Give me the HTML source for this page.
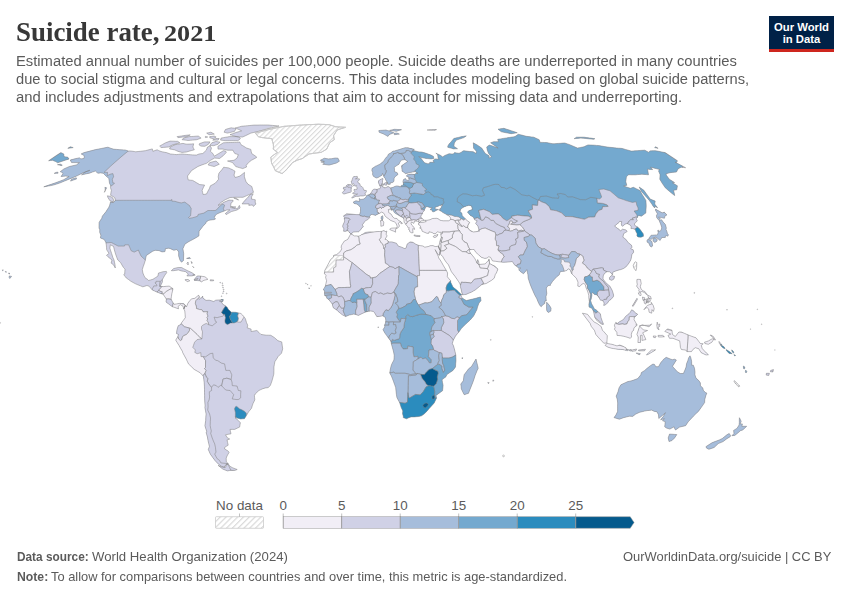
<!DOCTYPE html>
<html><head><meta charset="utf-8">
<style>
html,body{margin:0;padding:0;background:#fff;}
body{width:850px;height:600px;position:relative;overflow:hidden;font-family:"Liberation Sans",sans-serif;}
.t{position:absolute;white-space:nowrap;transform-origin:0 0;filter:grayscale(1);}
#title{left:16px;top:15.5px;font-family:"Liberation Serif",serif;font-weight:bold;font-size:28px;color:#383838;line-height:32px;transform-origin:0 0;transform:scaleX(0.961);}
#title2{left:163.9px;top:20.3px;font-family:"Liberation Serif",serif;font-weight:bold;font-size:22.3px;color:#383838;line-height:28px;transform:scaleX(1.175);}
.sub{left:16px;font-size:14px;color:#5b5b5b;line-height:18px;}
#logo{position:absolute;left:769px;top:16px;width:65px;height:33px;background:#002147;border-bottom:3px solid #ce261e;}
#logo div{position:absolute;width:65px;text-align:center;color:#fff;font-weight:bold;font-size:11.3px;line-height:12px;}
.foot{font-size:13px;color:#5b5b5b;}
.foot b{color:#5b5b5b;}
.leg{font-size:12.5px;color:#5b5b5b;}
</style></head><body>
<div class="t" id="title">Suicide rate,</div><div class="t" id="title2">2021</div>
<div class="t sub" id="s1" style="top:52.3px;transform:scaleX(1.055)">Estimated annual number of suicides per 100,000 people. Suicide deaths are underreported in many countries</div>
<div class="t sub" id="s2" style="top:70.3px;transform:scaleX(1.047)">due to social stigma and cultural or legal concerns. This data includes modeling based on global suicide patterns,</div>
<div class="t sub" id="s3" style="top:88.3px;transform:scaleX(1.062)">and includes adjustments and extrapolations that aim to account for missing data and underreporting.</div>
<div id="logo"><div style="top:4.6px">Our World</div><div style="top:16.8px">in Data</div></div>
<svg width="850" height="600" style="position:absolute;left:0;top:0">
<defs><pattern id="hatch" patternUnits="userSpaceOnUse" width="3.5" height="3.5" patternTransform="rotate(45)"><rect width="3.5" height="3.5" fill="#fff"/><rect width="1.1" height="3.5" fill="#dadada"/></pattern><pattern id="hatchL" patternUnits="userSpaceOnUse" width="4.1" height="4.1" patternTransform="rotate(45)"><rect width="4.1" height="4.1" fill="#fff"/><rect width="1.2" height="4.1" fill="#dadada"/></pattern>
<clipPath id="L"><path clip-rule="evenodd" d="M70.3 160.1L73 159.3L75.8 158.6L77.7 158.2L79.6 157.8L80.7 158.9L83.9 158.5L84.3 156.9L84.1 155.5L83.1 155L82.1 154.4L81.2 153.9L84.1 152.6L88 151.6L91.8 150.6L95.6 149.6L98.7 149L101.8 148.4L104.8 147.8L107.9 147.2L109.3 147.7L110.6 148.2L112 148.7L113.4 149.1L114.9 149.3L116.5 149.4L118.1 149.6L119.8 149.7L121.6 149.8L123.4 149.9L125.2 150L126.8 150.5L128.3 151L129.9 151L131.5 151.1L132.9 151.3L134.3 151.5L135.7 151.8L138.1 151.5L140.4 151.3L142.9 151L145.3 150.7L147.7 150.1L150 149.5L152.3 148.9L152.6 150.1L152.9 151.3L157.1 149.8L158.4 150.4L159.7 151L161 151.5L162.8 151.9L164.7 152.3L166.5 152.6L167.8 153.1L169 153.5L170.3 154L172.3 154.2L174.4 154.4L176.4 154.6L178.3 154.4L180.2 154.2L182.1 154L184.2 154.2L186.2 154.4L188.3 154.6L190.3 154.7L192.3 154.9L194.4 155L196.4 155.1L199 154L200.9 153.7L202.8 153.5L206.3 150.2L207.5 147L210.1 145.9L210.8 147L211.5 148.1L210.4 151.3L211.6 152.4L212.9 153.5L213.6 154.9L214.3 156.2L218.8 153.5L223.4 150.7L225.6 151.1L226.3 152.4L223.1 155.8L219.5 158.5L217.9 158.3L216.3 158.2L214.7 158L210.5 160.3L206.6 163.3L204.3 164.1L201.9 164.9L199.9 165.7L197.9 166.5L194.8 168.5L191.6 170.5L189.6 173.3L187.5 176L187.8 178L188.2 179.9L190.4 180.2L192.6 180.4L194.7 181.6L196.3 182.6L198 183.6L199.7 184.6L202.1 184.8L204.6 185.1L203.3 187.7L202.1 190.3L202.6 192.4L203.1 194.5L204.8 194.3L206.5 194L208 191.1L209.5 188.3L210.4 185.8L212.7 184.6L215.1 183.3L216.9 181.3L218.6 179.2L218.2 176.8L218.9 173.2L221.8 169.8L223.7 167.2L225.3 167.5L227 167.7L228.6 167.9L230.4 168.8L232.3 169.6L233.6 170.4L235 171.2L234.5 173.2L234 175.1L235.2 177.5L237.6 176.8L240 176L244.5 172.4L244.4 174.6L244.4 176.8L245.2 179.2L246 181.6L247.9 184.1L249.8 185.3L251.8 186.5L252.6 189.4L253.5 192.3L249.8 194.3L246.4 195.8L243 197.3L240.4 197.3L237.7 197.3L235 197.3L232.5 197.4L230 197.5L227.5 198.7L225.1 199.8L221.1 202.4L218 205.4L220.4 204.4L224.3 202.1L226.7 201.1L229 200.1L231 200.2L233 200.3L233.2 201.3L231 203.1L230.7 205.4L230.6 207.5L233 208L235.4 208.5L237.4 208.7L239.4 205.4L240.1 208L237 210L234.2 210.8L231.4 211.6L228.8 213.1L226.1 214.6L225.5 213.4L227.7 211.6L229.9 209.8L226.7 210L224.3 211L220.8 212.3L218.7 213.2L216.7 214.1L215 215.9L215 216.6L213.9 217.5L215.6 218.8L214.3 219.6L212.1 219.8L208.8 220.3L206.2 221.9L205.7 223.4L202.9 226.3L202.2 227.3L199.1 231.2L199 233.5L199 235.8L196.4 237.5L192.8 239.5L190.3 240.8L187.8 242.2L184.8 244.3L183.9 246.5L182.9 248.7L183.3 251.1L183.7 253.4L183.6 257L183.5 260.5L181.5 262.2L180 260.2L179.3 258L178.6 255.8L178.7 251.9L176.8 249.5L173.9 250.3L172 249.4L170.1 248.5L168.4 248.2L165.4 248.7L165 251.6L162 251.9L159 250.6L157 250.4L155.1 250.3L152.6 251.3L149.4 253.4L146.3 255.5L145.8 257.8L145.4 260.1L144.2 263.9L143.2 266.7L142.3 269.6L142.9 273L143.9 275.4L145 277.7L147.7 279.5L148.5 280.5L150.7 279.9L152.9 279.3L155.4 277.7L157.9 276.1L158.5 273L160.8 272.4L163 271.7L166.4 271.4L166.7 272.7L164.9 275.1L163.7 277.3L162.4 279.5L162.3 282.1L161.3 284.2L160.2 286.3L163.4 286.6L166.3 286.3L169.2 286.1L171.1 287.4L173 288.7L172.4 291.3L171.8 293.9L171.4 296.5L171 299.1L172.4 301.7L174.1 304.3L176.8 303.9L179.4 303.4L181.6 303.5L183.8 303.6L185.3 305.4L183.8 309L183 306.2L180.3 304.6L178.1 306.4L178.5 308.8L176.2 308L174.3 307.3L172.4 306.7L170.8 305.6L168.4 303.8L166 302L166.4 299.1L164.7 296.6L163.1 294.2L160.4 293.4L158.7 292.7L156.9 292.1L154.6 291L152.3 290L150.6 288L148.9 286.1L146.9 285.5L144.9 286.2L142.8 286.8L140.4 285.8L137.9 284.8L135.5 283.8L133.1 282.5L130.6 281.1L128.5 279.5L126.3 278L123.7 274.6L124.7 274.1L124.8 271.6L125 269.1L123.3 267.3L121.9 264.9L120.6 262.6L117.8 260L116.8 257.5L115.9 255L115.1 252.5L114.4 250L113.5 246.4L111.9 245.6L110.3 244.8L109.9 248.2L110.7 250.8L111.6 253.4L112.8 257.3L114 260L114.5 262.3L115 264.7L115.3 268L113.4 264.7L111.1 263.1L112 260L110 258.4L108 256.8L106.5 255.3L109 253.4L106.7 249.8L106.5 247.3L106.3 244.8L105.9 242.9L105.9 242.5L104.3 239.6L102.3 238.7L100.4 237.9L100.9 235.2L99.7 232.3L99.8 229.2L99 228.6L99 225.5L99.1 222.4L100.4 220.3L101.8 218.3L102.3 216.2L104.1 214L105.9 211.8L107.3 209.6L108.7 207.5L109.6 205.4L110.6 201.8L113.3 202.4L115.3 200.6L115 200.3L115.2 199.6L114.8 197.8L113 196.5L111.8 195.9L110.6 195.3L110.9 192.8L111.4 190.3L110.5 187.8L110.8 186L110.2 184.7L109.5 183.3L109.2 180.9L108.8 178.5L107.6 177.2L105.9 176L105.2 175.2L104.4 174.4L103.3 173.2L100.7 172.9L97.7 173.2L96.6 172.1L95.4 171L92.4 172.1L89.4 173.2L86.8 173.7L84.2 174.3L81.5 174.8L85.2 172L89.8 170.3L86 171.7L82.1 173.2L77.6 175.6L73.3 177.4L69 179.2L64.6 181L60.3 182.8L56.7 184L53.2 185.1L50.7 185.6L48.3 186L46 186.4L43.8 186.8L48.1 185.3L51.8 184.1L55.5 182.8L59.6 181.3L63.7 179.7L69.1 176.5L67.5 176.3L65.9 176L63.5 176.3L61 176.5L63.1 173.6L62.2 172.8L61.4 172L60.2 171.7L63.9 168.9L69.4 166.5L72.9 165.7L76.4 164.9L79.4 162.6L77.2 162.6L75 162.6L73.3 162.6L71.6 162.6L70.9 161.3ZM113.1 202.1L111.5 201.3L109.8 200.6L108.9 199.1L107.9 197.5L107.4 195.8L109.8 196.3L111.3 197L112.7 197.8L113.6 200.1ZM105.2 190.3L105.1 188.5L104.9 187.3L106.6 187.8L105.5 190L104.4 192.3ZM76.6 178.9L73.5 180L70.5 181.1L71.6 179.2L73.9 178.5L76.2 177.7ZM57.5 164.7L59.4 165.1L61.3 165.6L62.3 165.2L61.4 164.7L60.5 164.2ZM58 172.2L58.1 173.2L56.1 173.3L54.2 173.4L55.9 172.4ZM242.1 203.9L244.9 200.3L247.1 198.3L250.3 194.5L253.2 193.8L251.6 196.8L251.5 199.1L253.4 199.4L255.3 199.8L255.2 202.1L255.9 204.1L253.3 206.4L252.4 204.9L250.6 205.2L248.8 205.4L249.1 203.9L246.5 203.9L244 203.9ZM233.8 198L236.2 199.1L238.7 200.1L237.9 199.3L235.5 198.2ZM231.1 206.4L233.5 206.7L235.9 206.9L234.6 208L231.7 207.2ZM171.3 270.7L173.6 268.6L175.9 268L178.2 267.5L181.6 267.5L183.7 268.7L185.8 269.8L188 270.9L190 271.8L192 272.7L195.2 275.1L191.9 275.9L189.4 275.9L186.9 275.9L188.3 274.1L185.6 271.7L183.4 271.3L181.2 270.9L178.4 269.9L175.6 270.4L173.3 270.7ZM194 279.8L197.1 276.1L198 275.9L200.5 276.1L202.5 276.4L204.5 276.7L205.8 277.4L207.9 279.3L206.2 279.8L203.9 280.3L201.3 281.9L200 280.8L197.5 280.6L194.1 280.3L197.7 279.3L198 278.2L196 279ZM184.9 279.8L188.1 279.5L189.8 280.8L187.4 281.6ZM210.3 279.8L212.1 279.9L213.9 280.1L213.4 280.8L210.2 280.8ZM221 299.6L223.3 299.6L222.9 301.5L220.9 301.5ZM188 262L188.3 264.7L188 264.9L186.9 263.6ZM190.6 258.4L189.8 257.6L187.5 258.1L186.6 258.4L189.4 258.6ZM192.2 262.6L191.2 261.5L191.8 263.6ZM192.6 266.5L193.4 267.3L194 267.8L193.2 266.7ZM282.1 173.6L279.9 172.7L277.6 171.7L275.4 170.8L274.4 168.6L273.4 166.5L272.5 164.9L271.6 163.3L271.3 161.2L271.1 159.1L270.8 157.1L274.1 154.7L277.5 152.4L276 151.3L274.6 150.2L273.2 149.1L273.5 147L273.3 144.2L272.8 142.5L272.3 140.7L272 138.7L270 138.5L268 138.3L266 138.1L264 137.8L262 137.6L260.8 137.3L259.5 137L258.3 136.6L257.2 135.5L256.3 134.3L255.4 133.1L257.7 132.5L260.1 131.9L262.4 131.3L264.7 130.6L267 130L269.4 129.4L271.8 128.9L274.2 128.3L276.2 127.9L278.3 127.5L280.3 127.1L282.3 126.7L284.2 126.3L286.2 126.2L288.2 126L290.1 125.9L292.1 125.7L294 125.6L296 125.4L297.9 125.3L299.8 125.1L301.7 125L303.6 124.9L305.5 124.8L307.3 124.7L309.2 124.6L311 124.5L312.9 124.5L314.7 124.4L316.6 124.3L318.4 124.2L320.2 124.3L322 124.4L323.7 124.4L325.5 124.5L327.3 124.6L329.1 124.7L330.6 125.1L332.1 125.6L333.7 126.1L335.3 126.7L337 126.8L338.7 126.9L340.4 127L342.1 127.1L343.8 127.2L345.5 127.3L343.5 128L341.4 128.6L339.3 129.3L337.2 130L336 131.8L334.8 133.7L333.6 135.7L333.9 137.6L334.3 139.7L332 141.2L329.7 142.8L328.7 144.9L327.7 147L326.7 149.1L324.9 150.2L323 151.3L321.1 152.4L318.6 152.7L316.2 153L313.8 153.3L311.3 153.7L308.9 154L306.8 155.5L304.6 156.9L302.5 158.5L300 159.3L297.5 160.1L295 161.3L292.5 162.6L289.6 166.1L287.6 168.4L285.4 170.8ZM246.6 167L244.7 167.8L242.7 168.6L241 168.1L239.2 167.6L237.5 167.1L235.7 166.5L234.7 165.2L233.6 163.9L232.6 162.6L230.9 162L229.2 161.5L227.5 161L229.6 160.7L231.8 160.5L234 160.3L237.1 158L238.3 154.6L236.6 154.1L234.8 153.5L233.8 151.9L232.9 150.2L231.2 150.2L229.6 150.2L227.9 150.2L226.2 149.9L224.6 149.5L222.9 149.1L221.3 149.1L219.6 149.1L218 149.1L217.9 146.3L220.6 144.5L223.4 142.8L225.1 142.7L226.7 142.6L228.4 142.6L230.4 142.5L232.4 142.5L234.4 142.4L236.5 142.4L238.1 142.2L239.8 142.1L240.4 143.4L241 144.7L242.4 145.5L243.8 146.3L245.2 147.2L246.7 148.1L248.1 148.5L249.4 148.9L250.8 149.4L251.2 151.4L251.7 153.5L253.3 154.6L255 155.8L256.6 156.9L256.5 157.6L254 158.9L251.4 160.3L248.5 162.6L246.2 165.4ZM209.7 162.6L211.9 162L214 161.5L216.1 161L217.1 162L218.2 163.1L219.3 164.2L216.7 165.4L214.2 166.5L212.3 166.1L210.4 165.6L208.1 164.9ZM170.1 147L175.2 144.7L177.8 144.2L180.4 143.8L183 143.4L184.3 143.7L185.6 144L186.9 144.2L189.2 144.1L191.5 144L193.7 143.8L192.9 147L193.6 148.4L194.3 149.8L191.7 150.5L189.1 151.2L186.5 152L184.2 152.2L181.9 152.4L180.5 152L179.2 151.7L177.9 151.3L176.8 150.8L175.6 150.3L174.5 149.8L172.8 149.5L171.2 149.2L169.6 148.9ZM159.7 146.1L162.6 144.4L165.5 142.8L170.1 141.1L172 141.2L173.8 141.2L175.7 141.3L177.6 141.3L178.7 142L179.8 142.8L177.4 143.5L175 144.2L172.5 144.9L168.5 147L166.1 147.2L163.6 147.4L161.2 147.6L160.5 146.9ZM183.5 138.1L186.3 137.3L189.2 136.6L191.5 136.5L193.8 136.4L196.1 136.2L198.3 136.1L199.2 136.7L200.2 137.4L201.1 138.1L196.8 139.7L194.6 139.9L192.5 140.1L190.3 140.3L188.1 140.5L186.6 140.3L185.1 140.1L183.6 139.9L182.1 139.7ZM199.1 144.9L200 145.5L201 146.1L203 146.2L204.9 146.3L208.5 144.2L210 141.9L208.1 141.9L206.3 141.9L204.5 141.9L202 142.8L199.5 143.6ZM209.7 145.5L211.6 145.6L213.6 145.7L215.8 145L218.1 144.2L220 142.1L218.7 141.9L217.3 141.7L215.9 141.5L213.9 142.1L211.8 142.8ZM237.9 140.7L235.8 140.7L233.7 140.7L231.6 140.7L229.5 140.7L227.4 140.7L225.3 140.7L223.7 140.5L222.1 140.3L220.5 140.1L221.1 138.1L223.2 137.7L225.3 137.3L227.3 137L229.4 136.6L231.2 136.6L233.1 136.6L234.9 136.6L236.7 136.6L238.5 136.6L239.5 137.6L240.4 138.7ZM213.5 138.7L212.2 138.4L211 138.1L209.8 137.8L209.7 136.6L211.9 136.4L214.2 136.1L215.1 136.5L216.1 137ZM218.2 140.1L216.3 140.1L214.5 140.1L212.7 140.1L216 138.5L217.5 138.5L219.1 138.5ZM186.9 136.6L184.7 136.9L182.4 137.1L180.2 137.4L177.9 137.6L177.1 136.6L179.3 136.3L181.5 136L183.7 135.6L185.9 135.3L188 135.1L190.2 134.9ZM242.7 137L245.5 135.7L248.2 134.4L250.9 133.1L253.5 132.5L256.1 131.9L258.6 131.3L261.2 130.6L263.8 129.9L266.3 129.2L268.8 128.5L271.3 127.9L273.7 127.3L275.5 126.9L277.2 126.4L279 126L277.4 125.9L275.7 125.7L274.1 125.6L272.5 125.4L270.9 125.3L269.3 125.1L267.7 125L265.7 125L263.8 125L261.8 125L259.8 125L257.9 125.1L255.9 125.1L253.9 125.1L251.9 125.3L249.8 125.5L247.7 125.7L245.6 125.9L243.5 126.1L241.4 126.3L239.3 126.9L237.1 127.5L235 128.1L236.3 128.6L237.6 129L238.9 129.5L239.8 130L240.7 130.4L241.6 130.9L239.5 131.5L237.3 132.1L235.1 132.8L232.6 133.7L230 134.7L231.5 135.1L233.1 135.6L234.6 136.1L235.8 136.4L236.9 136.7L238.1 137L239.7 137L241.2 137ZM234.7 128.3L233.5 128.1L232.4 128L231.2 127.8L228.3 128.6L225.4 129.5L224.1 132.2L225.2 132.5L226.3 132.8L227.3 133.1L229.7 132.6L232.1 132L234.4 131.5L235.8 129.2ZM214.3 134.1L213.2 133.5L212 132.8L210.9 132.2L208.8 132.7L206.7 133.1L207.5 133.7L208.3 134.2L209.1 134.7L210.9 134.5L212.6 134.3ZM207.7 137L206.5 136.7L205.4 136.4L205.4 137.6ZM185.3 305.4L186.4 307L187.9 303.3L189.7 300.7L191.4 299.1L192.8 298.6L194.9 298.3L197.6 296L198.7 295.3L199.5 297.3L198.3 298.6L199 299.4L200.2 298.3L202 297.6L202.6 296L202.9 298.1L206 300.4L209.2 300.2L211.5 300.8L213.8 301.5L215.7 300.2L218.2 300L220.7 299.9L219.3 301.2L221.5 302L222.8 304.3L225.1 305.6L227.3 307.5L228.4 309.6L229.1 310.1L231.3 312.2L233.6 312.2L235.9 312.3L238.6 313L240.9 313.5L242.5 315L244.1 316.9L245.4 318.7L246.5 322.6L247.7 325.2L247.2 327.8L249.2 328.5L251.1 329.1L251.1 331.5L254 331L256.9 330.5L258.9 332.4L260.9 334.4L263.5 334.8L266.2 335.2L268.5 335.2L270.8 335.3L274.3 337.5L277.8 340.6L279.7 341.3L281.7 341.9L281.9 343L282.3 345.9L282.7 348.9L282.1 351L281.5 353.2L278.1 356.6L276.5 359.2L274.8 361.8L274.4 364.4L273.9 367L273.9 370.5L273.8 374.1L272.9 377.5L272 380.8L271.2 383.1L270.4 385.3L268.3 387.6L265.6 387.9L262.8 388.7L260.8 389.6L258.9 390.5L257.1 392.2L255.3 393.9L254.4 395.5L254.6 397.7L254.8 399.9L253 403.6L252.2 405.9L251.5 408.3L250 410.1L248.5 411.9L246.3 415.8L244.4 418.7L242.6 418.8L240.7 419L238.9 418.5L237 417.9L235.4 416.4L235.8 418.2L239 421.3L240.4 422.6L240 424.8L239.6 427.1L237.1 428.2L234.7 429.4L232.4 429.4L230 429.4L230.5 431.6L231 433.8L228.2 434.3L225.5 434.8L227.5 437.9L229.7 439L227.8 439.8L227 439.8L227.6 442.5L228.2 445.2L226.4 446.3L224.6 447.5L224.7 449L227.8 450.8L229.1 452.3L228.1 454.1L227.1 455.9L226.2 458.1L226.3 461.9L228.5 463.8L226.4 464.2L224.6 466.4L224.4 467.7L221.4 466.2L218.5 464.2L214.9 460.4L212.6 457.3L210.3 454.1L209.3 451.8L208.3 449.5L209.4 446.4L208.7 443.5L208 440.5L207.4 436.9L206.7 434.6L206.1 432.2L206.8 431.7L205.8 428.7L204.9 425.7L205.2 423.9L205.7 420.5L205.8 417.3L206.1 414L205.5 410.7L204.9 407.5L205.1 405.9L204.8 402.1L204.6 398.3L204.6 395.4L204.5 392.4L204.5 389.5L204.4 386.1L204.2 382.7L203.8 379.4L203.3 376.1L200.2 372.8L197.2 371.1L194.2 369.4L191.3 366.6L188.5 363.9L187.4 361.5L186.3 359.2L184.5 355.9L182.7 352.6L182.4 351.3L180.7 348.5L179.1 345.6L177.4 342.9L175.7 340.1L177.7 337L178.5 334.4L176.5 333.6L176.9 330.2L177.5 328L178.2 325.8L180.8 324.4L181.3 323.1L183.3 320.4L185.3 317.7L185.1 314.3L184.8 310.9L183.8 309ZM228.7 464.4L229.8 466.2L232.9 467.9L235.1 468.7L237.2 469.5L234.9 470.4L233 470.4L231.1 470.4L229.2 470.6L227.4 470.9L225.1 470L222.8 469.1L218.1 465.4L221.7 466.9L223.7 467L225.7 467.2L226.2 464.7ZM438.4 246.1L439 245.3L439.4 244L439.7 242.2L439.9 241.4L440.5 239.3L441.3 237.4L440.9 235.2L440.8 234.1L441.2 232.3L439.2 232.3L437.6 231.8L435.5 233.5L434 233.8L432.1 232.5L429 231.8L428.8 233.3L427 233.3L423.9 232L422.1 231.2L421.6 228.9L419.6 227.9L421 227.6L419.9 225.3L418.6 224.7L418.7 223.4L419 222.9L419.6 222.4L422.8 222.4L424.6 222L426.3 221.5L424.5 220.3L427 220.3L430.1 219.7L432.4 218.5L434.6 218.4L436.8 218.3L438.8 219L439.6 220.1L441.4 220.5L443.1 220.8L445 220.8L446.9 220.8L448.6 220.8L450.6 219.6L450.7 219.3L450.6 217.9L448.7 215.7L446.4 214.6L445.7 214.1L442.5 212.3L441.3 211.3L440.1 210.8L438.7 209.8L441.1 208L441.7 206.2L442.9 204.9L440.9 205.2L439.6 205.4L438.3 206.2L436.7 206.7L435.2 207.2L435.1 209L438.3 209.5L436.2 210.5L433.9 211.8L432.4 211.6L431.9 210L430 209.6L431.9 208.2L432.1 207.5L430.5 207.7L427.5 206.7L426 206.7L424.3 210L424.2 211L422.5 212.6L422.5 213.7L421.3 215.2L420.7 217L421.9 218.3L424.2 220.3L422.2 220.8L421.1 220.9L420 221.9L418.7 223.3L419.4 221.9L418.1 221.5L417.8 221.2L414.6 221.1L413.8 223.4L411.7 222.1L411.5 221.9L411 223.4L411.8 225.1L412.8 226L414.4 228.1L414.6 229.4L412.8 228.6L412.7 229.9L413.1 232.7L411.6 232.8L409.8 231.8L409.4 229.7L408.3 229.2L409.5 228L408.2 227.9L407.4 226.3L406 224.7L405.6 224.2L405.5 223.7L404.1 222.4L404 220.1L403.8 218.5L403.1 218L402.2 217.2L401.8 217.1L400.9 216.6L399 215.5L397.2 214.4L394.6 212.8L392.7 209.8L391.1 210.3L391.3 208.9L388.3 209.5L388.8 210.8L388.5 212.1L389.2 213L391.1 214.1L392.8 217L394.5 218.3L396.9 218.5L398.7 220.6L401 221.8L402.3 223.2L402 224L399.5 222.3L398.3 223.2L399.5 226L398.3 227.6L396.6 228.6L396.6 228.1L397.2 226.3L396.1 223.4L394.3 221.8L393.1 221.4L390.4 220.3L388.7 218.9L386.3 217.2L384.9 215.7L384.5 214.4L383.3 212.8L381.4 212.1L379.6 213.4L378.6 213.7L378.1 213.9L375.3 215.4L374.2 214.9L372.6 214.6L371.1 214.4L369.4 216.8L369.6 217.2L369.9 217.5L367.6 219.8L365.6 220.6L364.8 221.6L362.3 224.9L363.4 226.7L361.9 227.7L360.8 229.7L358.2 232L357.6 231.8L355.5 231.9L353.5 232L351.4 233.6L350.9 233.8L349.4 232.5L349.2 231.8L348 230.7L347 230.7L345.9 231.2L343.6 231.2L343.9 228.8L342.7 226.8L342.7 226.6L342.9 225.1L344.4 221.9L344.6 220.5L344.3 218.6L344.5 217.7L343.5 215.9L345.5 214.6L346.6 213.7L348.9 213.9L351.1 214.1L353.1 214.3L355.1 214.5L356.7 214.6L359.3 214.7L359.7 214.4L360.5 211.6L360.5 208.7L360.5 207.6L358.5 205.2L356.9 204.1L354 203.4L353.3 202L355.9 200.8L358.9 201.3L359.8 201.1L359.1 198.6L359.8 198.7L360.6 199.4L363.2 199.2L365.2 198L366.2 196.8L366.7 195.4L368 195L368.7 194.8L369.7 194.3L370.1 194.1L370.9 193L371.8 191.8L372.3 190.4L373.7 189.3L374.7 189.1L377 189.5L378.6 188.8L379.6 188.9L379.9 188.2L380.5 187.8L380.2 186.5L379.7 185.5L379.1 184.1L378.5 182.8L378.5 180.9L379.2 180.2L381.6 178.9L382.9 178.6L382.9 179.3L382.5 180.6L382.5 182.5L382.1 183.8L381.2 184.1L381.7 185.3L382.1 185.8L382.6 186.9L384.3 187.3L384.2 187.9L385.2 187.8L386.4 187.3L388.1 186.5L389.8 187.5L390.6 188L393.1 187.3L394.9 186.4L396.8 185.9L399.3 186.3L399.1 186.8L400.9 186.7L401.4 186.2L401.3 185.4L402.5 185.4L403.2 184.6L403.4 183.6L403.2 182.7L402.9 181.6L403.6 179.4L405.5 178.6L406.5 180.2L408.6 180.4L409 179.2L408.7 178.3L408.8 177L406.8 176.5L406.5 175.6L407.5 174.8L408.8 174.5L411.1 174.1L413.9 174.5L414.8 174.4L415.6 173.6L417.9 173.3L416.3 172.7L415.5 171.5L413.9 171.8L412.3 172.1L410.6 172.4L409 172.8L407.2 173.2L405.4 173.6L403.7 172.2L402.1 171.2L402 169.6L401.8 167.7L401.6 165.8L403.9 164.1L405.8 162.8L407.7 161.4L404.9 159.6L403.2 159.8L401.5 160.1L399.9 162.1L399 164.2L396.7 165.6L395.4 166.5L394.1 167.5L394.5 169.1L394.4 171.5L397.2 172.7L398 174.4L395.6 176.3L394.1 178L394 181.3L392.7 182.5L390.3 182.8L390.2 184.3L387.9 184.3L387.7 183.8L387.2 182.7L386.7 181.4L385.6 179.7L385.4 178.7L383.9 177L383.6 175.6L383.3 175.1L382.5 173.4L381.9 175.6L381.6 175.4L379.8 176.5L378 177.6L376.2 178L373.4 176.3L372.6 174.6L372.7 172.2L371.9 170.8L372 168.6L374 167.3L375.5 166.2L376.7 165.8L378.3 164.9L380.4 164L381.5 162.8L383.2 161.7L384.7 159.4L386.2 157.3L387.6 156.2L388.4 154.2L390.7 152.9L393 151.1L394.5 151L395.7 150.6L397 150.2L399.3 149.6L400.6 149.1L401.9 148.7L403.5 148.2L405.1 147.7L406.7 147.8L408.3 147.8L409.7 148.3L412 148.8L414.3 149.4L412.5 150.7L414.2 150.7L416.2 151.2L418.1 151.8L419.8 151.9L421.5 152L423.8 152.6L426.2 153.3L428.6 154.2L431 155.1L433.5 156.4L433.8 158.5L431.4 158.9L429.6 158.8L427.8 158.6L426.1 158.5L424.2 158.1L422.4 157.8L420.5 157.2L418.7 156.6L420.8 158L422.5 160.3L424.3 162.6L425.9 163.2L427.6 163.7L429.4 163.7L429.8 162.3L432 162.3L434.2 162.3L432.9 160.7L434.9 158.9L437.1 159L439.3 159.1L438.1 158.2L437.9 156.4L437.6 154.6L435.9 153.2L438.1 154.2L440.4 155.3L442.7 156.9L444.8 155.5L446.2 154.9L447.7 154.3L449.1 153.7L451.3 153.9L453.4 154L454.5 152.6L456.7 153L459 153.3L461.1 152.4L462.9 151.1L463.8 150.7L465.9 151L468 151.3L469.8 151.5L471.5 151.6L473.3 151.8L476 153.5L476.4 151.3L473.5 148.1L473.5 146.1L473.4 144.2L473.2 142.8L477.1 144.9L481.7 148.1L483.5 150.8L485.3 153.5L489.2 155.8L488.9 158L490.2 157.4L491.6 156.9L488.6 153.5L487.3 150.2L486.7 147L488 146L489.3 145.1L492.4 145.9L495.2 147L498.1 148.1L494.4 145.4L490.6 142.8L492.2 142.2L493.7 141.7L495.3 141.7L496.9 141.7L498.4 141.7L497.7 139.3L499 139.1L500.4 138.9L501.7 138.7L503.4 138.4L505 138.2L506.7 137.9L508.3 137.6L509.9 137.4L511.5 137.1L513.2 136.9L514.8 136.6L516 135.9L517.1 135.1L518.3 134.3L520 134.7L521.8 135.1L524.1 135.7L526.4 136.3L528.8 136.6L531.3 136.9L533.8 137.2L539.2 139.7L540.1 142.4L542.3 142.4L544.5 142.5L546.7 142.6L548.8 143L550.9 143.4L553 143.8L554.9 143.7L556.9 143.5L558.8 143.4L560.8 143.3L562.7 143.1L564.7 143L567.5 143.9L570.3 144.9L573.9 146.5L577.5 148.1L579.2 147.7L580.8 147.4L582.4 147.1L584.1 146.8L585.4 146.1L586.7 145.5L588 144.9L590.1 145L592.2 145.1L594.3 145.2L596.4 145.4L598.5 145.5L601.4 146L604.2 146.5L607.1 147L609.5 147.3L612 147.5L614.4 147.8L616.8 148.1L618.7 148.2L620.5 148.3L622.4 148.5L625.3 149.4L628.2 150.2L631.1 151.1L633.1 151L635.1 150.8L637.1 150.7L639 150.6L640.9 150.4L642.8 150.3L644.8 150.2L648.9 152.4L649.4 151.6L649.9 150.9L651.7 150.8L653.6 150.7L655.4 150.7L658.6 151.3L661.9 152L665.2 152.6L669.3 155.3L673.4 158L677.4 160.7L677 161.7L676.5 162.6L675 162.1L681.6 165.6L685.6 167.7L683.4 167.5L681.2 167.2L680.1 167.8L679.1 168.3L678 168.9L677.5 169.9L677 170.9L676.5 172L674.3 172.2L672.2 172.4L670 172.7L668.7 173.1L667.3 173.5L665.9 173.9L666.6 175.6L669.3 179.2L674.6 182.6L672.4 182.8L677.4 185.8L677.1 187.8L676.7 189.8L675.1 190L673.5 190.3L674.2 192.9L674.7 195.6L672.1 193.6L669.6 191.5L665.3 187.8L663.6 185.3L661.9 182.8L659.8 179.2L659.9 177.6L660 176L660 174.4L658.5 170.8L659.8 169.6L656.8 168.8L653.7 168L650.6 167.2L652.6 169.6L650 169.4L647.5 169.1L647.9 171L648.2 172.9L648.5 174.8L646.3 174.6L644.1 174.4L641.9 174.2L639.8 174.4L637.7 174.6L635.5 174.8L633.2 174.8L630.9 174.8L628.6 174.7L627.5 175.7L626.4 176.8L626.1 179.2L625.8 181.7L626.8 185.3L625.2 185.7L623.6 186L627 187.2L630.4 188.3L631.9 187.8L633.4 187.3L636.7 188.9L640 190.5L641.8 194L643.9 197.2L645.9 200.5L646.1 203.2L646.2 205.9L646 209.5L645.8 213.1L644.3 214.1L642.8 215.2L641.3 216.2L638.7 215.4L637.6 216.7L637.4 217.5L636.3 218.8L637.3 220.8L635.8 222.4L634.3 224L634.9 225.5L637.7 227.1L640 229.3L641.6 231.6L643.2 233.8L643.5 236.2L641 237.2L638 237L636.9 235.9L637.1 233.8L636 231.8L635.4 230.1L635 229.3L632.8 228.6L630.9 228.6L631.2 227.1L631.3 226.8L629.8 224.7L627.5 223.8L627.4 223.4L624.8 224.2L622.9 226.3L621.6 225.5L621.3 223.4L621.8 221.6L619.6 221.4L618.1 223.4L617.3 223.7L616 224.9L614.6 226L617.1 228.1L619.1 229.3L620.5 231L622.4 229.2L625.9 229.9L627.2 231.5L625.4 232.6L623.6 233.7L622.9 237.2L625.6 239.1L628.3 242.7L631.4 245.1L632.1 247.2L630.7 248.7L633.2 249.8L633.7 252.1L631.8 254.7L631.5 256.8L630.8 260L629.6 262L628.3 264L625.8 267L623.4 268.6L620.7 269.6L619.1 269.9L615.9 270.9L612.8 272.2L612.5 275L611.1 273L609.5 271.8L607 271.6L605.2 273L604.4 273.5L603.2 275.9L603 279L605.3 282.1L608.2 284.8L609.7 285.9L610.9 288L612 290L612.7 291.8L613.6 295.2L613.3 296.8L611 299.4L608.8 300.8L607.8 302.8L605 305.1L603.7 305.4L604.2 303L602.7 300.6L602.1 300.2L600.5 300.2L598.9 297.4L597.8 296L596.8 294.9L594 294.2L592.9 292.6L591.7 293.4L591.9 295.1L591.6 297.1L591.2 299.1L590.6 300.4L591.6 303.8L592.9 305.9L594.4 309L596.1 309.8L598 311.7L598.5 311.9L600.4 314L601.1 317.9L602.3 321.3L603.5 324.2L602.4 324.4L601.4 323.9L598.7 322.1L597.7 321.3L596.5 320L594.8 317.4L594 313.7L593.5 311L593.1 310.6L591.9 308.3L589 307L588.9 304.3L589.4 301.7L588.8 297.8L588.8 295.3L588.2 293.2L587.5 291L585.9 287.4L585.4 284.8L583.8 283.5L582.1 284L579.7 286.6L577.8 286.1L578 282.1L576.3 278.2L573.4 275.4L571.8 273.8L570.8 271.8L570.1 269.6L568.2 268.8L567.4 269.9L566.2 270.7L565.1 270.9L564.2 271.2L562.2 271.4L560.7 271.4L559.7 273L559.3 274.8L556.8 276.7L554.6 279.1L552.4 281.6L550.5 284.5L550.6 285.3L548.1 285.5L547.5 286.6L546.3 287.9L546.5 290.8L546.8 293.6L546 296.6L546.1 298.8L546.3 300.9L545 300.9L544.7 303.6L542.6 304.9L541.3 306.7L539.9 305.6L538.1 301.9L536.7 298.5L535.5 296.4L534.4 294.3L532.9 290.8L531.4 287.4L529.9 283.5L529 280.8L528.2 278.2L527.9 274.6L527.4 272.6L526.8 269.6L525.9 270.9L523.5 273.8L520.2 271.4L518.7 269.7L520.8 268L518.5 268.3L517.2 266.5L516.5 266.2L514.8 265.2L513.3 263L512.3 261.5L510.1 261.8L507.9 262L505.3 262.2L502.8 262.3L501.2 262L498.9 261.8L495.7 261.3L492.5 260.9L490.5 257.3L488.7 256.8L487 258.1L484.8 258.4L481.4 257.3L478.6 254.8L475.8 252.3L474.1 249.5L472.6 249.5L470.6 249.6L469.3 249.6L469.4 251.1L470.6 253.3L472.3 255.3L473.9 257.3L475 258.8L476.1 261L477.1 263.2L477 262.6L477.7 259.6L478.7 261.8L478.9 263.6L479 264.5L482.1 264.2L485.2 263.9L487 261.9L488.4 260.5L489 258.9L489.4 261L489.4 262.3L490.1 263.9L492.5 265L494.9 266.2L497.9 269.1L496.4 273L495.4 274.3L494.2 278.2L491.6 280.3L488.9 281.9L486.2 283.5L484 284L481.9 284.5L479.7 286.3L477.4 288.2L475.2 290L473.4 291L471.6 292.1L468.8 293.2L466 294.4L464.3 294.6L462.5 294.8L462 293.1L461.1 289.2L460.4 286.8L460.4 285L459.9 283.7L458.6 281.6L457.2 279.5L454.8 276.1L453.1 273.9L451.4 271.7L449.7 267.8L448.5 264.9L446.5 262.6L444.7 260L442.6 256.4L440.9 254.7L440.4 253.4L440.5 251.2L440.6 250.8L440.5 250.7L440.4 250.8L439.3 248.5L438.5 246.4ZM460.8 209L462.3 208L463.8 206.9L466.4 206.1L468.9 205.2L471.5 205.9L472.5 209.5L470.7 210.1L468.9 210.8L467.5 212.1L470.2 215.2L473.4 217.2L474.6 219.8L477.2 220.8L475.6 223.4L477.9 226L478.5 228.1L479 230.2L477.3 231.5L475.2 231.8L473.1 232L469.5 229.9L467.7 227.6L468.1 225L469.7 222.4L467.7 221.1L465.3 218.8L462.3 215.7L461.8 213.1L460 211.6ZM60.8 152.6L61.8 153.1L62.8 153.5L63.8 154L63.9 155.3L64 156.6L65.8 156.9L67.7 157.1L68.3 158L69 159L64.9 160.3L61.3 161.5L57.6 162.8L56.5 162.1L55.5 161.4L54.1 160.9L52.7 160.3L50.6 160.5L48.6 160.7L52.6 158L56.6 155.3ZM351.6 197.7L352.6 197.9L354.7 196.9L356 196.3L358.1 196.4L360.4 195.9L363.4 195.9L365.8 194.9L364.8 194L365.5 193L366.4 191.5L366.3 190.5L364 190.4L363.6 189L363.3 188.8L362.8 187.5L361.8 186.5L360.7 186.2L360.2 185.3L359.9 183.8L359.2 183.3L358 182.7L358 182.1L357.7 181.7L359.1 180L359.6 178.9L357.3 178.7L355.4 178.9L357.4 178L357.3 176.4L355.5 176.5L353.7 176.5L352.7 178L352.2 179.7L352 180.9L351.2 181.1L352 184.6L353.6 183.6L354.2 184.2L353.1 185.7L355.3 185.7L356.6 185.6L356 186.5L357.2 187.8L357 189.3L355.5 189.4L354 189.5L354.2 190.8L354.9 191.5L353.7 192.5L352.5 193.1L353.1 193.8L354.7 193.9L356.6 194.1L357.6 194L356 194.8L354 195.3L353.4 196.3ZM348.9 184.4L351.1 184.8L352.3 186.3L351.5 187.5L351.1 189.4L351.2 191.5L350.5 192.3L349.2 192.5L346.6 193.3L343.6 194.1L342.6 193L342.4 192.5L343.5 191.3L344.4 190.3L345.3 189.6L343.3 189L343.6 187.3L346.3 187.2L346 186L347 184.9ZM324.3 163.4L322.7 164.2L324.8 164.5L327 164.8L329.1 165.1L331.6 164.4L334.1 163.7L336.5 163L339.4 161.2L338 158.2L335.4 158L333.6 158.3L331.8 158.7L330.1 158.8L328.3 158.9L326.3 158.6L324.3 158.2L322.3 159.3L320.3 160.3L322.3 160.9L324.4 161.4L322.6 161.7L320.8 161.9L322.5 162.3L324.2 162.8ZM382.6 215.7L383.1 218L382.4 219.9L381.1 219L381.2 216.7ZM382.4 220.2L383.8 222.1L383.5 225.6L380.9 226.3L380.9 224.1L380.8 221.9L380.3 220.8ZM389.6 229.2L391.7 228.1L394.1 228L396.4 227.9L395.5 229.9L395.6 232.2L393.8 231.2L391.9 230.5L390.1 229.7ZM414 234.9L416.2 235.4L418.1 235.5L420.1 235.7L420 236.5L416.7 236.5L414 235.7ZM433.2 236.5L434.6 235.5L436.3 235.1L438 234.6L436.9 236.5L434.9 237.5L433.5 237.1ZM383.9 183.6L385.9 182.6L387 182.8L387 184.6L386.1 185.3L384.5 184.8ZM381.8 184.1L383.1 183.8L383.8 185.1L382.6 185.3ZM379.1 132.2L381 133L383 133.7L384.6 134.6L386.3 135.5L388 136.4L389.1 134.7L390.7 134L392.3 133.4L393.8 132.8L392.2 132.1L390.6 131.5L389 130.9L387.4 130.5L385.9 130L384.1 130.2L382.4 130.3L380.6 130.4L378.8 130.6ZM389.6 130.4L391.2 130L392.7 129.7L394.3 129.3L396.1 129.4L397.9 129.5L399.7 129.6L401.5 129.7L399.8 130.2L398.1 130.7L396.3 131.3L394.6 131.1L392.9 130.8L391.3 130.6ZM394.4 134.7L396 134.5L397.7 134.3L399.4 134.1L396.8 133L395.4 133.1L394 133.3ZM427.2 130L428.6 129.9L430.1 129.7L431.7 129.7L433.3 129.6L434.9 129.6L436.5 129.6L434.8 130.2L433.3 130.2L431.9 130.2L430.4 130.2L428.8 130.1ZM447.7 147.2L449.6 147.8L451.6 148.3L453.5 148.9L455.5 148.8L457.5 148.7L453.8 146.3L454.1 144.7L454.3 143L455.4 141.5L456.4 140.1L458 139.6L459.5 139.1L461 138.6L462.5 138.1L463.9 137.6L465.1 136.7L466.3 135.9L464.7 136.1L463.2 136.4L461.6 136.6L460.1 137L458.5 137.4L457 137.7L455.4 138.1L453.8 138.5L453 139.5L452.1 140.6L451.2 141.7L450.2 142.8L449.2 143.8L447.9 145.9ZM501.4 131.8L503.8 132.3L506.3 132.8L508.7 133.2L511.1 133.7L512.7 133.5L514.2 133.2L515.7 133L517.3 132.8L514.5 131.8L511.8 130.9L509.2 130L506.5 129.2L503.9 128.3L502.4 128.5L501 128.7L499.5 128.9L498 129.2ZM574.1 138.7L575.8 138.5L577.5 138.4L579.2 138.2L580.9 138.1L583.4 138.3L586 138.5L588.5 138.8L591.1 139L593.7 139.3L594.9 138.7L592.2 138.3L589.5 137.9L586.8 137.6L584.1 137.2L582.2 137.2L580.3 137.2L578.4 137.2L576.5 137.2L575.7 137.7L574.9 138.2ZM654.6 147.6L655.6 146.8L658.1 148.3ZM70.4 146.8L71.8 147.2L73.2 147.6L70.5 148L67.8 148.3ZM654.7 208L654.7 206.2L657.6 207.7L654.7 204.1L655.2 201.1L652.7 200.1L650.2 199.1L648.4 196.5L646.5 194L643.9 190.3L639.2 187L640.2 189L641.5 191.5L644.8 195.3L647 197.8L649.2 200.3L651.8 204.1L653.3 206.4ZM658.4 219.8L660.3 218.8L658.5 217L661.4 217.6L664.4 218.3L665.2 215.7L667 214.9L664.6 212.6L664.5 212.2L662.2 212.8L658.9 211L655.6 209.3L655.3 210L657.5 213.9L656.5 215.2L656.7 217.5ZM659.1 220.2L661.6 219.8L663.2 222.1L665.4 224.5L666.3 227.9L666 229.4L667 231.8L667.4 233.8L668.4 234.6L667.9 236.2L666.6 235.7L665.3 236.2L665.3 237.5L664 237.5L661.8 237.5L661.5 238.3L660.5 239.6L660.1 240.5L657.7 238.5L655.4 237.2L652.9 238L651.3 239.3L648.7 239.1L649.4 237.5L651.2 235.2L652.7 235.2L654.7 235L656.7 234.9L657.6 234.6L658.2 232.3L657.7 230.7L658.4 229.9L658.5 231.5L660.7 230.7L661.5 228.9L661.7 227.3L660.5 223.7L659.7 221.9ZM653 240.9L654.8 242.5L656.9 241.2L657.3 239.6L655.1 238L653 238.8ZM646.9 240.4L648 239.3L649.8 240.1L651.9 241.4L652.3 243.6L652.6 245.9L651.4 246.9L650 246.1L648.8 243L647.2 242.2ZM635.5 261.8L636.8 262.6L636.7 265.2L636.6 267.8L635.9 270.7L634 268.3L633.2 265.7L634.5 262.6ZM609.4 277.7L611.3 275.6L614.6 276.4L613.9 279L611.8 280.3L609.6 279.5ZM546.7 310.1L546.5 306.4L546.6 304.3L546.7 302.3L547.4 303L549.6 305.6L551.1 308.3L550.8 311.1L548.5 312.4L547.1 311.4ZM438.4 246.1L435.8 246.6L434.2 246.2L433 245.6L430 245.7L428.9 246.4L426.9 246.8L424.8 247.2L422.9 246L420.7 245.7L418.4 245.3L415.8 244.2L413.5 242.7L412.3 242.2L410.1 241.9L407.2 244L406.1 247.9L405 248.7L401.6 247.2L398.3 246.1L396.4 243.2L394.1 242.6L391.9 241.9L389.3 241.9L388.3 241.3L386.8 239.8L385 239.3L386.4 237.1L387.1 235.9L386.1 234.2L386.8 231.1L385 231.8L384.2 230.5L381.5 231.4L379.8 231.5L377.9 231.5L375.9 231.7L374 231.9L371.8 231.9L369.6 231.9L367.4 232.2L365.1 232.5L363 234.1L361.6 234.6L360.2 235.7L358.2 236.2L356.7 235.9L354.3 235.9L351.5 234.1L350.4 234.4L350 235.2L349.6 235.9L348 239.1L346.4 240.1L344.4 241L342.7 243.5L341.4 245.6L341.1 247.9L341.8 248.5L340.8 250.8L340.4 251.1L338.3 253.4L336.3 254.7L334.2 255L333.6 255.6L333.5 257L330.5 259.7L328.9 262.8L327.2 266L326 268.2L324.8 270.4L324.4 273.5L326.1 275.6L325.6 277.2L326.2 279.5L326.6 280.6L326 283.3L325.4 285.9L324.2 288.4L323 289.5L324.1 290L324.6 291.8L324.5 292.6L324.7 295.5L327.2 296.9L326.3 297.8L328.6 299.4L331.5 303L332.4 304.2L332.5 305.6L333.5 308L336.5 309.8L338.1 311.4L340.2 313.1L342.3 314.8L345.7 316.5L349.2 315L351.5 314.6L353.8 314.1L355.8 314.5L358.4 315.4L360.4 314.4L362.5 313.4L365.7 311.9L366.8 311.7L368.5 311.3L369.2 311.2L370.8 311L373.3 311.4L374.5 312.7L376.8 316.6L379.1 316.4L381.4 316.1L382.8 315.8L385.3 317.4L385.8 320.3L385.6 321.8L385.5 323L384.5 325.2L384.8 326.8L383 329.7L384.9 333.1L386.7 335.6L388.6 338.2L390.3 340.4L391.1 342.3L391.3 343.5L392.3 347.2L393.3 350.8L393.8 353L394.2 355.3L394.1 357.7L393.9 360.1L392.7 362.2L391.6 364.4L390.7 367.5L390.2 370.2L389.7 372.9L391.4 376.1L392.5 378.8L393.5 381.4L394.6 384.5L395.7 387.6L396 391L396.4 394.4L396.9 397.4L398.2 400L399.6 402.5L400.4 405L401.2 407.5L402.8 410.9L402.5 413.5L403.3 416.4L403.2 417.6L405 418.2L406.5 418.8L408.7 417.8L411 416.9L414.3 416.9L416.6 416.7L418.9 416.5L421.6 415.8L424.1 414L426.8 411.4L429.2 408.6L431.7 405.8L434.2 403L435.4 400.5L436.5 398L436 395.5L438.1 393.9L440.5 392.2L442.8 390.5L442.6 390.3L442.9 387.8L443.1 385.3L442.5 382.5L442 379.7L443.9 378.3L445.8 376.9L446.9 374.6L449.9 372.5L453 370.4L455.5 367L455.7 363.7L456 360.5L455.9 357.8L455.8 355.1L455.1 351.9L454.3 348.7L453.4 345.6L452.3 343.5L453 341.2L453.3 340L454.3 338.4L455.4 336.2L457.3 333.8L458.8 332.2L461.1 328.8L464.5 325.2L467.5 322.5L470.2 320L473.6 316.1L474.7 313.9L475.8 311.7L476.9 309.6L477.5 307L479 303L481 300.7L480.5 297L478.2 297.6L475.8 298.3L472.6 299.1L469.4 299.8L466.3 300.6L464.2 299.3L462.2 297.9L461.9 297.6L461 295.7L461.7 294.7L460.7 293.9L458.7 291.9L456.7 290L454.8 288.5L453 287.1L451.8 284.6L450.6 282.1L450.7 280.8L449 278.8L447.3 276.7L447.6 273L446.3 270.4L444.8 267.9L443.3 265.4L441.8 262.7L440.2 260L438.7 258L438.4 256.7L436.8 253.2L435.1 249.6L435.5 250.3L437.8 254.2L439.3 255.4L439.7 253.4L439.9 252.1L440.4 250.8L439.3 248.5L438.5 246.4ZM476 359L476.7 362.1L477.5 365.2L478.2 368.3L476.9 370.9L476.1 373.1L475.2 375.2L474 379L472.7 382.7L471.4 385.9L470.1 389.2L469.3 391.2L468.5 393.3L466.3 394L464.2 394.7L462.7 391.8L461.3 388.8L461.1 386.4L460.8 384L463.3 380.8L463.7 377.8L464.1 374.8L466.4 371.8L468.6 368.8L471.5 366.5L472.7 364.4L474 362.3ZM690 355.8L688.6 357.9L687.8 360.7L686.6 363.6L686.1 367L684.8 370.3L683.4 373.5L680.3 373.5L677.3 371.7L675.4 369.6L673.5 367.5L672.5 366.2L674 363.9L676.4 360L674.6 359.2L672.3 359.7L670.1 358.9L666.8 357.6L666.2 357.3L663.1 359.7L662.7 360.4L661 362.3L659.7 364.5L658.5 366.7L655.8 366.7L654.5 364.4L652.9 364.1L650.4 365.7L647.1 368.3L644.4 370.7L641.4 372.5L640.8 374.8L637.8 378.5L635.8 379.3L633.7 380.1L631.5 380.8L629.7 381.2L627.8 381.6L625.3 382.7L623.1 383.7L620.9 384.8L619 387.9L618 391.8L617.1 394L616.2 396.1L617.3 399.6L617.7 403L617.6 406.2L617.6 408.8L617.6 411.4L615.9 415.1L614 417.6L616.7 418.4L619.3 419.2L621.4 418.5L623.4 417.7L626.3 417L629.3 416.2L631 416.3L632.7 416.4L635.8 414L639.8 412.2L642.2 411.7L644.6 411.1L647 410.6L649.3 410.4L651.6 410.1L654.4 411.4L656.9 411.7L658.5 414.8L658.8 418.5L662.6 415.3L665.5 412.7L663.2 416.6L660.6 419.8L664.4 418.7L662.5 420.8L665.2 421.6L665 424.2L664.7 426.8L666.4 428L668.1 428.5L669.8 429.1L674.1 426.8L674.6 428.4L675.5 430L679.6 427.1L682 426.5L685.6 425.7L688.2 421.8L690.8 419L693.4 416.2L695.8 413.8L698.4 411.4L701.2 407.5L702.9 405.1L704.6 402.6L704.8 399.4L705.8 395.7L706.8 393.1L705.4 392.6L703.3 390.3L702.8 387.9L700.4 385.8L700.4 382.9L698.8 380.6L696 378.1L694.9 374.8L695 372L694.5 368.3L693.3 365.2L691.7 365.2L691.6 361.3L690.9 357.9ZM669.5 434.1L671.9 434.2L674.3 434.4L676.8 434.6L674.6 437.9L672 440.5L669 441.6L668.2 437.9ZM739.4 417.7L740.2 419.2L741.2 421.3L740.2 423.9L742.4 423.9L741.9 426.3L744.3 426.3L746.7 426.3L742.8 429.9L740.4 430.7L739.6 431.5L734.8 435.4L731.9 435.7L734 433.5L733.6 430.4L736.9 428.4L739.1 425L739.3 422.5L739.3 420ZM729.2 433.5L730.5 435.4L730.2 436.7L726.9 438.7L723.1 441.6L718.3 443.6L714.1 447.5L711.5 448.4L708.9 449.3L706.7 448.2L705.9 446.7L709.1 444.6L712.3 442.6L715.7 441.3L719.2 440L722.3 438.5L726.9 434.8ZM664.8 331.5L667.4 328.9L669.7 329.5L672 330.2L672.2 332.3L672.4 334.4L675.3 336.5L677.1 334.2L678.9 332L681.2 332L684.3 333.3L687.3 334.6L689.4 335.4L691.4 336.2L693.9 337.1L696 337.8L698.8 341.4L700.3 343.5L703.2 343.8L701.3 345.3L702.2 348.5L704.3 350.8L706.3 352.9L708.4 354.7L706.1 355L703.6 353.8L701.1 352.6L698.7 348.7L695.3 347.7L692.9 349.5L691.5 351.6L689.2 351.6L686.9 351.6L685.7 350L683.6 349.8L681.4 349.5L680.4 347.4L680.1 344.2L679.7 340.9L676.3 339.6L672.9 338.3L669.5 338.3L668 335.4L670.8 334.1L668.3 332.9L665.8 331.8ZM704.5 342.2L706.5 341.6L708.5 340.9L712.1 338.8L713.9 339.1L711.9 342.2L708.3 344.3L704.9 343.5ZM710.6 334.9L713.3 336.5L715.5 339.9L714.7 340.1L712.8 337.2L710.4 335.4ZM719 341.4L721.8 344.8L721.3 345.9L719.2 343.2ZM615.8 322.4L617.3 323.4L619.4 321.8L621.4 320.7L623.4 319.5L625.6 316.4L627.6 314.8L629 313.7L630.3 312.2L631.7 309.8L633.9 311.1L635.1 312.7L637.7 314.3L635.5 316.4L634.6 316.7L634 319.5L635.6 322.4L637.2 325.2L634 327.8L633.5 330.5L632.3 331.2L631.3 334.4L631.5 337L630.3 338.3L627.1 337.2L625.3 336.7L623.4 336.2L620.5 335.7L617 335.4L616.9 332.5L614.4 329.1L615.1 327.8L614.4 325.2ZM582.4 313.2L585 313.7L587.5 314.3L590.4 317.9L592.3 320L594.2 322.1L597 323.4L599.1 325L601.2 326.5L602.4 330.2L604 331.8L607.3 335.7L607.1 339.3L606.8 343L603.8 343.2L601.4 340.6L598.7 337.8L595.8 334.4L595.1 332.3L594.4 330.3L591.3 326.5L590.1 323.4L588.3 321.1L586.5 318.7L584.5 316ZM605.1 345.6L607 343.2L608.8 343.8L612 344.3L614.5 345.1L617 345.9L619.6 345.1L622.3 345.9L624.2 346.9L626.1 347.9L626.4 350.6L624.6 350L622.8 349.5L620.5 349.4L618.2 349.3L615.9 348.9L613.6 348.6L611.4 348.2L608 347.2L605.3 345.6ZM626.3 349L628.7 349.8L627.7 350.8L626.4 349.8ZM629.6 349.8L631.3 349.5L630.7 351.1L629.6 350.8ZM631.4 350.3L634 349.6L636.6 349L635.8 350.8L633.8 351.1L631.8 351.3ZM638.4 350L640.8 349.8L643.1 349.5L645.5 349.3L644.5 350.8L641.6 350.8L638.8 350.8ZM636.3 352.9L638.3 353.3L640.4 353.7L639.6 354.7L636.5 353.4ZM646.5 354.7L649 352.4L651.5 350L653.5 349.9L655.6 349.8L653.7 351.1L651.3 352.5L648.8 354L646.7 355ZM637.9 342.5L640.5 342.5L640.5 338.9L640.5 335.4L642.1 335.2L642.1 337.8L641.9 340.4L643.9 340L645.9 339.6L644.2 335.7L642.7 332.8L645.1 331.6L647.6 330.5L645.5 330.2L643.4 329.9L640 326.5L642 324.7L644.3 325.4L646.7 326.1L649 326.8L651.7 323.9L649.9 325.2L647.1 325.3L644.3 325.4L641.6 325.5L639.7 325.5L639.1 327.8L638 331.1L636.9 334.4L638.2 337L638.1 339.7ZM657.2 322.1L658.2 325.2L659.8 323.9L659.6 326.5L658 327.1L659.1 329.9L657.3 328.6L656.8 325.2ZM658 335.4L660.3 335.4L662.7 335.4L664.4 336.7L661.4 337L658.4 337ZM653.4 335.9L656.2 336.2L655.2 337.8L653.4 337.2ZM636.9 279.5L638.2 279.3L640.5 279.5L641.2 283.5L640.3 286.6L641.2 289.2L643 290.8L644.9 291.5L647.4 294.9L646.4 294.4L644.4 292.6L642 291.5L639.7 292.1L638.7 290.8L639.2 289.7L636.6 286.1L637.3 284.8L636.9 282.1ZM643.9 309.8L645.8 307L647.5 305.4L649.5 304.6L651.4 304.3L651.2 302.3L653.3 305.6L654.2 308.8L653.5 311.4L652 309.6L651.7 313.2L649.1 312.2L648.7 309L647 307.5L645.4 308.3ZM647.7 295.2L650.6 296.5L651.3 299.1L649.7 298.6L648.4 297.8ZM648.4 297.8L649.7 298.6L650.4 301.2L649.5 301.7L648.1 299.4ZM642.4 297L644.8 297.8L644.3 300.2L643 300.4ZM643.8 299.4L646.3 299.6L646.2 301.9L646 304.1L644.4 303.3ZM647.1 298.3L647.6 300.7L646.4 303L646.7 300.7ZM647.2 301.5L649 301.5L648.7 302.8L647.3 302.8ZM638.2 292.9L640.5 292.6L641.2 294.9L640.4 296L639.2 294.7ZM632.4 305.9L634.7 302.1L637 298.3L637.4 299.4L635.3 302.9L633.1 306.4ZM720.9 344.8L724.2 346.9L725.1 348.7L723.6 348.2L721 345.9ZM726.2 349.5L728.2 350.8L730.1 352.1L732.2 353.7L729.2 353.4L726.5 350.8ZM731.7 349.8L733.8 352.1L733.4 353.2L732 351.3ZM733.9 354.5L735.6 355.5L734.7 356ZM743.4 366L744.8 367L744.6 368.8L743.5 368.6ZM745.7 370.1L746.8 371.4L746 373L745.4 371.7ZM766.4 373.3L769.4 373.3L768.8 375.4L766.2 375.1ZM770.7 370.4L773.4 369.6L772.9 372L770.4 371.7ZM734.4 380.6L736.9 383.2L738.4 384.6L739.8 386.1L738.7 386.9L737.3 385.4L735.8 384L734.1 381.6ZM9.3 275.9L11.6 276.4L9.8 278.5L9.1 277.4ZM8.6 273L10 273.5L9 274.1ZM5.3 271.4L6.6 272L5.6 272.2ZM2.3 269.9L3.4 270.1L2.6 270.7ZM308.7 287.9L309.8 288.2L309.1 288.9ZM305.6 283.2L306.3 283.5L305.8 283.7ZM307.2 284.4L308.1 284.5L307.6 284.8ZM310.7 285.8L311.2 285.5L311 286.2ZM462 357.6L462.7 357.9L462.2 358.9ZM492.8 380.1L493.9 380.3L493.1 381.4ZM487.8 382.4L489.2 382.7L488.4 383.7ZM378 326.8L378.6 327.1L378.1 327.8Z"/></clipPath></defs>
<path fill="#d0d1e6" fill-rule="evenodd" d="M70.3 160.1L73 159.3L75.8 158.6L77.7 158.2L79.6 157.8L80.7 158.9L83.9 158.5L84.3 156.9L84.1 155.5L83.1 155L82.1 154.4L81.2 153.9L84.1 152.6L88 151.6L91.8 150.6L95.6 149.6L98.7 149L101.8 148.4L104.8 147.8L107.9 147.2L109.3 147.7L110.6 148.2L112 148.7L113.4 149.1L114.9 149.3L116.5 149.4L118.1 149.6L119.8 149.7L121.6 149.8L123.4 149.9L125.2 150L126.8 150.5L128.3 151L129.9 151L131.5 151.1L132.9 151.3L134.3 151.5L135.7 151.8L138.1 151.5L140.4 151.3L142.9 151L145.3 150.7L147.7 150.1L150 149.5L152.3 148.9L152.6 150.1L152.9 151.3L157.1 149.8L158.4 150.4L159.7 151L161 151.5L162.8 151.9L164.7 152.3L166.5 152.6L167.8 153.1L169 153.5L170.3 154L172.3 154.2L174.4 154.4L176.4 154.6L178.3 154.4L180.2 154.2L182.1 154L184.2 154.2L186.2 154.4L188.3 154.6L190.3 154.7L192.3 154.9L194.4 155L196.4 155.1L199 154L200.9 153.7L202.8 153.5L206.3 150.2L207.5 147L210.1 145.9L210.8 147L211.5 148.1L210.4 151.3L211.6 152.4L212.9 153.5L213.6 154.9L214.3 156.2L218.8 153.5L223.4 150.7L225.6 151.1L226.3 152.4L223.1 155.8L219.5 158.5L217.9 158.3L216.3 158.2L214.7 158L210.5 160.3L206.6 163.3L204.3 164.1L201.9 164.9L199.9 165.7L197.9 166.5L194.8 168.5L191.6 170.5L189.6 173.3L187.5 176L187.8 178L188.2 179.9L190.4 180.2L192.6 180.4L194.7 181.6L196.3 182.6L198 183.6L199.7 184.6L202.1 184.8L204.6 185.1L203.3 187.7L202.1 190.3L202.6 192.4L203.1 194.5L204.8 194.3L206.5 194L208 191.1L209.5 188.3L210.4 185.8L212.7 184.6L215.1 183.3L216.9 181.3L218.6 179.2L218.2 176.8L218.9 173.2L221.8 169.8L223.7 167.2L225.3 167.5L227 167.7L228.6 167.9L230.4 168.8L232.3 169.6L233.6 170.4L235 171.2L234.5 173.2L234 175.1L235.2 177.5L237.6 176.8L240 176L244.5 172.4L244.4 174.6L244.4 176.8L245.2 179.2L246 181.6L247.9 184.1L249.8 185.3L251.8 186.5L252.6 189.4L253.5 192.3L249.8 194.3L246.4 195.8L243 197.3L240.4 197.3L237.7 197.3L235 197.3L232.5 197.4L230 197.5L227.5 198.7L225.1 199.8L221.1 202.4L218 205.4L220.4 204.4L224.3 202.1L226.7 201.1L229 200.1L231 200.2L233 200.3L233.2 201.3L231 203.1L230.7 205.4L230.6 207.5L233 208L235.4 208.5L237.4 208.7L239.4 205.4L240.1 208L237 210L234.2 210.8L231.4 211.6L228.8 213.1L226.1 214.6L225.5 213.4L227.7 211.6L229.9 209.8L226.7 210L224.3 211L220.8 212.3L218.7 213.2L216.7 214.1L215 215.9L215 216.6L213.9 217.5L215.6 218.8L214.3 219.6L212.1 219.8L208.8 220.3L206.2 221.9L205.7 223.4L202.9 226.3L202.2 227.3L199.1 231.2L199 233.5L199 235.8L196.4 237.5L192.8 239.5L190.3 240.8L187.8 242.2L184.8 244.3L183.9 246.5L182.9 248.7L183.3 251.1L183.7 253.4L183.6 257L183.5 260.5L181.5 262.2L180 260.2L179.3 258L178.6 255.8L178.7 251.9L176.8 249.5L173.9 250.3L172 249.4L170.1 248.5L168.4 248.2L165.4 248.7L165 251.6L162 251.9L159 250.6L157 250.4L155.1 250.3L152.6 251.3L149.4 253.4L146.3 255.5L145.8 257.8L145.4 260.1L144.2 263.9L143.2 266.7L142.3 269.6L142.9 273L143.9 275.4L145 277.7L147.7 279.5L148.5 280.5L150.7 279.9L152.9 279.3L155.4 277.7L157.9 276.1L158.5 273L160.8 272.4L163 271.7L166.4 271.4L166.7 272.7L164.9 275.1L163.7 277.3L162.4 279.5L162.3 282.1L161.3 284.2L160.2 286.3L163.4 286.6L166.3 286.3L169.2 286.1L171.1 287.4L173 288.7L172.4 291.3L171.8 293.9L171.4 296.5L171 299.1L172.4 301.7L174.1 304.3L176.8 303.9L179.4 303.4L181.6 303.5L183.8 303.6L185.3 305.4L183.8 309L183 306.2L180.3 304.6L178.1 306.4L178.5 308.8L176.2 308L174.3 307.3L172.4 306.7L170.8 305.6L168.4 303.8L166 302L166.4 299.1L164.7 296.6L163.1 294.2L160.4 293.4L158.7 292.7L156.9 292.1L154.6 291L152.3 290L150.6 288L148.9 286.1L146.9 285.5L144.9 286.2L142.8 286.8L140.4 285.8L137.9 284.8L135.5 283.8L133.1 282.5L130.6 281.1L128.5 279.5L126.3 278L123.7 274.6L124.7 274.1L124.8 271.6L125 269.1L123.3 267.3L121.9 264.9L120.6 262.6L117.8 260L116.8 257.5L115.9 255L115.1 252.5L114.4 250L113.5 246.4L111.9 245.6L110.3 244.8L109.9 248.2L110.7 250.8L111.6 253.4L112.8 257.3L114 260L114.5 262.3L115 264.7L115.3 268L113.4 264.7L111.1 263.1L112 260L110 258.4L108 256.8L106.5 255.3L109 253.4L106.7 249.8L106.5 247.3L106.3 244.8L105.9 242.9L105.9 242.5L104.3 239.6L102.3 238.7L100.4 237.9L100.9 235.2L99.7 232.3L99.8 229.2L99 228.6L99 225.5L99.1 222.4L100.4 220.3L101.8 218.3L102.3 216.2L104.1 214L105.9 211.8L107.3 209.6L108.7 207.5L109.6 205.4L110.6 201.8L113.3 202.4L115.3 200.6L115 200.3L115.2 199.6L114.8 197.8L113 196.5L111.8 195.9L110.6 195.3L110.9 192.8L111.4 190.3L110.5 187.8L110.8 186L110.2 184.7L109.5 183.3L109.2 180.9L108.8 178.5L107.6 177.2L105.9 176L105.2 175.2L104.4 174.4L103.3 173.2L100.7 172.9L97.7 173.2L96.6 172.1L95.4 171L92.4 172.1L89.4 173.2L86.8 173.7L84.2 174.3L81.5 174.8L85.2 172L89.8 170.3L86 171.7L82.1 173.2L77.6 175.6L73.3 177.4L69 179.2L64.6 181L60.3 182.8L56.7 184L53.2 185.1L50.7 185.6L48.3 186L46 186.4L43.8 186.8L48.1 185.3L51.8 184.1L55.5 182.8L59.6 181.3L63.7 179.7L69.1 176.5L67.5 176.3L65.9 176L63.5 176.3L61 176.5L63.1 173.6L62.2 172.8L61.4 172L60.2 171.7L63.9 168.9L69.4 166.5L72.9 165.7L76.4 164.9L79.4 162.6L77.2 162.6L75 162.6L73.3 162.6L71.6 162.6L70.9 161.3ZM113.1 202.1L111.5 201.3L109.8 200.6L108.9 199.1L107.9 197.5L107.4 195.8L109.8 196.3L111.3 197L112.7 197.8L113.6 200.1ZM105.2 190.3L105.1 188.5L104.9 187.3L106.6 187.8L105.5 190L104.4 192.3ZM76.6 178.9L73.5 180L70.5 181.1L71.6 179.2L73.9 178.5L76.2 177.7ZM57.5 164.7L59.4 165.1L61.3 165.6L62.3 165.2L61.4 164.7L60.5 164.2ZM58 172.2L58.1 173.2L56.1 173.3L54.2 173.4L55.9 172.4ZM242.1 203.9L244.9 200.3L247.1 198.3L250.3 194.5L253.2 193.8L251.6 196.8L251.5 199.1L253.4 199.4L255.3 199.8L255.2 202.1L255.9 204.1L253.3 206.4L252.4 204.9L250.6 205.2L248.8 205.4L249.1 203.9L246.5 203.9L244 203.9ZM233.8 198L236.2 199.1L238.7 200.1L237.9 199.3L235.5 198.2ZM231.1 206.4L233.5 206.7L235.9 206.9L234.6 208L231.7 207.2ZM171.3 270.7L173.6 268.6L175.9 268L178.2 267.5L181.6 267.5L183.7 268.7L185.8 269.8L188 270.9L190 271.8L192 272.7L195.2 275.1L191.9 275.9L189.4 275.9L186.9 275.9L188.3 274.1L185.6 271.7L183.4 271.3L181.2 270.9L178.4 269.9L175.6 270.4L173.3 270.7ZM194 279.8L197.1 276.1L198 275.9L200.5 276.1L202.5 276.4L204.5 276.7L205.8 277.4L207.9 279.3L206.2 279.8L203.9 280.3L201.3 281.9L200 280.8L197.5 280.6L194.1 280.3L197.7 279.3L198 278.2L196 279ZM184.9 279.8L188.1 279.5L189.8 280.8L187.4 281.6ZM210.3 279.8L212.1 279.9L213.9 280.1L213.4 280.8L210.2 280.8ZM221 299.6L223.3 299.6L222.9 301.5L220.9 301.5ZM188 262L188.3 264.7L188 264.9L186.9 263.6ZM190.6 258.4L189.8 257.6L187.5 258.1L186.6 258.4L189.4 258.6ZM192.2 262.6L191.2 261.5L191.8 263.6ZM192.6 266.5L193.4 267.3L194 267.8L193.2 266.7ZM282.1 173.6L279.9 172.7L277.6 171.7L275.4 170.8L274.4 168.6L273.4 166.5L272.5 164.9L271.6 163.3L271.3 161.2L271.1 159.1L270.8 157.1L274.1 154.7L277.5 152.4L276 151.3L274.6 150.2L273.2 149.1L273.5 147L273.3 144.2L272.8 142.5L272.3 140.7L272 138.7L270 138.5L268 138.3L266 138.1L264 137.8L262 137.6L260.8 137.3L259.5 137L258.3 136.6L257.2 135.5L256.3 134.3L255.4 133.1L257.7 132.5L260.1 131.9L262.4 131.3L264.7 130.6L267 130L269.4 129.4L271.8 128.9L274.2 128.3L276.2 127.9L278.3 127.5L280.3 127.1L282.3 126.7L284.2 126.3L286.2 126.2L288.2 126L290.1 125.9L292.1 125.7L294 125.6L296 125.4L297.9 125.3L299.8 125.1L301.7 125L303.6 124.9L305.5 124.8L307.3 124.7L309.2 124.6L311 124.5L312.9 124.5L314.7 124.4L316.6 124.3L318.4 124.2L320.2 124.3L322 124.4L323.7 124.4L325.5 124.5L327.3 124.6L329.1 124.7L330.6 125.1L332.1 125.6L333.7 126.1L335.3 126.7L337 126.8L338.7 126.9L340.4 127L342.1 127.1L343.8 127.2L345.5 127.3L343.5 128L341.4 128.6L339.3 129.3L337.2 130L336 131.8L334.8 133.7L333.6 135.7L333.9 137.6L334.3 139.7L332 141.2L329.7 142.8L328.7 144.9L327.7 147L326.7 149.1L324.9 150.2L323 151.3L321.1 152.4L318.6 152.7L316.2 153L313.8 153.3L311.3 153.7L308.9 154L306.8 155.5L304.6 156.9L302.5 158.5L300 159.3L297.5 160.1L295 161.3L292.5 162.6L289.6 166.1L287.6 168.4L285.4 170.8ZM246.6 167L244.7 167.8L242.7 168.6L241 168.1L239.2 167.6L237.5 167.1L235.7 166.5L234.7 165.2L233.6 163.9L232.6 162.6L230.9 162L229.2 161.5L227.5 161L229.6 160.7L231.8 160.5L234 160.3L237.1 158L238.3 154.6L236.6 154.1L234.8 153.5L233.8 151.9L232.9 150.2L231.2 150.2L229.6 150.2L227.9 150.2L226.2 149.9L224.6 149.5L222.9 149.1L221.3 149.1L219.6 149.1L218 149.1L217.9 146.3L220.6 144.5L223.4 142.8L225.1 142.7L226.7 142.6L228.4 142.6L230.4 142.5L232.4 142.5L234.4 142.4L236.5 142.4L238.1 142.2L239.8 142.1L240.4 143.4L241 144.7L242.4 145.5L243.8 146.3L245.2 147.2L246.7 148.1L248.1 148.5L249.4 148.9L250.8 149.4L251.2 151.4L251.7 153.5L253.3 154.6L255 155.8L256.6 156.9L256.5 157.6L254 158.9L251.4 160.3L248.5 162.6L246.2 165.4ZM209.7 162.6L211.9 162L214 161.5L216.1 161L217.1 162L218.2 163.1L219.3 164.2L216.7 165.4L214.2 166.5L212.3 166.1L210.4 165.6L208.1 164.9ZM170.1 147L175.2 144.7L177.8 144.2L180.4 143.8L183 143.4L184.3 143.7L185.6 144L186.9 144.2L189.2 144.1L191.5 144L193.7 143.8L192.9 147L193.6 148.4L194.3 149.8L191.7 150.5L189.1 151.2L186.5 152L184.2 152.2L181.9 152.4L180.5 152L179.2 151.7L177.9 151.3L176.8 150.8L175.6 150.3L174.5 149.8L172.8 149.5L171.2 149.2L169.6 148.9ZM159.7 146.1L162.6 144.4L165.5 142.8L170.1 141.1L172 141.2L173.8 141.2L175.7 141.3L177.6 141.3L178.7 142L179.8 142.8L177.4 143.5L175 144.2L172.5 144.9L168.5 147L166.1 147.2L163.6 147.4L161.2 147.6L160.5 146.9ZM183.5 138.1L186.3 137.3L189.2 136.6L191.5 136.5L193.8 136.4L196.1 136.2L198.3 136.1L199.2 136.7L200.2 137.4L201.1 138.1L196.8 139.7L194.6 139.9L192.5 140.1L190.3 140.3L188.1 140.5L186.6 140.3L185.1 140.1L183.6 139.9L182.1 139.7ZM199.1 144.9L200 145.5L201 146.1L203 146.2L204.9 146.3L208.5 144.2L210 141.9L208.1 141.9L206.3 141.9L204.5 141.9L202 142.8L199.5 143.6ZM209.7 145.5L211.6 145.6L213.6 145.7L215.8 145L218.1 144.2L220 142.1L218.7 141.9L217.3 141.7L215.9 141.5L213.9 142.1L211.8 142.8ZM237.9 140.7L235.8 140.7L233.7 140.7L231.6 140.7L229.5 140.7L227.4 140.7L225.3 140.7L223.7 140.5L222.1 140.3L220.5 140.1L221.1 138.1L223.2 137.7L225.3 137.3L227.3 137L229.4 136.6L231.2 136.6L233.1 136.6L234.9 136.6L236.7 136.6L238.5 136.6L239.5 137.6L240.4 138.7ZM213.5 138.7L212.2 138.4L211 138.1L209.8 137.8L209.7 136.6L211.9 136.4L214.2 136.1L215.1 136.5L216.1 137ZM218.2 140.1L216.3 140.1L214.5 140.1L212.7 140.1L216 138.5L217.5 138.5L219.1 138.5ZM186.9 136.6L184.7 136.9L182.4 137.1L180.2 137.4L177.9 137.6L177.1 136.6L179.3 136.3L181.5 136L183.7 135.6L185.9 135.3L188 135.1L190.2 134.9ZM242.7 137L245.5 135.7L248.2 134.4L250.9 133.1L253.5 132.5L256.1 131.9L258.6 131.3L261.2 130.6L263.8 129.9L266.3 129.2L268.8 128.5L271.3 127.9L273.7 127.3L275.5 126.9L277.2 126.4L279 126L277.4 125.9L275.7 125.7L274.1 125.6L272.5 125.4L270.9 125.3L269.3 125.1L267.7 125L265.7 125L263.8 125L261.8 125L259.8 125L257.9 125.1L255.9 125.1L253.9 125.1L251.9 125.3L249.8 125.5L247.7 125.7L245.6 125.9L243.5 126.1L241.4 126.3L239.3 126.9L237.1 127.5L235 128.1L236.3 128.6L237.6 129L238.9 129.5L239.8 130L240.7 130.4L241.6 130.9L239.5 131.5L237.3 132.1L235.1 132.8L232.6 133.7L230 134.7L231.5 135.1L233.1 135.6L234.6 136.1L235.8 136.4L236.9 136.7L238.1 137L239.7 137L241.2 137ZM234.7 128.3L233.5 128.1L232.4 128L231.2 127.8L228.3 128.6L225.4 129.5L224.1 132.2L225.2 132.5L226.3 132.8L227.3 133.1L229.7 132.6L232.1 132L234.4 131.5L235.8 129.2ZM214.3 134.1L213.2 133.5L212 132.8L210.9 132.2L208.8 132.7L206.7 133.1L207.5 133.7L208.3 134.2L209.1 134.7L210.9 134.5L212.6 134.3ZM207.7 137L206.5 136.7L205.4 136.4L205.4 137.6ZM185.3 305.4L186.4 307L187.9 303.3L189.7 300.7L191.4 299.1L192.8 298.6L194.9 298.3L197.6 296L198.7 295.3L199.5 297.3L198.3 298.6L199 299.4L200.2 298.3L202 297.6L202.6 296L202.9 298.1L206 300.4L209.2 300.2L211.5 300.8L213.8 301.5L215.7 300.2L218.2 300L220.7 299.9L219.3 301.2L221.5 302L222.8 304.3L225.1 305.6L227.3 307.5L228.4 309.6L229.1 310.1L231.3 312.2L233.6 312.2L235.9 312.3L238.6 313L240.9 313.5L242.5 315L244.1 316.9L245.4 318.7L246.5 322.6L247.7 325.2L247.2 327.8L249.2 328.5L251.1 329.1L251.1 331.5L254 331L256.9 330.5L258.9 332.4L260.9 334.4L263.5 334.8L266.2 335.2L268.5 335.2L270.8 335.3L274.3 337.5L277.8 340.6L279.7 341.3L281.7 341.9L281.9 343L282.3 345.9L282.7 348.9L282.1 351L281.5 353.2L278.1 356.6L276.5 359.2L274.8 361.8L274.4 364.4L273.9 367L273.9 370.5L273.8 374.1L272.9 377.5L272 380.8L271.2 383.1L270.4 385.3L268.3 387.6L265.6 387.9L262.8 388.7L260.8 389.6L258.9 390.5L257.1 392.2L255.3 393.9L254.4 395.5L254.6 397.7L254.8 399.9L253 403.6L252.2 405.9L251.5 408.3L250 410.1L248.5 411.9L246.3 415.8L244.4 418.7L242.6 418.8L240.7 419L238.9 418.5L237 417.9L235.4 416.4L235.8 418.2L239 421.3L240.4 422.6L240 424.8L239.6 427.1L237.1 428.2L234.7 429.4L232.4 429.4L230 429.4L230.5 431.6L231 433.8L228.2 434.3L225.5 434.8L227.5 437.9L229.7 439L227.8 439.8L227 439.8L227.6 442.5L228.2 445.2L226.4 446.3L224.6 447.5L224.7 449L227.8 450.8L229.1 452.3L228.1 454.1L227.1 455.9L226.2 458.1L226.3 461.9L228.5 463.8L226.4 464.2L224.6 466.4L224.4 467.7L221.4 466.2L218.5 464.2L214.9 460.4L212.6 457.3L210.3 454.1L209.3 451.8L208.3 449.5L209.4 446.4L208.7 443.5L208 440.5L207.4 436.9L206.7 434.6L206.1 432.2L206.8 431.7L205.8 428.7L204.9 425.7L205.2 423.9L205.7 420.5L205.8 417.3L206.1 414L205.5 410.7L204.9 407.5L205.1 405.9L204.8 402.1L204.6 398.3L204.6 395.4L204.5 392.4L204.5 389.5L204.4 386.1L204.2 382.7L203.8 379.4L203.3 376.1L200.2 372.8L197.2 371.1L194.2 369.4L191.3 366.6L188.5 363.9L187.4 361.5L186.3 359.2L184.5 355.9L182.7 352.6L182.4 351.3L180.7 348.5L179.1 345.6L177.4 342.9L175.7 340.1L177.7 337L178.5 334.4L176.5 333.6L176.9 330.2L177.5 328L178.2 325.8L180.8 324.4L181.3 323.1L183.3 320.4L185.3 317.7L185.1 314.3L184.8 310.9L183.8 309ZM228.7 464.4L229.8 466.2L232.9 467.9L235.1 468.7L237.2 469.5L234.9 470.4L233 470.4L231.1 470.4L229.2 470.6L227.4 470.9L225.1 470L222.8 469.1L218.1 465.4L221.7 466.9L223.7 467L225.7 467.2L226.2 464.7ZM438.4 246.1L439 245.3L439.4 244L439.7 242.2L439.9 241.4L440.5 239.3L441.3 237.4L440.9 235.2L440.8 234.1L441.2 232.3L439.2 232.3L437.6 231.8L435.5 233.5L434 233.8L432.1 232.5L429 231.8L428.8 233.3L427 233.3L423.9 232L422.1 231.2L421.6 228.9L419.6 227.9L421 227.6L419.9 225.3L418.6 224.7L418.7 223.4L419 222.9L419.6 222.4L422.8 222.4L424.6 222L426.3 221.5L424.5 220.3L427 220.3L430.1 219.7L432.4 218.5L434.6 218.4L436.8 218.3L438.8 219L439.6 220.1L441.4 220.5L443.1 220.8L445 220.8L446.9 220.8L448.6 220.8L450.6 219.6L450.7 219.3L450.6 217.9L448.7 215.7L446.4 214.6L445.7 214.1L442.5 212.3L441.3 211.3L440.1 210.8L438.7 209.8L441.1 208L441.7 206.2L442.9 204.9L440.9 205.2L439.6 205.4L438.3 206.2L436.7 206.7L435.2 207.2L435.1 209L438.3 209.5L436.2 210.5L433.9 211.8L432.4 211.6L431.9 210L430 209.6L431.9 208.2L432.1 207.5L430.5 207.7L427.5 206.7L426 206.7L424.3 210L424.2 211L422.5 212.6L422.5 213.7L421.3 215.2L420.7 217L421.9 218.3L424.2 220.3L422.2 220.8L421.1 220.9L420 221.9L418.7 223.3L419.4 221.9L418.1 221.5L417.8 221.2L414.6 221.1L413.8 223.4L411.7 222.1L411.5 221.9L411 223.4L411.8 225.1L412.8 226L414.4 228.1L414.6 229.4L412.8 228.6L412.7 229.9L413.1 232.7L411.6 232.8L409.8 231.8L409.4 229.7L408.3 229.2L409.5 228L408.2 227.9L407.4 226.3L406 224.7L405.6 224.2L405.5 223.7L404.1 222.4L404 220.1L403.8 218.5L403.1 218L402.2 217.2L401.8 217.1L400.9 216.6L399 215.5L397.2 214.4L394.6 212.8L392.7 209.8L391.1 210.3L391.3 208.9L388.3 209.5L388.8 210.8L388.5 212.1L389.2 213L391.1 214.1L392.8 217L394.5 218.3L396.9 218.5L398.7 220.6L401 221.8L402.3 223.2L402 224L399.5 222.3L398.3 223.2L399.5 226L398.3 227.6L396.6 228.6L396.6 228.1L397.2 226.3L396.1 223.4L394.3 221.8L393.1 221.4L390.4 220.3L388.7 218.9L386.3 217.2L384.9 215.7L384.5 214.4L383.3 212.8L381.4 212.1L379.6 213.4L378.6 213.7L378.1 213.9L375.3 215.4L374.2 214.9L372.6 214.6L371.1 214.4L369.4 216.8L369.6 217.2L369.9 217.5L367.6 219.8L365.6 220.6L364.8 221.6L362.3 224.9L363.4 226.7L361.9 227.7L360.8 229.7L358.2 232L357.6 231.8L355.5 231.9L353.5 232L351.4 233.6L350.9 233.8L349.4 232.5L349.2 231.8L348 230.7L347 230.7L345.9 231.2L343.6 231.2L343.9 228.8L342.7 226.8L342.7 226.6L342.9 225.1L344.4 221.9L344.6 220.5L344.3 218.6L344.5 217.7L343.5 215.9L345.5 214.6L346.6 213.7L348.9 213.9L351.1 214.1L353.1 214.3L355.1 214.5L356.7 214.6L359.3 214.7L359.7 214.4L360.5 211.6L360.5 208.7L360.5 207.6L358.5 205.2L356.9 204.1L354 203.4L353.3 202L355.9 200.8L358.9 201.3L359.8 201.1L359.1 198.6L359.8 198.7L360.6 199.4L363.2 199.2L365.2 198L366.2 196.8L366.7 195.4L368 195L368.7 194.8L369.7 194.3L370.1 194.1L370.9 193L371.8 191.8L372.3 190.4L373.7 189.3L374.7 189.1L377 189.5L378.6 188.8L379.6 188.9L379.9 188.2L380.5 187.8L380.2 186.5L379.7 185.5L379.1 184.1L378.5 182.8L378.5 180.9L379.2 180.2L381.6 178.9L382.9 178.6L382.9 179.3L382.5 180.6L382.5 182.5L382.1 183.8L381.2 184.1L381.7 185.3L382.1 185.8L382.6 186.9L384.3 187.3L384.2 187.9L385.2 187.8L386.4 187.3L388.1 186.5L389.8 187.5L390.6 188L393.1 187.3L394.9 186.4L396.8 185.9L399.3 186.3L399.1 186.8L400.9 186.7L401.4 186.2L401.3 185.4L402.5 185.4L403.2 184.6L403.4 183.6L403.2 182.7L402.9 181.6L403.6 179.4L405.5 178.6L406.5 180.2L408.6 180.4L409 179.2L408.7 178.3L408.8 177L406.8 176.5L406.5 175.6L407.5 174.8L408.8 174.5L411.1 174.1L413.9 174.5L414.8 174.4L415.6 173.6L417.9 173.3L416.3 172.7L415.5 171.5L413.9 171.8L412.3 172.1L410.6 172.4L409 172.8L407.2 173.2L405.4 173.6L403.7 172.2L402.1 171.2L402 169.6L401.8 167.7L401.6 165.8L403.9 164.1L405.8 162.8L407.7 161.4L404.9 159.6L403.2 159.8L401.5 160.1L399.9 162.1L399 164.2L396.7 165.6L395.4 166.5L394.1 167.5L394.5 169.1L394.4 171.5L397.2 172.7L398 174.4L395.6 176.3L394.1 178L394 181.3L392.7 182.5L390.3 182.8L390.2 184.3L387.9 184.3L387.7 183.8L387.2 182.7L386.7 181.4L385.6 179.7L385.4 178.7L383.9 177L383.6 175.6L383.3 175.1L382.5 173.4L381.9 175.6L381.6 175.4L379.8 176.5L378 177.6L376.2 178L373.4 176.3L372.6 174.6L372.7 172.2L371.9 170.8L372 168.6L374 167.3L375.5 166.2L376.7 165.8L378.3 164.9L380.4 164L381.5 162.8L383.2 161.7L384.7 159.4L386.2 157.3L387.6 156.2L388.4 154.2L390.7 152.9L393 151.1L394.5 151L395.7 150.6L397 150.2L399.3 149.6L400.6 149.1L401.9 148.7L403.5 148.2L405.1 147.7L406.7 147.8L408.3 147.8L409.7 148.3L412 148.8L414.3 149.4L412.5 150.7L414.2 150.7L416.2 151.2L418.1 151.8L419.8 151.9L421.5 152L423.8 152.6L426.2 153.3L428.6 154.2L431 155.1L433.5 156.4L433.8 158.5L431.4 158.9L429.6 158.8L427.8 158.6L426.1 158.5L424.2 158.1L422.4 157.8L420.5 157.2L418.7 156.6L420.8 158L422.5 160.3L424.3 162.6L425.9 163.2L427.6 163.7L429.4 163.7L429.8 162.3L432 162.3L434.2 162.3L432.9 160.7L434.9 158.9L437.1 159L439.3 159.1L438.1 158.2L437.9 156.4L437.6 154.6L435.9 153.2L438.1 154.2L440.4 155.3L442.7 156.9L444.8 155.5L446.2 154.9L447.7 154.3L449.1 153.7L451.3 153.9L453.4 154L454.5 152.6L456.7 153L459 153.3L461.1 152.4L462.9 151.1L463.8 150.7L465.9 151L468 151.3L469.8 151.5L471.5 151.6L473.3 151.8L476 153.5L476.4 151.3L473.5 148.1L473.5 146.1L473.4 144.2L473.2 142.8L477.1 144.9L481.7 148.1L483.5 150.8L485.3 153.5L489.2 155.8L488.9 158L490.2 157.4L491.6 156.9L488.6 153.5L487.3 150.2L486.7 147L488 146L489.3 145.1L492.4 145.9L495.2 147L498.1 148.1L494.4 145.4L490.6 142.8L492.2 142.2L493.7 141.7L495.3 141.7L496.9 141.7L498.4 141.7L497.7 139.3L499 139.1L500.4 138.9L501.7 138.7L503.4 138.4L505 138.2L506.7 137.9L508.3 137.6L509.9 137.4L511.5 137.1L513.2 136.9L514.8 136.6L516 135.9L517.1 135.1L518.3 134.3L520 134.7L521.8 135.1L524.1 135.7L526.4 136.3L528.8 136.6L531.3 136.9L533.8 137.2L539.2 139.7L540.1 142.4L542.3 142.4L544.5 142.5L546.7 142.6L548.8 143L550.9 143.4L553 143.8L554.9 143.7L556.9 143.5L558.8 143.4L560.8 143.3L562.7 143.1L564.7 143L567.5 143.9L570.3 144.9L573.9 146.5L577.5 148.1L579.2 147.7L580.8 147.4L582.4 147.1L584.1 146.8L585.4 146.1L586.7 145.5L588 144.9L590.1 145L592.2 145.1L594.3 145.2L596.4 145.4L598.5 145.5L601.4 146L604.2 146.5L607.1 147L609.5 147.3L612 147.5L614.4 147.8L616.8 148.1L618.7 148.2L620.5 148.3L622.4 148.5L625.3 149.4L628.2 150.2L631.1 151.1L633.1 151L635.1 150.8L637.1 150.7L639 150.6L640.9 150.4L642.8 150.3L644.8 150.2L648.9 152.4L649.4 151.6L649.9 150.9L651.7 150.8L653.6 150.7L655.4 150.7L658.6 151.3L661.9 152L665.2 152.6L669.3 155.3L673.4 158L677.4 160.7L677 161.7L676.5 162.6L675 162.1L681.6 165.6L685.6 167.7L683.4 167.5L681.2 167.2L680.1 167.8L679.1 168.3L678 168.9L677.5 169.9L677 170.9L676.5 172L674.3 172.2L672.2 172.4L670 172.7L668.7 173.1L667.3 173.5L665.9 173.9L666.6 175.6L669.3 179.2L674.6 182.6L672.4 182.8L677.4 185.8L677.1 187.8L676.7 189.8L675.1 190L673.5 190.3L674.2 192.9L674.7 195.6L672.1 193.6L669.6 191.5L665.3 187.8L663.6 185.3L661.9 182.8L659.8 179.2L659.9 177.6L660 176L660 174.4L658.5 170.8L659.8 169.6L656.8 168.8L653.7 168L650.6 167.2L652.6 169.6L650 169.4L647.5 169.1L647.9 171L648.2 172.9L648.5 174.8L646.3 174.6L644.1 174.4L641.9 174.2L639.8 174.4L637.7 174.6L635.5 174.8L633.2 174.8L630.9 174.8L628.6 174.7L627.5 175.7L626.4 176.8L626.1 179.2L625.8 181.7L626.8 185.3L625.2 185.7L623.6 186L627 187.2L630.4 188.3L631.9 187.8L633.4 187.3L636.7 188.9L640 190.5L641.8 194L643.9 197.2L645.9 200.5L646.1 203.2L646.2 205.9L646 209.5L645.8 213.1L644.3 214.1L642.8 215.2L641.3 216.2L638.7 215.4L637.6 216.7L637.4 217.5L636.3 218.8L637.3 220.8L635.8 222.4L634.3 224L634.9 225.5L637.7 227.1L640 229.3L641.6 231.6L643.2 233.8L643.5 236.2L641 237.2L638 237L636.9 235.9L637.1 233.8L636 231.8L635.4 230.1L635 229.3L632.8 228.6L630.9 228.6L631.2 227.1L631.3 226.8L629.8 224.7L627.5 223.8L627.4 223.4L624.8 224.2L622.9 226.3L621.6 225.5L621.3 223.4L621.8 221.6L619.6 221.4L618.1 223.4L617.3 223.7L616 224.9L614.6 226L617.1 228.1L619.1 229.3L620.5 231L622.4 229.2L625.9 229.9L627.2 231.5L625.4 232.6L623.6 233.7L622.9 237.2L625.6 239.1L628.3 242.7L631.4 245.1L632.1 247.2L630.7 248.7L633.2 249.8L633.7 252.1L631.8 254.7L631.5 256.8L630.8 260L629.6 262L628.3 264L625.8 267L623.4 268.6L620.7 269.6L619.1 269.9L615.9 270.9L612.8 272.2L612.5 275L611.1 273L609.5 271.8L607 271.6L605.2 273L604.4 273.5L603.2 275.9L603 279L605.3 282.1L608.2 284.8L609.7 285.9L610.9 288L612 290L612.7 291.8L613.6 295.2L613.3 296.8L611 299.4L608.8 300.8L607.8 302.8L605 305.1L603.7 305.4L604.2 303L602.7 300.6L602.1 300.2L600.5 300.2L598.9 297.4L597.8 296L596.8 294.9L594 294.2L592.9 292.6L591.7 293.4L591.9 295.1L591.6 297.1L591.2 299.1L590.6 300.4L591.6 303.8L592.9 305.9L594.4 309L596.1 309.8L598 311.7L598.5 311.9L600.4 314L601.1 317.9L602.3 321.3L603.5 324.2L602.4 324.4L601.4 323.9L598.7 322.1L597.7 321.3L596.5 320L594.8 317.4L594 313.7L593.5 311L593.1 310.6L591.9 308.3L589 307L588.9 304.3L589.4 301.7L588.8 297.8L588.8 295.3L588.2 293.2L587.5 291L585.9 287.4L585.4 284.8L583.8 283.5L582.1 284L579.7 286.6L577.8 286.1L578 282.1L576.3 278.2L573.4 275.4L571.8 273.8L570.8 271.8L570.1 269.6L568.2 268.8L567.4 269.9L566.2 270.7L565.1 270.9L564.2 271.2L562.2 271.4L560.7 271.4L559.7 273L559.3 274.8L556.8 276.7L554.6 279.1L552.4 281.6L550.5 284.5L550.6 285.3L548.1 285.5L547.5 286.6L546.3 287.9L546.5 290.8L546.8 293.6L546 296.6L546.1 298.8L546.3 300.9L545 300.9L544.7 303.6L542.6 304.9L541.3 306.7L539.9 305.6L538.1 301.9L536.7 298.5L535.5 296.4L534.4 294.3L532.9 290.8L531.4 287.4L529.9 283.5L529 280.8L528.2 278.2L527.9 274.6L527.4 272.6L526.8 269.6L525.9 270.9L523.5 273.8L520.2 271.4L518.7 269.7L520.8 268L518.5 268.3L517.2 266.5L516.5 266.2L514.8 265.2L513.3 263L512.3 261.5L510.1 261.8L507.9 262L505.3 262.2L502.8 262.3L501.2 262L498.9 261.8L495.7 261.3L492.5 260.9L490.5 257.3L488.7 256.8L487 258.1L484.8 258.4L481.4 257.3L478.6 254.8L475.8 252.3L474.1 249.5L472.6 249.5L470.6 249.6L469.3 249.6L469.4 251.1L470.6 253.3L472.3 255.3L473.9 257.3L475 258.8L476.1 261L477.1 263.2L477 262.6L477.7 259.6L478.7 261.8L478.9 263.6L479 264.5L482.1 264.2L485.2 263.9L487 261.9L488.4 260.5L489 258.9L489.4 261L489.4 262.3L490.1 263.9L492.5 265L494.9 266.2L497.9 269.1L496.4 273L495.4 274.3L494.2 278.2L491.6 280.3L488.9 281.9L486.2 283.5L484 284L481.9 284.5L479.7 286.3L477.4 288.2L475.2 290L473.4 291L471.6 292.1L468.8 293.2L466 294.4L464.3 294.6L462.5 294.8L462 293.1L461.1 289.2L460.4 286.8L460.4 285L459.9 283.7L458.6 281.6L457.2 279.5L454.8 276.1L453.1 273.9L451.4 271.7L449.7 267.8L448.5 264.9L446.5 262.6L444.7 260L442.6 256.4L440.9 254.7L440.4 253.4L440.5 251.2L440.6 250.8L440.5 250.7L440.4 250.8L439.3 248.5L438.5 246.4ZM460.8 209L462.3 208L463.8 206.9L466.4 206.1L468.9 205.2L471.5 205.9L472.5 209.5L470.7 210.1L468.9 210.8L467.5 212.1L470.2 215.2L473.4 217.2L474.6 219.8L477.2 220.8L475.6 223.4L477.9 226L478.5 228.1L479 230.2L477.3 231.5L475.2 231.8L473.1 232L469.5 229.9L467.7 227.6L468.1 225L469.7 222.4L467.7 221.1L465.3 218.8L462.3 215.7L461.8 213.1L460 211.6ZM60.8 152.6L61.8 153.1L62.8 153.5L63.8 154L63.9 155.3L64 156.6L65.8 156.9L67.7 157.1L68.3 158L69 159L64.9 160.3L61.3 161.5L57.6 162.8L56.5 162.1L55.5 161.4L54.1 160.9L52.7 160.3L50.6 160.5L48.6 160.7L52.6 158L56.6 155.3ZM351.6 197.7L352.6 197.9L354.7 196.9L356 196.3L358.1 196.4L360.4 195.9L363.4 195.9L365.8 194.9L364.8 194L365.5 193L366.4 191.5L366.3 190.5L364 190.4L363.6 189L363.3 188.8L362.8 187.5L361.8 186.5L360.7 186.2L360.2 185.3L359.9 183.8L359.2 183.3L358 182.7L358 182.1L357.7 181.7L359.1 180L359.6 178.9L357.3 178.7L355.4 178.9L357.4 178L357.3 176.4L355.5 176.5L353.7 176.5L352.7 178L352.2 179.7L352 180.9L351.2 181.1L352 184.6L353.6 183.6L354.2 184.2L353.1 185.7L355.3 185.7L356.6 185.6L356 186.5L357.2 187.8L357 189.3L355.5 189.4L354 189.5L354.2 190.8L354.9 191.5L353.7 192.5L352.5 193.1L353.1 193.8L354.7 193.9L356.6 194.1L357.6 194L356 194.8L354 195.3L353.4 196.3ZM348.9 184.4L351.1 184.8L352.3 186.3L351.5 187.5L351.1 189.4L351.2 191.5L350.5 192.3L349.2 192.5L346.6 193.3L343.6 194.1L342.6 193L342.4 192.5L343.5 191.3L344.4 190.3L345.3 189.6L343.3 189L343.6 187.3L346.3 187.2L346 186L347 184.9ZM324.3 163.4L322.7 164.2L324.8 164.5L327 164.8L329.1 165.1L331.6 164.4L334.1 163.7L336.5 163L339.4 161.2L338 158.2L335.4 158L333.6 158.3L331.8 158.7L330.1 158.8L328.3 158.9L326.3 158.6L324.3 158.2L322.3 159.3L320.3 160.3L322.3 160.9L324.4 161.4L322.6 161.7L320.8 161.9L322.5 162.3L324.2 162.8ZM382.6 215.7L383.1 218L382.4 219.9L381.1 219L381.2 216.7ZM382.4 220.2L383.8 222.1L383.5 225.6L380.9 226.3L380.9 224.1L380.8 221.9L380.3 220.8ZM389.6 229.2L391.7 228.1L394.1 228L396.4 227.9L395.5 229.9L395.6 232.2L393.8 231.2L391.9 230.5L390.1 229.7ZM414 234.9L416.2 235.4L418.1 235.5L420.1 235.7L420 236.5L416.7 236.5L414 235.7ZM433.2 236.5L434.6 235.5L436.3 235.1L438 234.6L436.9 236.5L434.9 237.5L433.5 237.1ZM383.9 183.6L385.9 182.6L387 182.8L387 184.6L386.1 185.3L384.5 184.8ZM381.8 184.1L383.1 183.8L383.8 185.1L382.6 185.3ZM379.1 132.2L381 133L383 133.7L384.6 134.6L386.3 135.5L388 136.4L389.1 134.7L390.7 134L392.3 133.4L393.8 132.8L392.2 132.1L390.6 131.5L389 130.9L387.4 130.5L385.9 130L384.1 130.2L382.4 130.3L380.6 130.4L378.8 130.6ZM389.6 130.4L391.2 130L392.7 129.7L394.3 129.3L396.1 129.4L397.9 129.5L399.7 129.6L401.5 129.7L399.8 130.2L398.1 130.7L396.3 131.3L394.6 131.1L392.9 130.8L391.3 130.6ZM394.4 134.7L396 134.5L397.7 134.3L399.4 134.1L396.8 133L395.4 133.1L394 133.3ZM427.2 130L428.6 129.9L430.1 129.7L431.7 129.7L433.3 129.6L434.9 129.6L436.5 129.6L434.8 130.2L433.3 130.2L431.9 130.2L430.4 130.2L428.8 130.1ZM447.7 147.2L449.6 147.8L451.6 148.3L453.5 148.9L455.5 148.8L457.5 148.7L453.8 146.3L454.1 144.7L454.3 143L455.4 141.5L456.4 140.1L458 139.6L459.5 139.1L461 138.6L462.5 138.1L463.9 137.6L465.1 136.7L466.3 135.9L464.7 136.1L463.2 136.4L461.6 136.6L460.1 137L458.5 137.4L457 137.7L455.4 138.1L453.8 138.5L453 139.5L452.1 140.6L451.2 141.7L450.2 142.8L449.2 143.8L447.9 145.9ZM501.4 131.8L503.8 132.3L506.3 132.8L508.7 133.2L511.1 133.7L512.7 133.5L514.2 133.2L515.7 133L517.3 132.8L514.5 131.8L511.8 130.9L509.2 130L506.5 129.2L503.9 128.3L502.4 128.5L501 128.7L499.5 128.9L498 129.2ZM574.1 138.7L575.8 138.5L577.5 138.4L579.2 138.2L580.9 138.1L583.4 138.3L586 138.5L588.5 138.8L591.1 139L593.7 139.3L594.9 138.7L592.2 138.3L589.5 137.9L586.8 137.6L584.1 137.2L582.2 137.2L580.3 137.2L578.4 137.2L576.5 137.2L575.7 137.7L574.9 138.2ZM654.6 147.6L655.6 146.8L658.1 148.3ZM70.4 146.8L71.8 147.2L73.2 147.6L70.5 148L67.8 148.3ZM654.7 208L654.7 206.2L657.6 207.7L654.7 204.1L655.2 201.1L652.7 200.1L650.2 199.1L648.4 196.5L646.5 194L643.9 190.3L639.2 187L640.2 189L641.5 191.5L644.8 195.3L647 197.8L649.2 200.3L651.8 204.1L653.3 206.4ZM658.4 219.8L660.3 218.8L658.5 217L661.4 217.6L664.4 218.3L665.2 215.7L667 214.9L664.6 212.6L664.5 212.2L662.2 212.8L658.9 211L655.6 209.3L655.3 210L657.5 213.9L656.5 215.2L656.7 217.5ZM659.1 220.2L661.6 219.8L663.2 222.1L665.4 224.5L666.3 227.9L666 229.4L667 231.8L667.4 233.8L668.4 234.6L667.9 236.2L666.6 235.7L665.3 236.2L665.3 237.5L664 237.5L661.8 237.5L661.5 238.3L660.5 239.6L660.1 240.5L657.7 238.5L655.4 237.2L652.9 238L651.3 239.3L648.7 239.1L649.4 237.5L651.2 235.2L652.7 235.2L654.7 235L656.7 234.9L657.6 234.6L658.2 232.3L657.7 230.7L658.4 229.9L658.5 231.5L660.7 230.7L661.5 228.9L661.7 227.3L660.5 223.7L659.7 221.9ZM653 240.9L654.8 242.5L656.9 241.2L657.3 239.6L655.1 238L653 238.8ZM646.9 240.4L648 239.3L649.8 240.1L651.9 241.4L652.3 243.6L652.6 245.9L651.4 246.9L650 246.1L648.8 243L647.2 242.2ZM635.5 261.8L636.8 262.6L636.7 265.2L636.6 267.8L635.9 270.7L634 268.3L633.2 265.7L634.5 262.6ZM609.4 277.7L611.3 275.6L614.6 276.4L613.9 279L611.8 280.3L609.6 279.5ZM546.7 310.1L546.5 306.4L546.6 304.3L546.7 302.3L547.4 303L549.6 305.6L551.1 308.3L550.8 311.1L548.5 312.4L547.1 311.4ZM438.4 246.1L435.8 246.6L434.2 246.2L433 245.6L430 245.7L428.9 246.4L426.9 246.8L424.8 247.2L422.9 246L420.7 245.7L418.4 245.3L415.8 244.2L413.5 242.7L412.3 242.2L410.1 241.9L407.2 244L406.1 247.9L405 248.7L401.6 247.2L398.3 246.1L396.4 243.2L394.1 242.6L391.9 241.9L389.3 241.9L388.3 241.3L386.8 239.8L385 239.3L386.4 237.1L387.1 235.9L386.1 234.2L386.8 231.1L385 231.8L384.2 230.5L381.5 231.4L379.8 231.5L377.9 231.5L375.9 231.7L374 231.9L371.8 231.9L369.6 231.9L367.4 232.2L365.1 232.5L363 234.1L361.6 234.6L360.2 235.7L358.2 236.2L356.7 235.9L354.3 235.9L351.5 234.1L350.4 234.4L350 235.2L349.6 235.9L348 239.1L346.4 240.1L344.4 241L342.7 243.5L341.4 245.6L341.1 247.9L341.8 248.5L340.8 250.8L340.4 251.1L338.3 253.4L336.3 254.7L334.2 255L333.6 255.6L333.5 257L330.5 259.7L328.9 262.8L327.2 266L326 268.2L324.8 270.4L324.4 273.5L326.1 275.6L325.6 277.2L326.2 279.5L326.6 280.6L326 283.3L325.4 285.9L324.2 288.4L323 289.5L324.1 290L324.6 291.8L324.5 292.6L324.7 295.5L327.2 296.9L326.3 297.8L328.6 299.4L331.5 303L332.4 304.2L332.5 305.6L333.5 308L336.5 309.8L338.1 311.4L340.2 313.1L342.3 314.8L345.7 316.5L349.2 315L351.5 314.6L353.8 314.1L355.8 314.5L358.4 315.4L360.4 314.4L362.5 313.4L365.7 311.9L366.8 311.7L368.5 311.3L369.2 311.2L370.8 311L373.3 311.4L374.5 312.7L376.8 316.6L379.1 316.4L381.4 316.1L382.8 315.8L385.3 317.4L385.8 320.3L385.6 321.8L385.5 323L384.5 325.2L384.8 326.8L383 329.7L384.9 333.1L386.7 335.6L388.6 338.2L390.3 340.4L391.1 342.3L391.3 343.5L392.3 347.2L393.3 350.8L393.8 353L394.2 355.3L394.1 357.7L393.9 360.1L392.7 362.2L391.6 364.4L390.7 367.5L390.2 370.2L389.7 372.9L391.4 376.1L392.5 378.8L393.5 381.4L394.6 384.5L395.7 387.6L396 391L396.4 394.4L396.9 397.4L398.2 400L399.6 402.5L400.4 405L401.2 407.5L402.8 410.9L402.5 413.5L403.3 416.4L403.2 417.6L405 418.2L406.5 418.8L408.7 417.8L411 416.9L414.3 416.9L416.6 416.7L418.9 416.5L421.6 415.8L424.1 414L426.8 411.4L429.2 408.6L431.7 405.8L434.2 403L435.4 400.5L436.5 398L436 395.5L438.1 393.9L440.5 392.2L442.8 390.5L442.6 390.3L442.9 387.8L443.1 385.3L442.5 382.5L442 379.7L443.9 378.3L445.8 376.9L446.9 374.6L449.9 372.5L453 370.4L455.5 367L455.7 363.7L456 360.5L455.9 357.8L455.8 355.1L455.1 351.9L454.3 348.7L453.4 345.6L452.3 343.5L453 341.2L453.3 340L454.3 338.4L455.4 336.2L457.3 333.8L458.8 332.2L461.1 328.8L464.5 325.2L467.5 322.5L470.2 320L473.6 316.1L474.7 313.9L475.8 311.7L476.9 309.6L477.5 307L479 303L481 300.7L480.5 297L478.2 297.6L475.8 298.3L472.6 299.1L469.4 299.8L466.3 300.6L464.2 299.3L462.2 297.9L461.9 297.6L461 295.7L461.7 294.7L460.7 293.9L458.7 291.9L456.7 290L454.8 288.5L453 287.1L451.8 284.6L450.6 282.1L450.7 280.8L449 278.8L447.3 276.7L447.6 273L446.3 270.4L444.8 267.9L443.3 265.4L441.8 262.7L440.2 260L438.7 258L438.4 256.7L436.8 253.2L435.1 249.6L435.5 250.3L437.8 254.2L439.3 255.4L439.7 253.4L439.9 252.1L440.4 250.8L439.3 248.5L438.5 246.4ZM476 359L476.7 362.1L477.5 365.2L478.2 368.3L476.9 370.9L476.1 373.1L475.2 375.2L474 379L472.7 382.7L471.4 385.9L470.1 389.2L469.3 391.2L468.5 393.3L466.3 394L464.2 394.7L462.7 391.8L461.3 388.8L461.1 386.4L460.8 384L463.3 380.8L463.7 377.8L464.1 374.8L466.4 371.8L468.6 368.8L471.5 366.5L472.7 364.4L474 362.3ZM690 355.8L688.6 357.9L687.8 360.7L686.6 363.6L686.1 367L684.8 370.3L683.4 373.5L680.3 373.5L677.3 371.7L675.4 369.6L673.5 367.5L672.5 366.2L674 363.9L676.4 360L674.6 359.2L672.3 359.7L670.1 358.9L666.8 357.6L666.2 357.3L663.1 359.7L662.7 360.4L661 362.3L659.7 364.5L658.5 366.7L655.8 366.7L654.5 364.4L652.9 364.1L650.4 365.7L647.1 368.3L644.4 370.7L641.4 372.5L640.8 374.8L637.8 378.5L635.8 379.3L633.7 380.1L631.5 380.8L629.7 381.2L627.8 381.6L625.3 382.7L623.1 383.7L620.9 384.8L619 387.9L618 391.8L617.1 394L616.2 396.1L617.3 399.6L617.7 403L617.6 406.2L617.6 408.8L617.6 411.4L615.9 415.1L614 417.6L616.7 418.4L619.3 419.2L621.4 418.5L623.4 417.7L626.3 417L629.3 416.2L631 416.3L632.7 416.4L635.8 414L639.8 412.2L642.2 411.7L644.6 411.1L647 410.6L649.3 410.4L651.6 410.1L654.4 411.4L656.9 411.7L658.5 414.8L658.8 418.5L662.6 415.3L665.5 412.7L663.2 416.6L660.6 419.8L664.4 418.7L662.5 420.8L665.2 421.6L665 424.2L664.7 426.8L666.4 428L668.1 428.5L669.8 429.1L674.1 426.8L674.6 428.4L675.5 430L679.6 427.1L682 426.5L685.6 425.7L688.2 421.8L690.8 419L693.4 416.2L695.8 413.8L698.4 411.4L701.2 407.5L702.9 405.1L704.6 402.6L704.8 399.4L705.8 395.7L706.8 393.1L705.4 392.6L703.3 390.3L702.8 387.9L700.4 385.8L700.4 382.9L698.8 380.6L696 378.1L694.9 374.8L695 372L694.5 368.3L693.3 365.2L691.7 365.2L691.6 361.3L690.9 357.9ZM669.5 434.1L671.9 434.2L674.3 434.4L676.8 434.6L674.6 437.9L672 440.5L669 441.6L668.2 437.9ZM739.4 417.7L740.2 419.2L741.2 421.3L740.2 423.9L742.4 423.9L741.9 426.3L744.3 426.3L746.7 426.3L742.8 429.9L740.4 430.7L739.6 431.5L734.8 435.4L731.9 435.7L734 433.5L733.6 430.4L736.9 428.4L739.1 425L739.3 422.5L739.3 420ZM729.2 433.5L730.5 435.4L730.2 436.7L726.9 438.7L723.1 441.6L718.3 443.6L714.1 447.5L711.5 448.4L708.9 449.3L706.7 448.2L705.9 446.7L709.1 444.6L712.3 442.6L715.7 441.3L719.2 440L722.3 438.5L726.9 434.8ZM664.8 331.5L667.4 328.9L669.7 329.5L672 330.2L672.2 332.3L672.4 334.4L675.3 336.5L677.1 334.2L678.9 332L681.2 332L684.3 333.3L687.3 334.6L689.4 335.4L691.4 336.2L693.9 337.1L696 337.8L698.8 341.4L700.3 343.5L703.2 343.8L701.3 345.3L702.2 348.5L704.3 350.8L706.3 352.9L708.4 354.7L706.1 355L703.6 353.8L701.1 352.6L698.7 348.7L695.3 347.7L692.9 349.5L691.5 351.6L689.2 351.6L686.9 351.6L685.7 350L683.6 349.8L681.4 349.5L680.4 347.4L680.1 344.2L679.7 340.9L676.3 339.6L672.9 338.3L669.5 338.3L668 335.4L670.8 334.1L668.3 332.9L665.8 331.8ZM704.5 342.2L706.5 341.6L708.5 340.9L712.1 338.8L713.9 339.1L711.9 342.2L708.3 344.3L704.9 343.5ZM710.6 334.9L713.3 336.5L715.5 339.9L714.7 340.1L712.8 337.2L710.4 335.4ZM719 341.4L721.8 344.8L721.3 345.9L719.2 343.2ZM615.8 322.4L617.3 323.4L619.4 321.8L621.4 320.7L623.4 319.5L625.6 316.4L627.6 314.8L629 313.7L630.3 312.2L631.7 309.8L633.9 311.1L635.1 312.7L637.7 314.3L635.5 316.4L634.6 316.7L634 319.5L635.6 322.4L637.2 325.2L634 327.8L633.5 330.5L632.3 331.2L631.3 334.4L631.5 337L630.3 338.3L627.1 337.2L625.3 336.7L623.4 336.2L620.5 335.7L617 335.4L616.9 332.5L614.4 329.1L615.1 327.8L614.4 325.2ZM582.4 313.2L585 313.7L587.5 314.3L590.4 317.9L592.3 320L594.2 322.1L597 323.4L599.1 325L601.2 326.5L602.4 330.2L604 331.8L607.3 335.7L607.1 339.3L606.8 343L603.8 343.2L601.4 340.6L598.7 337.8L595.8 334.4L595.1 332.3L594.4 330.3L591.3 326.5L590.1 323.4L588.3 321.1L586.5 318.7L584.5 316ZM605.1 345.6L607 343.2L608.8 343.8L612 344.3L614.5 345.1L617 345.9L619.6 345.1L622.3 345.9L624.2 346.9L626.1 347.9L626.4 350.6L624.6 350L622.8 349.5L620.5 349.4L618.2 349.3L615.9 348.9L613.6 348.6L611.4 348.2L608 347.2L605.3 345.6ZM626.3 349L628.7 349.8L627.7 350.8L626.4 349.8ZM629.6 349.8L631.3 349.5L630.7 351.1L629.6 350.8ZM631.4 350.3L634 349.6L636.6 349L635.8 350.8L633.8 351.1L631.8 351.3ZM638.4 350L640.8 349.8L643.1 349.5L645.5 349.3L644.5 350.8L641.6 350.8L638.8 350.8ZM636.3 352.9L638.3 353.3L640.4 353.7L639.6 354.7L636.5 353.4ZM646.5 354.7L649 352.4L651.5 350L653.5 349.9L655.6 349.8L653.7 351.1L651.3 352.5L648.8 354L646.7 355ZM637.9 342.5L640.5 342.5L640.5 338.9L640.5 335.4L642.1 335.2L642.1 337.8L641.9 340.4L643.9 340L645.9 339.6L644.2 335.7L642.7 332.8L645.1 331.6L647.6 330.5L645.5 330.2L643.4 329.9L640 326.5L642 324.7L644.3 325.4L646.7 326.1L649 326.8L651.7 323.9L649.9 325.2L647.1 325.3L644.3 325.4L641.6 325.5L639.7 325.5L639.1 327.8L638 331.1L636.9 334.4L638.2 337L638.1 339.7ZM657.2 322.1L658.2 325.2L659.8 323.9L659.6 326.5L658 327.1L659.1 329.9L657.3 328.6L656.8 325.2ZM658 335.4L660.3 335.4L662.7 335.4L664.4 336.7L661.4 337L658.4 337ZM653.4 335.9L656.2 336.2L655.2 337.8L653.4 337.2ZM636.9 279.5L638.2 279.3L640.5 279.5L641.2 283.5L640.3 286.6L641.2 289.2L643 290.8L644.9 291.5L647.4 294.9L646.4 294.4L644.4 292.6L642 291.5L639.7 292.1L638.7 290.8L639.2 289.7L636.6 286.1L637.3 284.8L636.9 282.1ZM643.9 309.8L645.8 307L647.5 305.4L649.5 304.6L651.4 304.3L651.2 302.3L653.3 305.6L654.2 308.8L653.5 311.4L652 309.6L651.7 313.2L649.1 312.2L648.7 309L647 307.5L645.4 308.3ZM647.7 295.2L650.6 296.5L651.3 299.1L649.7 298.6L648.4 297.8ZM648.4 297.8L649.7 298.6L650.4 301.2L649.5 301.7L648.1 299.4ZM642.4 297L644.8 297.8L644.3 300.2L643 300.4ZM643.8 299.4L646.3 299.6L646.2 301.9L646 304.1L644.4 303.3ZM647.1 298.3L647.6 300.7L646.4 303L646.7 300.7ZM647.2 301.5L649 301.5L648.7 302.8L647.3 302.8ZM638.2 292.9L640.5 292.6L641.2 294.9L640.4 296L639.2 294.7ZM632.4 305.9L634.7 302.1L637 298.3L637.4 299.4L635.3 302.9L633.1 306.4ZM720.9 344.8L724.2 346.9L725.1 348.7L723.6 348.2L721 345.9ZM726.2 349.5L728.2 350.8L730.1 352.1L732.2 353.7L729.2 353.4L726.5 350.8ZM731.7 349.8L733.8 352.1L733.4 353.2L732 351.3ZM733.9 354.5L735.6 355.5L734.7 356ZM743.4 366L744.8 367L744.6 368.8L743.5 368.6ZM745.7 370.1L746.8 371.4L746 373L745.4 371.7ZM766.4 373.3L769.4 373.3L768.8 375.4L766.2 375.1ZM770.7 370.4L773.4 369.6L772.9 372L770.4 371.7ZM734.4 380.6L736.9 383.2L738.4 384.6L739.8 386.1L738.7 386.9L737.3 385.4L735.8 384L734.1 381.6ZM9.3 275.9L11.6 276.4L9.8 278.5L9.1 277.4ZM8.6 273L10 273.5L9 274.1ZM5.3 271.4L6.6 272L5.6 272.2ZM2.3 269.9L3.4 270.1L2.6 270.7ZM308.7 287.9L309.8 288.2L309.1 288.9ZM305.6 283.2L306.3 283.5L305.8 283.7ZM307.2 284.4L308.1 284.5L307.6 284.8ZM310.7 285.8L311.2 285.5L311 286.2ZM462 357.6L462.7 357.9L462.2 358.9ZM492.8 380.1L493.9 380.3L493.1 381.4ZM487.8 382.4L489.2 382.7L488.4 383.7ZM378 326.8L378.6 327.1L378.1 327.8Z"/>
<g clip-path="url(#L)" stroke="#7f7f7f" stroke-width="0.5" stroke-linejoin="round">
<path fill="#a6bddb" d="M128.3 151L124.7 153.9L121.1 156.9L117.6 160L114.1 163L110.7 166.1L107.3 169.3L104 172.4L105.8 172.4L107.6 172.3L107.4 173.9L107.3 175.6L110.6 174.1L112.9 173.6L113.3 175.2L113.6 176.8L112.3 179.2L112.6 180.9L112.8 182.8L114.5 183.1L113.2 184.6L110.8 186L108.7 188.2L106.5 190.3L105.2 188.8L103.9 187.4L102.6 186L101.4 184.6L100.2 183.2L99.1 181.8L97.9 180.4L94.6 181.1L91.2 181.8L87.8 182.5L84.4 183.2L80.9 183.9L77.5 184.6L74.1 185.3L70.6 186L67.2 186.7L63.7 187.4L60.2 188.1L56.8 188.8L53.3 189.6L49.8 190.3L46.3 191L42.8 191.7L39.2 192.4L35.7 193.1L32.2 193.8L28.6 194.6L25.1 195.3L27.3 191.8L29.8 188.4L32.3 185L35 181.6L37.8 178.3L40.7 175L43.7 171.7L46.8 168.4L52.2 166.1L57.5 163.7L62.9 161.4L68.2 159.1L72.7 156.4L77.3 153.7L81.9 151.1L86.5 148.5L91.3 145.9L93.6 145.9L95.9 145.9L98.2 145.9L100.5 145.9L102.7 145.9L105 145.9L107.3 145.9L109.6 145.9L111.9 145.9L114.2 145.9L116.5 145.9L118.8 145.9L121.1 145.9L123.4 145.9L125.7 145.9L128 145.9L130.3 145.9L132.6 145.9L134.9 145.9L131.6 148.4Z"/>
<path fill="#a6bddb" d="M55 165.6L57.2 165.8L59.4 165.9L61.6 166.1L65 163.7L62.8 163.7L60.6 163.7L58.4 163.7Z"/>
<path fill="#a6bddb" d="M115 200.3L117.9 200.3L120.9 200.3L123.8 200.3L126.8 200.3L129.8 200.3L132.7 200.3L135.7 200.3L138.6 200.3L141.6 200.3L144.6 200.3L147.5 200.3L150.5 200.3L153.4 200.3L156.4 200.3L159.4 200.3L162.3 200.3L165.3 200.3L168.2 200.3L171.2 200.3L171.7 199.4L171.9 201.1L173.5 201.2L175 201.3L177.2 202L179.5 202.6L181.4 202.9L184.8 202.1L186.4 203.3L188 204.5L189.7 205.7L190.1 206.7L191.2 208.5L190.9 212.1L190.6 215.7L188.5 217.5L189.5 218.3L192.8 217.7L195.2 217L197.6 216.2L198.2 214.4L201.1 213.7L203.9 213.1L207.9 210.5L210.4 210.5L212.8 210.5L215.2 210.5L216.5 209.8L219.1 206.9L222.1 204.3L223.8 204.5L224.6 205.2L223.4 208.7L224.3 211L225.1 211.8L226 215.3L226.9 218.8L227.8 222.3L228.9 225.9L230 229.4L231.2 232.9L232.5 236.5L228.9 238.7L225.3 240.9L221.6 243.1L218 245.3L214.3 247.5L210.7 249.7L207 251.9L203.4 254.1L199.8 256.3L196.1 258.5L192.5 260.8L188.9 263L185.3 265.2L183.1 264.8L180.9 264.4L179 262L177.2 259.7L175.4 257.3L173.8 254.1L172.3 250.8L169.1 251.7L165.9 252.6L162.8 253.4L160 253.4L157.2 253.4L154.4 253.4L151.7 253.4L148.6 257L145.7 260.5L145.4 260.1L143.2 258.1L141 256L139.6 253L138.3 250L136.3 251.1L134.2 252.1L131.2 250.8L129.9 247.8L128.6 244.8L126.7 244.8L124.8 244.8L124.4 246.1L121.3 246.1L118.2 246.1L115.9 244.9L113.6 243.7L111.3 242.5L108.6 242.7L105.9 242.9L103.6 243.6L101.3 244.3L99.6 240.8L98.1 237.3L96.6 233.8L95.3 230.4L94.1 226.9L93 223.4L95.4 219.8L97.8 216.1L100.3 212.5L102.9 208.8L105.5 205.2L108.2 201.6L110.7 202L113.3 202.4Z"/>
<path fill="url(#hatch)" stroke="#cfcfcf" d="M251.9 133.7L254.9 132.7L257.8 131.7L260.7 130.7L263.6 129.7L266.5 128.8L269.2 127.8L272 126.9L274.7 126.1L277.3 125.2L280 124.4L282.5 123.7L284.5 123.7L286.5 123.7L288.5 123.7L290.5 123.7L292.4 123.7L294.4 123.7L296.4 123.7L298.4 123.7L300.4 123.7L302.4 123.7L304.4 123.7L306.4 123.7L308.3 123.7L310.3 123.7L312.3 123.7L314.3 123.7L316.3 123.7L318.3 123.7L320.3 123.7L322.3 123.7L324.2 123.7L326.2 123.7L328.2 123.7L330.2 123.7L332.2 123.7L334.2 123.7L336.2 123.7L338 124.1L339.8 124.5L341.6 124.9L343.5 125.3L345.3 125.8L347.2 126.2L349.1 126.7L348 128.9L346.9 131.2L345.7 133.7L344.5 136.3L343.2 139L342 141.7L340.7 144.5L339.4 147.3L338.1 150.2L335.6 151.2L333.1 152.1L330.5 153L328 154L325.4 155L322.7 155.9L320.1 156.9L317.4 157.8L314.8 158.8L312.1 159.8L309.3 160.8L306.6 161.8L303.8 162.7L301 163.7L298.2 165.7L295.3 167.7L292.4 169.8L289.4 171.8L286.5 173.8L283.5 175.9L280.4 178L278.4 176.4L276.5 174.8L274.6 173.2L272.7 171.6L270.8 170L269 168.4L269.1 165.3L269.2 162.2L269.4 159.1L269.6 156.1L269.8 153.2L270.2 150.2L270.6 147.3L271 144.5L271.6 141.7L269.8 141.3L268 140.8L266.2 140.4L264.5 139.9L262.7 139.4L261 139L259.3 138.5L257.6 138.1L255.9 137.6L254.8 136.6L253.8 135.7L252.8 134.7Z"/>
<path fill="#d0d1e6" d="M152.2 289.9L152.4 288.7L153.9 285.9L156.8 285.9L157 285L155 282.8L155.9 282.8L156.1 281.3L158.2 281.3L160.3 281.3L160 283.8L159.7 286.3L160.2 286.3L161.8 286.8L159.2 289.7L158.8 290.2L156.9 292.1L154.8 292.6Z"/>
<path fill="#d0d1e6" d="M160.3 281.3L162.4 279.5L163.5 280.1L163.1 282.4L162.7 284.8L160.2 286.3L159.7 286.3L160 283.8Z"/>
<path fill="#d0d1e6" d="M156.9 292.1L158.8 290.2L160.6 291.3L162.4 291.8L162 293.4L160.4 293.9L157 292.9Z"/>
<path fill="#f1eef6" d="M158.8 290.2L159.2 289.7L161.8 286.8L162.4 285.5L164.7 285.4L167 285.2L169.3 285L171.4 286.5L173.5 287.9L173 288.7L170 289.2L168.8 290L166.3 291.5L164.6 293.1L163.1 294.2L162 293.4L162.4 291.8L160.6 291.3Z"/>
<path fill="#f1eef6" d="M173 288.7L173.2 291.3L173.4 293.9L172.7 296.5L171.9 299.1L171 299.4L168.7 298.9L166.4 299.1L165.3 298.6L163.8 296.5L162.4 294.4L163.1 294.2L164.6 293.1L166.3 291.5L168.8 290L170 289.2Z"/>
<path fill="#d0d1e6" d="M171 299.4L171.9 299.1L173.3 301.7L173.4 302.9L172.9 304.9L172.4 306.9L171.2 307L168.3 305L165.4 303L165.4 300.8L165.3 298.6L166.4 299.1L168.7 298.9Z"/>
<path fill="#f1eef6" d="M173.4 302.9L174 302.8L176.7 302.8L179.5 302.8L182.4 303.7L185.3 304.6L185.3 305.4L183.8 309L182.4 309.6L180.1 309.6L177.8 309.6L175 308.5L172.3 307.5L172.4 306.9L172.9 304.9Z"/>
<path fill="#d0d1e6" d="M192.4 281.4L192.8 277.8L193.2 274.3L195.7 274.6L198.1 274.8L200.6 275.1L200.5 276.1L200.5 278.2L199.9 279.3L200 280.8L199.8 282.7L197.4 282.2L194.9 281.8Z"/>
<path fill="#f1eef6" d="M200.6 275.1L200.5 276.1L200.5 278.2L199.9 279.3L200 280.8L199.8 282.7L202.7 282.2L205.5 281.8L208.4 281.4L208.6 278.8L208.9 276.1L206.1 275.8L203.4 275.4Z"/>
<path fill="#f1eef6" d="M183.3 282.1L183.6 279L186 279L188.3 279L190.7 279L190.3 282.1L188 282.1L185.6 282.1Z"/>
<path fill="#f1eef6" d="M209.3 281.4L209.5 279L212.1 279L214.7 279L214.5 281.4L211.9 281.4Z"/>
<path fill="#f1eef6" d="M184.8 265.7L185.2 262.7L185.7 259.8L186.2 256.8L188.4 259L190.7 261.3L193 263.5L195.4 265.7L194.9 269.1L192.4 268.2L189.9 267.4L187.3 266.5Z"/>
<path fill="#2b8cbe" d="M220.6 301.7L220.8 299.1L223.7 299.1L223.6 301.7Z"/>
<path fill="#d0d1e6" d="M199.6 296.9L198.8 294.9L200.8 294.4L202.7 293.9L205.7 294.7L208.7 295.5L211.7 296.2L214.8 297L217.8 297.8L220.8 298.6L223 300.8L225.2 303L225.5 306.2L223.6 309L221.6 312.4L223.2 314.3L224.8 314.3L223.1 316.1L221.1 316.6L219 317.1L217.1 317.7L214.1 317.1L214.8 319.2L215.4 321.3L216.8 322.1L214.5 323.9L212.2 325.8L208.7 324.7L208 321.8L206.7 320.5L207.9 319L206.7 317.7L207.9 316.1L206.9 313.5L207.6 311.7L205.4 311.8L203.2 311.9L201.7 309.6L199.6 309.6L196.4 308.5L196.5 307L195.3 303.6L195.7 300.7L197.4 298.9Z"/>
<path fill="#f1eef6" d="M183.8 309L185.3 305.4L185.8 302.9L186.3 300.4L188.7 298.5L191.1 296.5L193.5 295.6L195.8 294.8L198.2 293.9L198.8 294.9L199.6 296.9L197.4 298.9L195.7 300.7L195.3 303.6L196.5 307L196.4 308.5L199.6 309.6L201.7 309.6L203.2 311.9L205.4 311.8L207.6 311.7L206.9 313.5L207.9 316.1L206.7 317.7L207.9 319L206.7 320.5L208 321.8L208.7 324.7L206.2 323.4L202.7 325.2L201.5 326.5L201.5 329.1L202.5 331.8L202.2 335.3L201.9 338.8L200.1 337.8L197 334.4L193.5 331.2L190.5 328.4L189.3 328.1L188.6 327.8L186.5 327.3L184.5 326.8L181.3 323.9L179.7 323.9L180.1 320.9L180.5 317.8L181 314.8L181.7 312.2L182.4 309.6Z"/>
<path fill="#d0d1e6" d="M189.3 328.1L188.6 327.8L186.5 327.3L184.5 326.8L181.3 323.9L179.7 323.9L176.7 325.9L173.8 327.8L174.3 330.9L174.7 333.9L175.1 337L177.9 336.7L178.7 339.1L180.3 340.6L181.7 339.9L182.5 337L183.6 335.7L186.4 334.6L188.7 332L189.6 330.2Z"/>
<path fill="#f1eef6" d="M177.9 336.7L175.1 337L174.7 340.2L174.2 343.5L176.3 347L178.3 350.5L180.5 354L182.6 357.4L184.7 360.9L186.9 364.4L189.9 366.9L192.9 369.4L195.8 371.9L198.8 374.4L201.8 376.9L203 375.8L204 374.1L204.9 373.5L206.2 370.4L204.6 368.6L205.5 367.5L205.5 364.1L205.6 360.7L204.5 358.7L203.3 356.6L201 356.6L200.8 352.6L199 353.2L197.2 353.7L194.8 352.4L195.4 350L192.8 347.4L193.4 345.6L194.6 342.2L197.1 339.6L199.4 339.2L201.7 338.8L201.9 338.8L200.1 337.8L197 334.4L193.5 331.2L190.5 328.4L189.3 328.1L189.6 330.2L188.7 332L186.4 334.6L183.6 335.7L182.5 337L181.7 339.9L180.3 340.6L178.7 339.1Z"/>
<path fill="#045a8d" d="M225.5 306.2L227.4 304.3L229.6 307.6L231.8 310.9L231.4 312.3L231 314.8L229.6 316.1L230.2 319L231.1 320.5L232.7 322.9L232 322.9L230.4 322.9L228.8 323.9L227.2 324.4L225.3 323.1L224.9 321.1L225.2 319L225.6 317.7L225 316.1L224.8 314.3L223.2 314.3L221.6 312.4L223.6 309Z"/>
<path fill="#2b8cbe" d="M231.4 312.3L231.8 310.9L234.1 311L236.4 311.2L238.7 311.4L238.6 312.8L237.7 316.1L238.5 318.4L238 320.5L237.1 321.8L234.1 322.9L232.7 322.9L231.1 320.5L230.2 319L229.6 316.1L231 314.8Z"/>
<path fill="#f1eef6" d="M238.6 312.8L238.7 311.4L241 312.5L243.2 313.7L245.5 314.8L244.1 316.9L242 320.3L241 322.1L238 322.1L237.1 321.8L238 320.5L238.5 318.4L237.7 316.1Z"/>
<path fill="#d0d1e6" d="M203.3 356.6L204.5 358.7L205.6 360.7L205.5 364.1L205.5 367.5L204.6 368.6L206.2 370.4L204.9 373.5L206.4 377.2L207.9 378.5L207.2 381.4L209.7 385.3L211.5 387.4L213.5 384.8L216.3 385.6L218 387.4L220.8 385.3L221.7 385.8L222.4 382.4L223.1 379L225 378.6L226.9 378.2L229 378.9L231.1 379.5L231.5 377.2L231.8 374.8L230.8 372.6L229.9 370.4L227.8 370.4L225.8 370.4L225.2 367.1L224.6 363.9L221.4 363.1L217.8 360.7L215.5 360.2L213.3 357.9L213 355.5L212.8 353.2L210.1 353.7L207 355.8L205.6 356.8Z"/>
<path fill="#d0d1e6" d="M221.7 385.8L222.4 382.4L223.1 379L225 378.6L226.9 378.2L229 378.9L231.1 379.5L232 382.2L232.3 385.6L234.7 385.8L237.1 386.1L237.7 388.3L238.4 390.5L240.9 390.8L240.6 394.7L240.7 397.8L238.7 399.4L237 399.6L234.6 399.3L232.2 398.9L232.9 396.8L233.7 394.7L231.9 392.6L230.1 390.5L227.9 390.3L225.7 390L223.7 387.9Z"/>
<path fill="#d0d1e6" d="M203 375.8L204.9 373.5L206.4 377.2L207.9 378.5L207.2 381.4L209.7 385.3L211.5 387.4L211.6 390.5L209.3 391.8L209.4 394.4L209.6 397L209.1 399.9L207.9 402.3L208 404.5L208.1 406.7L207.7 410.1L209.6 414L210.5 417.9L210.3 421.8L210.2 425.7L210.7 428.4L211.3 430.9L210.7 433.5L212 437.4L213.3 440.8L214.7 443.9L215.5 447.7L215.7 449.9L216 452.1L214.7 454.1L215.9 456.4L217.2 458.7L219.5 460.4L220.9 462.9L223.5 463.2L226.1 463.4L228.4 463.8L226.4 464.2L228.3 464.6L229.5 467.4L230.7 470.1L232.5 470.5L234.2 470.9L236.9 472.8L234.4 472.8L231.8 472.8L229.3 472.8L226.8 472.8L224.2 472.8L221.7 472.8L219.1 472.8L216.6 472.8L214 472.8L212.2 469.2L210.4 465.6L208.7 462L207 458.3L205.4 454.6L203.9 450.9L202.5 447.1L201.1 443.4L199.7 439.6L198.4 435.8L197.1 432L195.9 428.3L194.8 424.4L193.8 420.6L192.8 416.8L191.8 413L190.9 409.2L190.1 405.4L189.3 401.6L188.7 397.7L188 393.9L187.5 390.1L187 386.3L186.6 382.5L186.1 378.7L185.7 374.8L188.6 375L191.5 375.1L194.4 375.3L197.3 375.5L200.2 375.6Z"/>
<path fill="#2b8cbe" d="M246.3 415.8L247.5 417.9L245.5 418.8L243.5 419.7L241.5 420.5L238.5 419.4L235.6 418.2L235.4 416.4L235.4 412.4L234.5 408.8L235.5 406.7L236.8 406.4L239.4 408.8L241.8 409.8L244.7 411.4L246.3 413.2Z"/>
<path fill="#f1eef6" d="M358.2 236.2L359.1 237.8L359.3 241.2L360.3 244L358.5 244.7L356.6 245.3L354.8 247.2L352.8 248.5L350.8 249.8L348.5 250.4L346.1 251.1L343.7 252.9L343.7 255.6L341.1 255.6L338.6 255.6L336.1 255.6L333.6 255.6L330.4 255.2L327.3 254.7L330.2 251.5L333.1 248.2L336 244.9L338.9 241.7L341.4 239.4L343.9 237.1L346.4 234.8L348.9 232.5L351.1 233.8L353.4 234.3L355.8 234.7L358.2 235.2Z"/>
<path fill="url(#hatch)" stroke="#cfcfcf" d="M343.7 255.6L341.1 255.6L338.6 255.6L336.1 255.6L333.6 255.6L330.8 258L328 260.4L325.3 262.8L322.5 265.2L322.9 268L323.4 270.7L323.8 273.5L324.4 273.5L324.7 272.1L327.6 272.1L330.6 272.1L333.6 272.1L333.6 270L333.7 267.8L336 266.6L336 263.3L336.1 260L338.6 260L341.1 260L343.6 260L343.6 257.8Z"/>
<path fill="#f1eef6" d="M324.4 273.5L324.7 272.1L327.6 272.1L330.6 272.1L333.6 272.1L333.6 270L333.7 267.8L336 266.6L336 263.3L336.1 260L338.6 260L341.1 260L343.6 260L343.6 256.6L346.5 258.6L349.3 260.6L352.2 262.6L351.3 265.6L350.4 268.7L349.4 271.7L349.7 275L349.9 278.4L350.2 281.7L350.4 285L350.9 285.3L350.4 287.4L347.5 287.4L344.5 287.5L341.5 287.6L338.6 287.6L336.7 288.7L335.1 289.5L333.8 287.9L331.1 284.5L328.2 285.2L325.4 285.9L323.1 283.5L322.8 280.8L322.5 278.2L322.2 275.6Z"/>
<path fill="#f1eef6" d="M358.2 236.2L358.2 235.2L361.1 234.5L364.1 233.8L367 233.2L369.9 232.5L372.8 231.9L375.7 231.2L378.6 230.6L381.5 229.9L381.5 231.4L381.2 233.8L381.1 237.5L379.4 239.6L380.3 241.2L381.4 243L383 244.3L383.5 246.6L384 249L384.9 249.8L384.8 252.3L384.6 254.7L385.1 258.6L385.3 260.9L385.4 263.1L387.7 264.4L389.9 266.5L386.6 268.7L383.3 271L379.9 273.3L378 275.2L376.1 277.1L374.4 277.4L372.6 277.8L370.5 278.2L370 276.4L367.1 274.8L365.7 273.8L363 271.5L360.3 269.3L357.6 267.1L354.9 264.8L352.2 262.6L349.3 260.6L346.5 258.6L343.6 256.6L343.7 252.9L346.1 251.1L348.5 250.4L350.8 249.8L352.8 248.5L354.8 247.2L356.6 245.3L358.5 244.7L360.3 244L359.3 241.2L359.1 237.8Z"/>
<path fill="#f1eef6" d="M381.5 231.4L381.5 229.9L384.6 229.9L387.7 229.9L387.9 233.2L388 236.5L388.1 238.9L388.3 241.3L388.2 243.2L385 244.5L385.5 246.9L384 249L383.5 246.6L383 244.3L381.4 243L380.3 241.2L379.4 239.6L381.1 237.5L381.2 233.8Z"/>
<path fill="#d0d1e6" d="M388.3 241.3L389.2 239.1L392.4 239.5L395.6 239.9L398.8 240.4L402 240.8L405.3 241.2L408.5 241.7L411.7 242.1L415 242.5L418.2 243L418.4 245.3L418.4 247.4L418.3 249.5L418.6 253L418.8 256.5L419 260L419.1 263.4L419.3 266.9L419.4 270.4L419.5 273L419.6 275.6L417.4 275.6L417.4 276.9L414.3 275.2L411.2 273.5L408.2 271.8L405.1 270.1L402 268.3L399 266.6L397 267.7L395 268.8L393.6 267.5L391.8 267L389.9 266.5L387.7 264.4L385.4 263.1L385.3 260.9L385.1 258.6L384.6 254.7L384.8 252.3L384.9 249.8L384 249L385.5 246.9L385 244.5L388.2 243.2Z"/>
<path fill="#f1eef6" d="M418.4 245.3L418.4 247.4L418.3 249.5L418.6 253L418.8 256.5L419 260L419.1 263.4L419.3 266.9L419.4 270.4L422.3 270.4L425.2 270.4L428.1 270.4L431 270.4L433.9 270.4L437 270.4L440.1 270.4L443.2 270.4L446.3 270.4L447.6 270.4L445.6 267.1L443.6 263.9L441.9 261.1L440.1 258.4L438.8 256L439.3 255.4L439.7 253.4L439.9 252.1L440.4 250.8L439.3 248.5L438.5 246.4L438.4 246.1L438.2 244.3L435.3 244.1L432.5 243.9L429.6 243.7L426.8 243.5L423.9 243.4L421.1 243.2L418.2 243Z"/>
<path fill="#d0d1e6" d="M352.2 262.6L354.9 264.8L357.6 267.1L360.3 269.3L363 271.5L365.7 273.8L367.1 274.8L370 276.4L370.5 278.2L372.6 277.8L372.6 280.8L372.7 283.7L371.2 287.4L368.6 287.6L365.9 287.9L363.4 288.9L361.4 288.4L359.6 290L358.4 290.8L356.1 292.3L352.9 293.9L353.1 294.7L351.1 298.1L350.4 300.7L348.8 300.4L346.9 301.2L344.6 301.5L343.9 299.1L342.8 297L341.2 296L338.7 296.8L336.9 295.5L336.7 293.4L335.1 289.5L336.7 288.7L338.6 287.6L341.5 287.6L344.5 287.5L347.5 287.4L350.4 287.4L350.9 285.3L350.4 285L350.2 281.7L349.9 278.4L349.7 275L349.4 271.7L350.4 268.7L351.3 265.6Z"/>
<path fill="#d0d1e6" d="M372.6 277.8L374.4 277.4L376.1 277.1L378 275.2L379.9 273.3L383.3 271L386.6 268.7L389.9 266.5L391.8 267L393.6 267.5L395 268.8L397 267.7L399 266.6L399.1 269.3L399.1 271.9L399.2 274.6L398.6 275.9L398.5 278.6L398.4 281.3L398.3 284L396.2 287.6L394.1 291.3L394.1 292.1L391.1 293.6L389.2 293.4L387.2 293.1L385.4 293.8L383.6 294.4L380.8 293L378.5 293.6L375.3 291.5L372.4 292.6L371.8 294.9L371.2 297.3L368.5 296.8L367.8 294.7L365.3 293.9L363.9 291.3L363.4 288.9L365.9 287.9L368.6 287.6L371.2 287.4L372.7 283.7L372.6 280.8Z"/>
<path fill="#a6bddb" d="M399 266.6L402 268.3L405.1 270.1L408.2 271.8L411.2 273.5L414.3 275.2L417.4 276.9L417.5 280.2L417.6 283.5L417.7 286.8L415.2 287.4L414.2 291.3L414.5 294.7L415.5 298.1L415.5 299.4L413.5 299.6L411.2 303L408.9 303.7L406.6 304.3L406.4 305.4L403.2 307.2L400.9 308.3L398.6 308.3L397.9 305.6L395.1 303L397.7 301.7L397.5 299.1L396.4 296L395.5 293.6L394.1 292.1L394.1 291.3L396.2 287.6L398.3 284L398.4 281.3L398.5 278.6L398.6 275.9L399.2 274.6L399.1 271.9L399.1 269.3Z"/>
<path fill="#f1eef6" d="M419.4 270.4L422.3 270.4L425.2 270.4L428.1 270.4L431 270.4L433.9 270.4L437 270.4L440.1 270.4L443.2 270.4L446.3 270.4L447.6 270.4L449.1 273.7L450.6 277L452.1 280.3L450.7 280.8L448.1 283.5L447.1 284.8L446.1 287.9L446.4 290.5L446.3 292.6L443.8 294.7L443 297.8L441.7 300.2L441.1 303L439.2 301.2L438.3 299.1L437.5 297L436.3 296.5L434.1 299.1L431.9 301.7L429.6 302.4L427.3 303L425 302.8L421.8 304L418.6 305.1L417 302.8L415.5 299.4L415.5 298.1L414.5 294.7L414.2 291.3L415.2 287.4L417.7 286.8L417.6 283.5L417.5 280.2L417.4 276.9L417.4 275.6L419.6 275.6L419.5 273Z"/>
<path fill="#a6bddb" d="M418.6 305.1L421.8 304L425 302.8L427.3 303L429.6 302.4L431.9 301.7L434.1 299.1L436.3 296.5L437.5 297L438.3 299.1L439.2 301.2L441.1 303L441.4 305.4L438.9 307.2L439.3 307.5L442.8 310.6L444.3 313.2L445.7 315.8L443.5 316.4L441.3 316.9L440.2 317.9L436.7 318.4L434 318.7L431.2 315.8L428.6 315.2L426.1 314.5L423.7 310.6L420.5 308.3Z"/>
<path fill="#a6bddb" d="M446.4 290.5L448.7 290.8L450.7 290.2L452.6 290L454.4 290L457.3 292.9L460.1 295.3L458.8 297.3L461.4 299.1L461.6 299.4L462.9 301.9L464.1 304.3L466.4 305.6L468.8 307L470.9 307L473.1 307L470.9 309.7L468.7 312.4L466.4 315L464.2 315.3L462 315.6L459.5 317.7L457 316.9L454.7 318.7L451.7 318.4L448.2 316.4L445.9 316.1L445.7 315.8L444.3 313.2L442.8 310.6L439.3 307.5L438.9 307.2L441.4 305.4L441.1 303L441.7 300.2L443 297.8L443.8 294.7L446.3 292.6Z"/>
<path fill="#2b8cbe" d="M446.4 290.5L446.1 287.9L447.1 284.8L448.1 283.5L450.7 280.8L452.1 280.3L453.3 282.9L454.6 285.5L456.8 288.4L459 291.3L462.1 294.4L461.7 294.7L460.1 295.3L457.3 292.9L454.4 290L452.6 290L450.7 290.2L448.7 290.8Z"/>
<path fill="#d0d1e6" d="M461.7 294.7L462.1 294.4L463.1 297L462.2 297.9L461.4 299.1L458.8 297.3L460.1 295.3Z"/>
<path fill="#74a9cf" d="M461.4 299.1L462.2 297.9L463.1 297L466.2 299.1L469.4 298.4L472.6 297.7L475.8 297L478.1 296.5L480.5 296L482.1 296.5L482.3 299.1L482.4 301.7L481.6 305L480.9 308.3L480.1 311.5L479.3 314.8L476.7 318.3L474 321.8L471.4 325.2L468.3 327.4L465.2 329.6L462.1 331.8L458.8 332.8L458.8 332.2L457.5 330.2L457.5 327L457.5 323.8L457.5 320.5L459.5 317.7L462 315.6L464.2 315.3L466.4 315L468.7 312.4L470.9 309.7L473.1 307L470.9 307L468.8 307L466.4 305.6L464.1 304.3L462.9 301.9L461.6 299.4Z"/>
<path fill="#d0d1e6" d="M441.2 330.5L444 332.2L446.8 333.9L449.7 335.7L451.5 337.8L453.3 340L455.1 340.9L456.7 338.3L458.3 335.7L459.8 333.1L458.8 332.2L457.5 330.2L457.5 327L457.5 323.8L457.5 320.5L459.5 317.7L457 316.9L454.7 318.7L451.7 318.4L448.2 316.4L445.9 316.1L445.7 315.8L443.5 316.4L441.3 316.9L443.4 318.7L443.6 320.8L443.7 322.9L442.5 325.2L441.4 327.3Z"/>
<path fill="#a6bddb" d="M431.2 331.5L433.3 330.5L435.9 330.5L438.5 330.5L441.2 330.5L441.4 327.3L442.5 325.2L443.7 322.9L443.6 320.8L443.4 318.7L441.3 316.9L440.2 317.9L436.7 318.4L434 318.7L434 321.3L435.1 322.1L433.3 324.7L431.9 326.5L431.3 329.1Z"/>
<path fill="#d0d1e6" d="M433.3 330.5L435.9 330.5L438.5 330.5L441.2 330.5L444 332.2L446.8 333.9L449.7 335.7L451.5 337.8L453.3 340L455.1 340.9L455.6 344.2L456.1 347.4L456.6 350.7L457.1 354L455.8 355.1L452.4 357.1L449 358.1L446.1 358.1L443.2 358.1L442.3 357.3L442 355.3L441.8 353.2L439.5 352.6L438.6 352.4L436.5 351.3L434.2 350.3L433.6 349.5L432.5 346.1L430.9 343.5L431.2 339.6L432.6 338.3L434 336.5L433.3 334.1L434 332Z"/>
<path fill="#a6bddb" d="M429.6 334.4L429.9 331.8L431.2 331.5L433.3 330.5L434 332L433.3 334.1L430.8 335.2Z"/>
<path fill="#a6bddb" d="M429.8 335.2L430.8 335.2L433.3 334.1L434 336.5L432.6 338.3L431.2 339.6L430.3 336.2Z"/>
<path fill="#74a9cf" d="M391.1 343.2L391.3 343.8L392.9 343.2L395.4 343.2L398 343.2L400.5 343.2L401.2 346.1L403.2 349L405.4 348.9L407.6 348.7L407.8 346.1L410.5 346.5L413.1 346.9L413.1 349.8L413.1 352.6L413.5 354.7L413.9 356.8L415.9 356.6L417.8 356.3L418 358.9L421 357.1L422.6 358.9L425.3 358.1L428 360.5L429.3 362.8L431.2 362.8L431.3 359.7L428.4 356.6L428.7 353.3L429 350L431.3 349.8L433.6 349.5L432.5 346.1L430.9 343.5L431.2 339.6L430.3 336.2L429.8 335.2L429.6 334.4L429.9 331.8L431.2 331.5L431.3 329.1L431.9 326.5L433.3 324.7L435.1 322.1L434 321.3L434 318.7L431.2 315.8L428.6 315.2L426.1 314.5L423.9 314.3L421.7 314L419.2 314.5L417.3 315L415.5 315.6L412.5 316.6L410.2 316.4L407.7 314.5L405.6 316.6L405.8 318.7L404.5 322.6L404.1 325.2L403.8 327.8L401 331.8L399.9 334.4L399.6 338.3L398.2 339.1L396.4 339.6L394.1 340.4L392.5 339.3L392 341.2L391.1 340.9Z"/>
<path fill="#74a9cf" d="M396.6 316.9L397.5 314.8L396.1 312.2L398.6 308.3L400.9 308.3L403.2 307.2L406.4 305.4L406.6 304.3L408.9 303.7L411.2 303L413.5 299.6L415.5 299.4L417 302.8L418.6 305.1L420.5 308.3L423.7 310.6L426.1 314.5L423.9 314.3L421.7 314L419.2 314.5L417.3 315L415.5 315.6L412.5 316.6L410.2 316.4L407.7 314.5L405.6 316.6L405.8 318.7L403.5 318.6L401.2 318.4L400.3 322.1L398.7 320Z"/>
<path fill="#a6bddb" d="M382.8 315.8L382.6 318.7L385.6 321.8L389 322.1L391.2 322L393.4 321.8L396.4 322.1L398.4 322.1L400.3 322.1L398.7 320L396.6 316.9L397.5 314.8L396.1 312.2L398.6 308.3L397.9 305.6L395.1 303L397.7 301.7L397.5 299.1L396.4 296L395.5 293.6L394.1 292.1L395 295.2L394.2 299.1L393.5 301.2L392.4 305.1L390.6 308L388.3 310.6L386 309.6L384.8 311.1L383.2 313.5Z"/>
<path fill="#a6bddb" d="M385.6 321.8L389 322.1L389 325.2L386.8 325.2L384.5 325.2L383.7 323.9Z"/>
<path fill="#a6bddb" d="M384.5 325.2L386.8 325.2L389 325.2L389 322.1L391.2 322L393.4 321.8L393.6 322.1L393.4 324.7L395.7 324.4L396.4 327.8L395.3 330.5L396.2 333.1L394.1 334.1L391.8 333.1L389.7 335.4L388.6 338.2L386.2 336.5L383.8 334.8L381.4 333.1L381.8 330.5L382.2 327.8L382.6 325.2Z"/>
<path fill="#a6bddb" d="M388.6 338.2L390.3 340.4L391.1 340.9L392 341.2L392.5 339.3L394.1 340.4L396.4 339.6L398.2 339.1L399.6 338.3L399.9 334.4L401 331.8L403.8 327.8L404.1 325.2L404.5 322.6L405.8 318.7L403.5 318.6L401.2 318.4L400.3 322.1L398.4 322.1L396.4 322.1L393.6 322.1L393.4 324.7L395.7 324.4L396.4 327.8L395.3 330.5L396.2 333.1L394.1 334.1L391.8 333.1L389.7 335.4Z"/>
<path fill="#a6bddb" d="M389.7 372.9L387.8 369.9L385.8 367L386.2 363.7L386.5 360.3L386.9 356.9L387.3 353.6L387.6 350.2L388 346.9L388.3 343.5L391.3 343.8L392.9 343.2L395.4 343.2L398 343.2L400.5 343.2L401.2 346.1L403.2 349L405.4 348.9L407.6 348.7L407.8 346.1L410.5 346.5L413.1 346.9L413.1 349.8L413.1 352.6L413.5 354.7L413.9 356.8L415.9 356.6L417.8 356.3L418 358.9L415.7 360.4L413.3 361.8L413.3 364.6L413.2 367.4L413.1 370.1L416.2 373.8L413.2 374.2L410.3 374.6L407.7 373.9L405.1 373.3L401.8 373.3L398.6 373.3L395.3 373.3L393.5 372.2L391.6 372.6Z"/>
<path fill="#a6bddb" d="M413.3 361.8L415.7 360.4L418 358.9L421 357.1L422.6 358.9L425.3 358.1L428 360.5L429.3 362.8L431.2 362.8L431.3 359.7L428.4 356.6L428.7 353.3L429 350L431.3 349.8L433.6 349.5L434.2 350.3L436.5 351.3L438.6 352.4L439.5 352.6L438.7 355.8L439 358.1L439.3 360.5L437.8 363.4L437.7 364.4L435 366.5L432.3 368.6L429.1 369.6L426.8 371.7L424.4 374.6L422.4 374.5L420.5 374.3L417.6 373.5L416.2 373.8L413.1 370.1L413.2 367.4L413.3 364.6Z"/>
<path fill="#a6bddb" d="M439.5 352.6L441.8 353.2L442 355.3L442.3 357.3L442.3 359.2L442.6 363.1L443.7 365.4L444.2 367.8L444.8 370.1L443.3 372.5L442.5 370.4L441.7 368.3L441.8 366L439.1 364.4L437.8 363.4L439.3 360.5L439 358.1L438.7 355.8Z"/>
<path fill="#74a9cf" d="M455.8 355.1L457.1 354L457.5 357.1L457.8 360.2L458.1 363.4L458.5 366.5L458.8 369.6L456.6 373.4L454.4 377.1L452.3 380.8L450.1 384.5L447.9 388.3L445.8 392L443.6 395.7L441.2 396.5L438.9 397.2L436.5 398L434.7 398L434.6 395.6L434.6 393.4L434.7 391.3L434.1 388.8L433.6 386.3L436.2 383.5L436.9 381.4L437.6 379.3L437.2 376.9L438.1 373.5L437.9 371.4L435.8 370.4L433.7 369.4L432.3 368.6L435 366.5L437.7 364.4L439.1 364.4L441.8 366L441.7 368.3L442.5 370.4L443.3 372.5L444.8 370.1L444.2 367.8L443.7 365.4L442.6 363.1L442.3 359.2L442.3 357.3L443.2 358.1L446.1 358.1L449 358.1L452.4 357.1Z"/>
<path fill="#045a8d" d="M420.5 374.3L422.4 374.5L424.4 374.6L426.8 371.7L429.1 369.6L432.3 368.6L433.7 369.4L435.8 370.4L437.9 371.4L438.1 373.5L437.2 376.9L437.6 379.3L436.9 381.4L436.2 383.5L433.6 386.3L431.5 386.1L429.3 385.8L428.4 385.8L426.2 384.2L424.8 381.4L422.4 379L421.4 376.7Z"/>
<path fill="#a6bddb" d="M408.4 375.6L410.7 375.6L413.4 375.2L416.2 374.8L417.6 373.5L420.5 374.3L421.4 376.7L422.4 379L424.8 381.4L426.2 384.2L428.4 385.8L426.1 386.9L424.7 389.3L423.2 391.8L420.1 394.9L417.9 394.7L415.7 394.4L413.4 395.7L411.4 396.9L409.5 398.1L408.8 397.8L408.3 395.2L407.9 392.6L408 388.9L408.1 385.3L408.2 382.1L408.3 378.8Z"/>
<path fill="#a6bddb" d="M389.7 372.9L391.6 372.6L393.5 372.2L395.3 373.3L398.6 373.3L401.8 373.3L405.1 373.3L407.7 373.9L410.3 374.6L413.2 374.2L416.2 373.8L417.6 373.5L416.2 374.8L413.4 375.2L410.7 375.6L408.4 375.6L408.3 378.8L408.2 382.1L408.1 385.3L408 388.9L407.9 392.6L407.8 395.7L407.6 398.9L407.5 402L405.2 403.3L401.9 402.8L399.6 402.5L396.9 400.4L394.3 398.3L393.4 395L392.5 391.6L391.6 388.3L390.7 384.9L389.8 381.6L388.9 378.2L388 374.8Z"/>
<path fill="#2b8cbe" d="M399.6 402.5L401.9 402.8L405.2 403.3L407.5 402L407.6 398.9L407.8 395.7L407.9 392.6L408.3 395.2L408.8 397.8L409.5 398.1L411.4 396.9L413.4 395.7L415.7 394.4L417.9 394.7L420.1 394.9L423.2 391.8L424.7 389.3L426.1 386.9L428.4 385.8L429.3 385.8L431.5 386.1L433.6 386.3L434.1 388.8L434.7 391.3L434.6 393.4L434.6 395.6L434.7 398L436.5 398L438.9 398.3L437.2 401.8L435.4 405.3L433.6 408.8L430.8 410.9L427.9 413L425.1 415.1L422.3 417.1L419.5 419.2L416.6 419.5L413.7 419.7L410.8 419.9L407.9 420.1L404.9 420.3L402 420.5L400.9 417.1L399.8 413.8L398.7 410.4L397.5 407L396.3 403.6Z"/>
<path fill="#045a8d" d="M422.8 405.1L423.8 407.5L425.5 407.7L427.7 405.9L428.2 404.3L427 403L425.2 403.3L423.8 404.3Z"/>
<path fill="#045a8d" d="M431.9 396.8L433.3 395.2L434.6 395.7L434.7 397.8L434 399.1L432.2 398.9Z"/>
<path fill="#a6bddb" d="M459.3 395.7L462.2 395.7L465.2 395.7L468.2 395.7L471.2 395.7L474.2 395.7L477.2 395.7L477.5 392.2L477.8 388.6L478.1 385.1L478.4 381.5L478.7 377.9L478.9 374.4L479.2 370.8L479.4 367.2L479.6 363.7L479.8 360.1L480 356.6L476.9 356.6L473.9 356.6L470.8 356.6L467.7 356.6L464.7 356.6L461.6 356.6L461.5 360.1L461.3 363.7L461.2 367.2L461 370.8L460.8 374.4L460.5 377.9L460.3 381.5L460.1 385.1L459.8 388.6L459.6 392.2Z"/>
<path fill="#a6bddb" d="M325.4 285.9L328.2 285.2L331.1 284.5L333.8 287.9L335.1 289.5L336.7 293.4L336.9 295.5L335.3 295.5L333.4 295.2L331.6 294.9L329.3 295.1L327 295.3L324.7 295.5L322.9 295.2L322.4 291.9L321.9 288.7L324.2 284.8Z"/>
<path fill="#d0d1e6" d="M324.1 292.3L327.5 292.3L329.5 292.3L331.4 292.3L331.4 293.1L329.5 293.1L327.5 293.1L324.1 293.4Z"/>
<path fill="#a6bddb" d="M324.7 295.5L327 295.3L329.3 295.1L331.6 294.9L331.6 296.5L331.6 297.8L328.6 299.4L326.3 299.3L324 299.1Z"/>
<path fill="#d0d1e6" d="M328.6 299.4L331.6 297.8L331.6 294.9L333.4 295.2L335.3 295.5L336.9 295.5L338.7 296.8L341.2 296L342.8 297L343.9 299.1L344.6 301.5L344.7 303.6L344.8 305.6L344.1 308L343.4 308.3L341.4 308.3L339.3 305.6L338.6 303.6L337.3 301.7L335 302L332.4 304.2L330.8 304.3L327.4 300.4Z"/>
<path fill="#d0d1e6" d="M332.4 304.2L335 302L337.3 301.7L338.6 303.6L339.3 305.6L337.9 307.7L336.5 309.8L333.1 310.9L331.9 308.3L330.8 305.6Z"/>
<path fill="#d0d1e6" d="M336.5 309.8L337.9 307.7L339.3 305.6L341.4 308.3L343.4 308.3L344.1 308L343.2 310.9L344.4 313.7L345.7 316.5L345.7 318.7L343.1 317.1L340.5 315.4L337.9 313.8L335.4 312.2Z"/>
<path fill="#a6bddb" d="M345.7 316.5L344.4 313.7L343.2 310.9L344.1 308L344.8 305.6L344.7 303.6L344.6 301.5L346.9 301.2L348.8 300.4L350.4 300.7L352.2 302.5L354.7 302L356.8 303L357.2 306.4L356.4 308.7L355.6 310.9L355.8 314.5L356.1 317.4L353.5 317.7L350.9 318.1L348.3 318.4L345.7 318.7Z"/>
<path fill="#d0d1e6" d="M355.8 314.5L355.6 310.9L356.4 308.7L357.2 306.4L356.8 303L356.6 299.1L359.2 299.1L361.8 299.1L363 298.9L363.4 300.4L363.8 303L364.1 305.6L364.4 309.6L365.7 311.9L365.5 314.7L365.3 317.4L362.2 317.4L359.1 317.4L356.1 317.4Z"/>
<path fill="#74a9cf" d="M365.7 311.9L366.8 311.7L366.7 308L366.7 304.3L366.2 303.6L364.8 300.4L365 299.1L363 298.9L363.4 300.4L363.8 303L364.1 305.6L364.4 309.6L365.7 313.5L366.9 313.5Z"/>
<path fill="#a6bddb" d="M366.8 311.7L369.2 311.2L369.2 309.1L369.2 307L371.3 303L371.2 300.9L371.2 297.3L368.5 296.8L366.4 298.3L365 299.1L364.8 300.4L366.2 303.6L366.7 304.3L366.7 307.4L366.8 310.4L366.9 313.5L369.2 313.5Z"/>
<path fill="#74a9cf" d="M350.4 300.7L351.1 298.1L353.1 294.7L352.9 293.9L356.1 292.3L358.4 290.8L359.6 290L361.4 288.4L363.4 288.9L363.9 291.3L365.3 293.9L367.8 294.7L368.5 296.8L366.4 298.3L365 299.1L363 298.9L361.8 299.1L359.2 299.1L356.6 299.1L356.8 303L354.7 302L352.2 302.5Z"/>
<path fill="#d0d1e6" d="M369.2 311.2L369.2 309.1L369.2 307L371.3 303L371.2 300.9L371.2 297.3L371.8 294.9L372.4 292.6L375.3 291.5L378.5 293.6L380.8 293L383.6 294.4L385.4 293.8L387.2 293.1L389.2 293.4L391.1 293.6L394.1 292.1L395 295.2L394.2 299.1L393.5 301.2L392.4 305.1L390.6 308L388.3 310.6L386 309.6L384.8 311.1L383.2 313.5L382.8 315.8L382.6 318.7L379.2 317.4L375.9 316.1L372.5 314.8L369.2 313.5Z"/>
<path fill="#74a9cf" d="M400.6 187L400.3 184.8L402.4 184.3L404.6 183.8L406.7 183.3L408.8 182.8L410.2 180L411.6 177.2L413 174.4L415.2 172L413 168.7L410.7 165.5L408.5 162.3L406.3 159.1L407.4 156.1L408.4 153.2L409.4 150.2L411.2 148.8L413 147.3L414.7 145.9L416.7 144.6L418.6 143.3L420.4 141.9L422.2 140.6L424 139.4L425.7 138.1L427.3 136.8L428.9 135.6L430.4 134.3L431.9 133.1L433.3 131.9L434.7 130.8L436 129.7L437.3 128.6L438.6 127.5L439.9 126.5L441.1 125.5L442.3 124.6L443.4 123.7L445.4 123.7L447.4 123.7L449.4 123.7L451.4 123.7L453.4 123.7L455.4 123.7L457.4 123.7L459.3 123.7L461.3 123.7L463.3 123.7L465.3 123.7L467.3 123.7L469.3 123.7L471.3 123.7L473.3 123.7L475.2 123.7L477.2 123.7L479.2 123.7L481.2 123.7L483.2 123.7L485.2 123.7L487.2 123.7L489.1 123.7L491.1 123.7L493.1 123.7L495.1 123.7L497.1 123.7L499.1 123.7L501.1 123.7L503.1 123.7L505 123.7L507 123.7L509 123.7L511 123.7L513 123.7L515 123.7L517 123.7L519 123.7L520.9 123.7L522.9 123.7L524.9 123.7L526.9 123.7L528.9 123.7L530.9 123.7L532.9 123.7L534.8 123.7L536.8 123.7L538.8 123.7L540.8 123.7L542.8 123.7L544.8 123.7L546.8 123.7L548.8 123.7L550.7 123.7L552.7 123.7L554.7 123.7L556.7 123.7L558.7 123.7L560.7 123.7L562.7 123.7L564.6 123.7L566.6 123.7L568.6 123.7L570.6 123.7L572.6 123.7L574.6 123.7L576.6 123.7L578.6 123.7L580.5 123.7L582.5 123.7L584.5 123.7L586.5 123.7L588.5 123.7L590.5 123.7L592.5 123.7L594.5 123.7L596.4 123.7L598.4 123.7L600.4 123.7L602.4 123.7L604.4 123.7L610.1 125.8L616 128.1L622.2 130.5L628.4 133.2L634.6 135.9L640.7 138.8L646.5 141.7L652 144.7L657.2 147.8L662.3 150.8L667.3 154L672.2 157.2L677 160.4L681.7 163.7L682.4 166.1L683 168.4L683.6 170.8L684 173.2L684.4 175.6L684.6 178L684.8 180.4L686.6 183.9L688.3 187.4L689.8 191L691.1 194.6L692.2 198.2L693.1 201.8L693.8 205.4L692 206.5L690.1 207.7L688.3 208.8L686.4 210L684.5 211.1L682.6 212.2L680.6 213.4L678.7 214.5L676.7 215.7L673.3 214.6L669.9 213.6L666.5 212.6L663.1 211.6L659.8 210.5L656.4 209.5L653 208.5L651.9 210.4L650.7 212.4L649.5 214.3L648.2 216.3L646.9 218.3L644.4 218.1L641.8 217.9L639.3 217.7L637.4 217.5L634.1 216.6L630.7 215.7L627.1 214.4L623.6 213.1L620.1 211.8L616.6 210.5L613 209.3L609.5 208L606.7 208L603.9 208L601.1 208L598.3 208L595.5 208L592.7 208L589.9 208L587.1 208L584.3 208L581.5 208L578.7 208L575.9 208L573.1 208L570.3 208L567.5 208L564.7 208L561.9 208L559.1 208L556.3 208L553.5 208L550.7 208L547.9 208L545.6 208.6L543.3 209.3L541 209.9L538.7 210.5L535.9 210.5L533.1 210.5L530.2 210.5L527.4 210.5L524.6 210.5L521.8 210.5L519 210.5L516.1 210.5L513.3 210.5L510.5 210.5L507.7 210.5L504.7 210.5L501.8 210.5L498.8 210.5L495.9 210.5L492.9 210.5L490 210.5L487 210.5L484.7 211L482.3 211.6L480 212.1L477.6 212.6L475.3 213.1L473.1 214.4L470.9 215.7L468.7 217L466.5 218.3L464.2 219.6L462 219.1L459.8 218.7L457.6 218.3L454.9 217.6L452.1 217L449.4 216.3L446.6 215.7L444.3 214.4L442 213.1L439.7 211.8L440.3 209.3L440.8 206.7L440.1 202.9L437.2 201.3L434.4 199.7L431.6 198.1L428.8 196.5L426.6 195.3L424.4 194L422.2 192.8L419.3 191.5L416.5 190.3L413.7 189L411 188.8L408.4 188.5L405.8 188.3L403.2 187.7Z"/>
<path fill="#74a9cf" d="M44.3 163.7L48.7 160.7L53.1 157.6L57.7 154.6L62.3 151.7L67 148.8L71.8 145.9L74 145.9L76.2 145.9L78.3 145.9L80.5 145.9L82.6 145.9L84.8 145.9L86.9 145.9L89.1 145.9L91.3 145.9L86.7 148.8L82.3 151.7L78 154.6L73.8 157.6L69.6 160.7L65.5 163.7L63.2 163.7L60.8 163.7L58.4 163.7L56.1 163.7L53.7 163.7L51.4 163.7L49 163.7L46.6 163.7Z"/>
<path fill="#74a9cf" d="M463.4 206.7L460.5 203.4L457 201.6L457.6 199.8L457 199.1L458.7 196.5L460.8 195.1L462.9 193.8L464.9 193.9L466.9 194L469.7 194.9L472.5 195.8L474.4 195.5L476.3 195.3L478.9 195.8L481.6 196.3L483.1 195.8L484.6 195.3L483.5 192.8L482.4 190.3L483.4 187.8L485.1 187.3L486.9 186.8L488.6 186.3L490.3 185.7L492 185.1L493.6 184.6L495.8 184.3L497.4 184.4L499 184.6L501 187.3L502.9 187.5L504.7 187.8L506.3 189L508.3 188L510.2 187L512.7 188.3L515.1 189.5L518.4 192.1L521.8 194.8L524.5 195.3L527.2 195.8L528.9 195.3L533.1 197.8L535.5 198.9L537.8 200.1L538.8 199.9L538 201.3L537.8 203.4L537.6 205.4L534.9 205.2L532.3 204.9L532.4 207.1L532.6 209.3L530.4 210L528.2 210.8L529.8 213.4L531.4 215.9L531.6 218L528.4 216.2L526.2 216L524.1 215.9L521.9 215.7L519.8 215.4L517.6 215.2L515.6 215.5L513.6 215.9L511.6 216.2L511.9 217.5L510.2 218.6L508.6 219.8L506.8 220.8L502.8 218.3L501.1 215.9L498.2 213.9L495.2 214.1L492.3 214.4L489.5 211.8L486.5 210.5L483.5 209.3L481.1 209.9L478.7 210.5L479.6 213.7L480.4 216.9L481.2 220.1L477.5 217.7L475.8 218.3L474.2 218.8L470.8 217.2L467.6 215.7L465.9 213.1L464.3 210.5Z"/>
<path fill="#74a9cf" d="M538.8 199.9L539.7 198.2L540.5 196.5L542.4 196.4L544.3 196.2L546.2 196L549.2 196.9L552.2 197.8L554.2 198L556.3 198.1L558.4 198.3L558.9 196.5L557 194L558.9 193.8L560.7 193.5L563 194L565.3 194.5L567.7 197L570.2 196.9L572.6 196.8L575.1 197.7L577.7 198.6L580.2 199.6L582.8 199.7L585.4 199.8L587.2 199L589.1 198.1L590.9 197.3L593.9 197.8L596.9 198.3L597.2 200.6L597.3 202.9L600 203.1L602.7 203.4L604.9 204.1L607.1 204.9L608.2 206.4L605.4 206.6L602.6 206.7L602.1 209.3L600.3 209.9L598.6 210.5L597.3 212.2L595.9 213.9L594.7 217L592.7 217.1L590.6 217.1L588.6 217.2L586.5 218.3L584.3 219.3L581.4 218.6L578.4 218L575.5 217.4L572.6 216.7L570.1 216.6L567.6 216.5L565.2 216.5L561.5 212.8L558.9 211.8L556.4 210.8L553.5 210.3L550.5 209.8L549.4 206.7L545.8 203.4L543.4 202.5L541 201.6Z"/>
<path fill="#d0d1e6" d="M627.5 223.8L628.5 221.9L629.4 220.8L630.8 219.6L633.5 219.8L632.2 218.3L634 217.7L635.2 217.2L637.1 217.2L637.3 216.2L636.6 214.4L634.1 211L636.9 210.5L638 210.3L638.1 208L636.7 204.9L636.2 201.8L634.3 202.1L632.5 202.4L629.3 201.5L626.2 200.6L623.5 199.6L620.9 198.7L618.2 197.8L614.2 194.3L610 190.8L606.9 189.9L603.8 189L601.3 189.3L598.9 189.5L599.8 192L600.8 194.5L601.7 197L600.7 198L599.6 199.1L596.9 198.3L597.2 200.6L597.3 202.9L600 203.1L602.7 203.4L604.9 204.1L607.1 204.9L608.2 206.4L605.4 206.6L602.6 206.7L602.1 209.3L600.3 209.9L598.6 210.5L597.3 212.2L595.9 213.9L594.7 217L592.7 217.1L590.6 217.1L588.6 217.2L586.5 218.3L584.3 219.3L581.4 218.6L578.4 218L575.5 217.4L572.6 216.7L570.1 216.6L567.6 216.5L565.2 216.5L561.5 212.8L558.9 211.8L556.4 210.8L553.5 210.3L550.5 209.8L549.4 206.7L545.8 203.4L543.4 202.5L541 201.6L538.8 199.9L538 201.3L537.8 203.4L537.6 205.4L534.9 205.2L532.3 204.9L532.4 207.1L532.6 209.3L530.4 210L528.2 210.8L529.8 213.4L531.4 215.9L531.6 218L530.1 218.8L528.5 219.6L527 220.2L525.4 220.8L523 221.9L521.4 223.3L519.8 224.7L522.4 227.1L524.4 230.2L524.3 230.7L526 232L530 234.9L531.8 235.2L535.2 238.3L535.7 241.7L535.8 243L538.4 246.9L542.2 249L544.4 248.7L548.3 251.3L552.1 253.4L555.7 254.7L557.5 254.9L559.3 255L560.7 254.5L562.2 254.2L564.5 254.6L566.9 255L568.3 255.3L569.1 255L571.6 251.6L575 251.6L577.7 253.7L579.8 254.2L582.7 256L583.4 258.1L584 260.2L582.3 263.1L585.4 265.2L587.2 268L589.5 269.9L591.7 271.7L592.5 269.6L593.5 269.1L595.3 268.8L598.6 268.3L601.4 267.8L603.5 268.3L603.3 269.9L605.6 271.2L607 271.6L607.3 273.6L607.7 275.6L608.1 278.2L608.5 280.8L611.2 281L613.8 281.2L616.5 281.4L616 277.8L615.4 274.3L618.3 273L621.1 271.7L624 270.4L626.9 269.1L629.2 266.5L631.5 263.9L631.7 261.3L631.8 258.6L633.1 255.6L634.2 252.6L635.3 249.5L634.4 246.9L633.5 244.3L632.5 241.7L631.4 238.7L630.2 235.8L628.9 232.9L627.6 229.9L627.6 226.9Z"/>
<path fill="#d0d1e6" d="M627.5 223.8L628.5 221.9L629.4 220.8L630.8 219.6L633.5 219.8L632.2 218.3L634 217.7L635.2 217.2L637.1 217.2L637.4 217.5L638.5 218.3L638.4 220.8L638.3 223.4L637.7 227.1L636.3 227.9L635.6 228.6L635 229.3L632.4 229.6L629.7 229.9L628.5 227.2L627.1 224.5Z"/>
<path fill="#2b8cbe" d="M635 229.3L635.6 228.6L636.3 227.9L637.7 227.1L640.5 229.2L643.3 231.2L644.2 234.5L645.1 237.8L642.8 238.4L640.6 239L638.3 239.6L636.5 236.7L634.7 233.8L634.3 231.8L633.9 229.7Z"/>
<path fill="#a6bddb" d="M648.1 246.9L646.8 243.5L645.5 240.1L647.2 237.5L648.8 234.7L650.3 232L651.7 229.2L653 226.5L654.2 223.7L655.4 221L656.4 218.3L655.1 215.2L653.8 212.1L652.4 209L654.1 209L655.9 209L659.4 210.4L663 211.7L666.6 213.1L669.2 217L670.1 220.2L670.9 223.4L671.5 226.7L672 229.9L672.5 233.2L672.8 236.5L670.5 237.5L668.2 238.5L665.8 239.6L663.4 240.6L661 241.7L659.1 243.1L657.3 244.5L655.3 246L653.4 247.4L650.8 247.2Z"/>
<path fill="url(#hatch)" stroke="#cfcfcf" d="M633.7 271.7L633 268.1L632.3 264.6L631.5 261L634.3 261L637.1 261L637.9 264.6L638.7 268.1L639.3 271.7L636.5 271.7Z"/>
<path fill="#d0d1e6" d="M474.2 218.8L475.8 218.3L477.5 217.7L481.2 220.1L483.3 220.1L485.6 216.7L489.2 218.3L490.8 220.3L493.5 220.3L495.8 223.4L498.3 224.7L500.8 226L504.3 227.3L506.1 230.2L504.2 230.5L502.5 233.1L499.5 234.1L497.5 235.2L495.7 234.9L495.2 232.3L492.3 231.2L488.8 229.7L485.2 228.1L482.1 228.6L480.6 229.4L479 230.2L476.5 228.1L474.1 226L473.5 223.4L472.9 220.8Z"/>
<path fill="#d0d1e6" d="M481.2 220.1L480.4 216.9L479.6 213.7L478.7 210.5L481.1 209.9L483.5 209.3L486.5 210.5L489.5 211.8L492.3 214.4L495.2 214.1L498.2 213.9L501.1 215.9L502.8 218.3L506.8 220.8L508.6 219.8L510.2 218.6L511.9 217.5L513.7 219.3L515.7 220.2L517.6 221.1L516.2 222L514.8 222.9L512.7 222.9L512.1 221.1L510 221.1L509.5 222.9L509 224.7L507.6 226L509.6 228.6L509 230.7L506.1 230.2L504.3 227.3L500.8 226L498.3 224.7L495.8 223.4L493.5 220.3L490.8 220.3L489.2 218.3L485.6 216.7L483.3 220.1Z"/>
<path fill="#d0d1e6" d="M511.9 217.5L511.6 216.2L513.6 215.9L515.6 215.5L517.6 215.2L519.8 215.4L521.9 215.7L524.1 215.9L526.2 216L528.4 216.2L531.6 218L530.1 218.8L528.5 219.6L527 220.2L525.4 220.8L523 221.9L521.4 223.3L519.8 224.7L518.2 224.9L516.5 225L514.3 224.7L512.1 224.5L510.5 224.2L512.7 222.9L514.8 222.9L516.2 222L517.6 221.1L515.7 220.2L513.7 219.3Z"/>
<path fill="#f1eef6" d="M509 230.7L509.6 228.6L507.6 226L509 224.7L509.5 222.9L510 221.1L512.1 221.1L512.7 222.9L510.5 224.2L512.1 224.5L514.3 224.7L516.5 225L518.2 224.9L519.8 224.7L522.4 227.1L524.4 230.2L524.3 230.7L523.5 231L521.2 230.2L518.2 231.2L516.5 228.9L513.9 229.7L512.5 230.7L510.2 231.2Z"/>
<path fill="#d0d1e6" d="M495.7 234.9L495.4 237L495.1 239.1L496.4 241.7L496.5 245.6L499 245.9L498.4 247.9L497.8 249.9L499.7 250.5L501.6 251.1L504.9 250.8L507.4 250.3L509.8 249.8L509.8 246.9L511.7 245.6L513.6 245.1L515.5 244.5L516.4 241.7L515.6 239.1L518 238L518.1 235.2L517.5 232.5L520.5 231.8L523.6 231.2L524.3 230.7L523.5 231L521.2 230.2L518.2 231.2L516.5 228.9L513.9 229.7L512.5 230.7L510.2 231.2L509 230.7L506.1 230.2L504.2 230.5L502.5 233.1L499.5 234.1L497.5 235.2Z"/>
<path fill="#d0d1e6" d="M501.2 262L502.3 258.9L504.1 256.8L502.8 254.2L499.8 252.2L497.8 249.9L499.7 250.5L501.6 251.1L504.9 250.8L507.4 250.3L509.8 249.8L509.8 246.9L511.7 245.6L513.6 245.1L515.5 244.5L516.4 241.7L515.6 239.1L518 238L518.1 235.2L517.5 232.5L520.5 231.8L523.6 231.2L524.3 230.7L526 232L530 234.9L528.2 236.5L526.2 237L524.1 237.5L524.4 240.4L526.3 241.9L527.1 244.3L527.4 246.6L526.6 248.2L525.6 249.8L524.4 252.4L523.2 255L520.1 255L518.4 256.8L521.2 260.7L520.3 263.9L517.6 264.4L516.5 266.2L514 266.4L511.6 266.5L509 265.8L506.4 265.2L503.8 264.5L501.2 263.9Z"/>
<path fill="#a6bddb" d="M516.5 266.2L517.6 264.4L520.3 263.9L521.2 260.7L518.4 256.8L520.1 255L523.2 255L524.4 252.4L525.6 249.8L526.6 248.2L527.4 246.6L527.1 244.3L526.3 241.9L524.4 240.4L524.1 237.5L526.2 237L528.2 236.5L530 234.9L531.8 235.2L535.2 238.3L535.7 241.7L535.8 243L538.4 246.9L542.2 249L540.9 252.6L544.5 254.7L548.2 256.3L551.6 256.6L554 257.9L557.6 258.9L560.1 258.9L560 257.3L559.3 255L560.7 254.5L561.4 256.6L561.8 257.6L565.2 257.9L567 257.7L568.7 257.6L568.3 255.3L569.1 255L571.6 251.6L575 251.6L577.7 253.7L579.8 254.2L579.3 256L576.5 258.4L575.9 261.3L574.8 265.2L573.2 267.8L573.3 269.9L572.1 270.7L571.8 273.8L569.7 277.3L567.6 280.8L564.6 281.7L561.7 282.6L558.8 283.5L556.7 287.1L554.5 290.8L552.3 294.4L550.1 298.1L547.8 301.7L545.6 303L544.6 305.6L541.2 308.3L538 306.6L534.8 305L531.5 303.4L528.3 301.7L526.9 298.1L525.6 294.5L524.1 290.9L522.7 287.2L521.2 283.6L519.7 280L518.2 276.3L516.7 272.7L515.2 269.1Z"/>
<path fill="#a6bddb" d="M540.9 252.6L542.2 249L544.4 248.7L548.3 251.3L552.1 253.4L555.7 254.7L557.5 254.9L559.3 255L560 257.3L560.1 258.9L557.6 258.9L554 257.9L551.6 256.6L548.2 256.3L544.5 254.7Z"/>
<path fill="#d0d1e6" d="M561.2 256.6L562.2 254.2L564.5 254.6L566.9 255L568.3 255.3L568.7 257.6L567 257.7L565.2 257.9L561.8 257.6Z"/>
<path fill="#f1eef6" d="M564.2 271.2L563.7 269.1L563 267L561.9 264.4L560.7 263.6L561.3 262L561.2 258.9L564.1 260L564.6 261.8L567 262L569.4 262.3L570.4 264.4L569.8 266.2L570.5 266L571.3 268.3L572.1 270.7L571.8 273.8L569 274.3L566.6 273.7L564.3 273Z"/>
<path fill="#f1eef6" d="M571.8 273.8L572.1 270.7L573.3 269.9L573.2 267.8L574.8 265.2L575.9 261.3L576.5 258.4L579.3 256L579.8 254.2L582.7 256L583.4 258.1L584 260.2L582.3 263.1L585.4 265.2L587.2 268L589.5 269.9L591.7 271.7L589.6 274.7L587.2 276.4L584.7 276.9L584.2 279.5L585.2 282.1L587.5 285.3L587.4 287.9L589.3 290.8L590.8 294.7L590.4 297.8L589.4 301.7L586.8 301.7L584 298.5L581.1 295.2L578.3 291.9L575.3 288.7L574.1 285.4L572.8 282.1L571.6 278.9L570.3 275.6Z"/>
<path fill="#74a9cf" d="M589.6 274.7L591.1 276.9L592.4 276.9L592.5 279L592.6 281.1L594.8 280.8L597 280.1L599.5 281.4L601.4 283.5L603.9 286.8L604.1 290.5L601.8 290.4L599.5 290.2L597.5 292.3L597.3 295.2L598.9 297.4L598.1 299.1L594.3 295.2L593.5 298.5L592.6 301.7L594.7 304.7L596.8 307.7L598.9 310.6L598 311.7L595.8 313.2L593.5 311L591.6 310.3L589.6 309.6L587.8 305.6L589.4 301.7L590.4 297.8L590.8 294.7L589.3 290.8L587.4 287.9L587.5 285.3L585.2 282.1L584.2 279.5L584.7 276.9L587.2 276.4Z"/>
<path fill="#d0d1e6" d="M589.6 274.7L591.7 271.7L592.5 269.6L593.5 269.1L595.4 271.2L596.5 273.5L599.5 274.3L598.8 276.9L600.4 278.8L603 280.8L605.5 284L607.4 286.1L608.3 287.1L608.6 290L605.2 290.2L604.1 290.5L603.9 286.8L601.4 283.5L599.5 281.4L597 280.1L594.8 280.8L592.6 281.1L592.5 279L592.4 276.9L591.1 276.9Z"/>
<path fill="#d0d1e6" d="M593.5 269.1L595.3 268.8L598.6 268.3L601.4 267.8L603.5 268.3L603.3 269.9L605.6 271.2L607 271.6L608.4 273L607.9 275.6L607.4 278.2L606.9 280.8L609.3 283.5L611.8 286.1L614.2 288.7L614.2 291.6L614.3 294.6L614.3 297.5L614.3 300.4L611.8 302.2L609.4 304L606.9 305.7L604.5 307.5L602 304.3L602.7 300.6L603.9 299.4L606.6 299.1L606.9 297.3L609.3 295.7L609 292.9L608.6 290L608.3 287.1L607.4 286.1L605.5 284L603 280.8L600.4 278.8L598.8 276.9L599.5 274.3L596.5 273.5L595.4 271.2Z"/>
<path fill="#d0d1e6" d="M598.9 297.4L597.3 295.2L597.5 292.3L599.5 290.2L601.8 290.4L604.1 290.5L605.2 290.2L608.6 290L609 292.9L609.3 295.7L606.9 297.3L606.6 299.1L603.9 299.4L602.7 300.6L600.6 301.2L598.1 299.1Z"/>
<path fill="#d0d1e6" d="M593.5 311L595.8 313.2L598 311.7L598.9 310.6L600.5 313.6L602 316.6L603.6 319.6L605.1 322.6L604 325L601.2 324.7L598.6 322.7L596 320.7L593.5 318.7L593.2 316.1L593 313.5L592.7 310.9Z"/>
<path fill="#f1eef6" d="M457.6 225L458.4 224.2L458.8 224.2L461.3 226.3L463.3 225.5L465.8 227.3L467.7 227.6L470.8 231.2L473.7 231.2L476.5 231.2L479.4 231.2L479 230.2L480.6 229.4L482.1 228.6L485.2 228.1L488.8 229.7L492.3 231.2L495.2 232.3L495.7 234.9L495.4 237L495.1 239.1L496.4 241.7L496.5 245.6L499 245.9L498.4 247.9L497.8 249.9L499.8 252.2L502.8 254.2L504.1 256.8L502.3 258.9L501.2 262L501.2 263.9L498.6 263.5L496 263.2L493.5 262.9L490.9 262.6L489.3 258.6L486.6 259L483.8 259.4L481 257.4L478.2 255.4L475.3 253.4L473 251.5L470.6 249.6L469.1 248.2L468.3 246.9L467.1 243.2L464 241.7L462.1 239.1L462.2 236.7L462.2 234.4L460.2 232.3L459.5 230.7L457.9 228.9Z"/>
<path fill="#f1eef6" d="M470.6 249.6L469.3 249.6L469 249.5L467.4 250.8L466.2 251.9L464.2 251.7L462.2 251.6L458.9 249.1L455.6 246.6L452.4 245.2L449.1 243.8L448.7 243.5L447.9 240.6L450.1 239.3L452.3 238L452.4 235.2L453.4 233.1L454.4 231L456.9 230.8L459.5 230.7L460.2 232.3L462.2 234.4L462.2 236.7L462.1 239.1L464 241.7L467.1 243.2L468.3 246.9L469.1 248.2Z"/>
<path fill="#f1eef6" d="M440.8 234.1L441 234.1L442.4 233.3L442 231.8L445 231.8L447.1 231.8L449.3 231.8L451.8 231.4L454.4 231L453.4 233.1L452.4 235.2L452.3 238L450.1 239.3L447.9 240.6L444.9 241.5L442 242.5L441.5 242.2L441.5 240.6L442.3 237.5L441.3 237.4L440 235.2Z"/>
<path fill="#f1eef6" d="M439.9 241.4L440.5 239.3L441.3 237.4L442.3 237.5L441.5 240.6L440.9 240.9Z"/>
<path fill="#f1eef6" d="M438.4 246.1L438.5 246.4L439.3 248.5L440.4 250.8L440.5 250.7L441.1 246.9L441.2 245.6L440.9 243.2L441.1 242.5L441.5 242.2L440.9 240.9L439.9 241.4L438.6 241.7L437.7 245.6Z"/>
<path fill="#f1eef6" d="M440.5 251.2L440.6 250.8L441.1 246.9L441.2 245.6L440.9 243.2L441.1 242.5L442 242.5L444.9 241.5L447.9 240.6L448.7 243.5L449.1 243.8L446.8 244.7L444.5 245.6L447 248.2L443.9 250.8L442.2 251Z"/>
<path fill="#f1eef6" d="M440.5 251.2L442.2 251L443.9 250.8L447 248.2L444.5 245.6L446.8 244.7L449.1 243.8L452.4 245.2L455.6 246.6L458.9 249.1L462.2 251.6L464.2 251.7L466.2 251.9L468.6 253.4L470.6 253.3L472.6 254.7L474.5 256L476.5 259L478.5 262L477.1 263.2L479 264.5L480.2 267.8L482.6 268L485 268.3L487.4 268.6L488.7 270.4L488.2 273L487.6 275.6L485.4 276.5L483.2 277.4L481 278.2L478.7 278.6L476.5 278.9L474.3 279.3L471.1 283.2L468.8 282.7L465.8 282.4L463.1 282.4L461.5 282.1L460.9 284.2L460.4 285L457.5 283.5L454.6 280L451.8 276.5L448.9 273L447.4 269.6L445.8 266.2L444.2 262.8L442.7 259.4L441.1 256L440 254.5Z"/>
<path fill="#d0d1e6" d="M460.4 285L460.9 284.2L461.5 282.1L463.1 282.4L465.8 282.4L468.8 282.7L471.1 283.2L474.3 279.3L476.5 278.9L478.7 278.6L481 278.2L482.4 280.8L483.9 283.5L481.9 284.5L481.8 286.6L481.7 288.7L478.8 290.4L475.8 292.2L472.9 293.9L470.6 294.5L468.3 295.1L466.1 295.7L462.9 295.5L462.1 294.2L461.1 292.1L460.1 290L458.8 286.1Z"/>
<path fill="#f1eef6" d="M481.9 284.5L483.9 283.5L482.4 280.8L481 278.2L483.2 277.4L485.4 276.5L487.6 275.6L488.2 273L488.7 270.4L487.4 268.6L488.9 264.9L489.6 262.8L489.4 262.3L491 263.9L493.5 265.6L495.9 267.4L498.3 269.1L497.5 272L496.6 275L495.7 277.9L494.8 280.8L491.9 282.6L489 284.3L486.1 286.1L484 285.3Z"/>
<path fill="#f1eef6" d="M488.4 260.5L489 258.6L489.7 259.4L489.2 261Z"/>
<path fill="#f1eef6" d="M479 264.5L480.2 267.8L482.6 268L485 268.3L487.4 268.6L488.9 264.9L489.6 262.8L489.4 262.3L489.2 261L488.4 260.5L486.1 260L484 261L481.9 262L479.7 263.1Z"/>
<path fill="#f1eef6" d="M477.1 263.2L479 264.5L479.7 263.1L478.9 259.2L476.9 259.4L476.7 261.8Z"/>
<path fill="#f1eef6" d="M470.6 253.3L468.6 253.4L466.2 251.9L467.4 250.8L469 249.5L469.3 249.6L470.8 251.1Z"/>
<path fill="#f1eef6" d="M446.4 214.6L449.6 214.9L451.8 215.2L454.7 216.5L456.8 216.5L458.8 217L460.8 218.5L460.2 220.3L458 220.1L454.9 220.6L452.6 219.6L450.6 219.6L449.2 218.3L445.5 214.9Z"/>
<path fill="#f1eef6" d="M454.9 220.6L458 220.1L459.7 223.4L462.4 226.3L461.3 226.3L458.4 224.2L456.5 223.4L455.4 222.1Z"/>
<path fill="#f1eef6" d="M460.8 218.5L464 220.3L465.3 218.8L467.7 220.5L470.1 222.1L468.1 225L467.7 227.6L465.8 227.3L463.3 225.5L462.4 226.3L459.7 223.4L458 220.1L460.2 220.3Z"/>
<path fill="#f1eef6" d="M418.1 221.5L419.1 220.1L418.4 219L419.7 218L421.9 218.3L423.9 217.9L426 217.5L428.6 217.4L431.2 217.2L433.8 217.1L436.4 217L439.2 217.4L442 217.9L444.9 218.4L447.7 218.8L450.6 219.3L452.6 219.6L454.9 220.6L455.4 222.1L456.5 223.4L458.4 224.2L457.6 225L457.9 228.9L459.5 230.7L456.9 230.8L454.4 231L451.8 231.4L449.3 231.8L447.1 231.8L445 231.8L442 231.8L442.4 233.3L441 234.1L440.8 234.1L439.9 233.8L437.2 234.1L434.5 234.4L431.6 234.4L428.7 234.4L425.8 234.4L423 233.5L420.2 232.5L419.5 229.9L418.7 227.3L418 224.7L417.1 222.7Z"/>
<path fill="#f1eef6" d="M432.7 238L432.3 234.4L434.5 234.4L436.7 234.4L438.8 234.4L439.3 238L437.1 238L434.9 238Z"/>
<path fill="#a6bddb" d="M545.8 313L545.7 309.2L545.5 305.5L545.3 301.7L548.5 301.7L551.7 301.7L551.9 305.5L552.1 309.2L552.3 313L549 313Z"/>
<path fill="#74a9cf" d="M408.5 200.1L407.7 201.8L409.4 202.9L411.7 203L414.3 202.7L416.9 202.4L418.2 201.8L420.1 202.4L422.3 203.1L423.9 205.7L424.7 206.9L422.4 208L421.1 209.3L422.4 209.8L424.3 210L426.1 210.8L428.3 211.7L430.5 212.6L432.6 212.6L434.6 212.6L436.6 211.6L438.6 210.5L438.5 209.6L439.4 208L440.9 205.2L443.6 203.4L444 202.1L443.2 200.3L443.5 198.8L441.6 198.3L439.7 197.8L437.8 196.8L435.8 196.8L433.8 196.8L433.3 195.3L431 194.5L430.9 193.3L428.3 191.8L425.7 192.5L423.7 194.5L421.5 194.1L419.4 193.8L416.8 193.4L414.3 193L412.5 193.3L410.6 193.5L411 195.8L410.1 196.8L408.6 198.8Z"/>
<path fill="#a6bddb" d="M408.7 188L409.9 191L409.2 192L409.7 193.8L410.6 193.5L412.5 193.3L414.3 193L416.8 193.4L419.4 193.8L421.5 194.1L423.7 194.5L425.7 192.5L424.7 190.5L426.8 189.5L424.7 187.8L422.4 185.8L422.3 183.6L420.3 183.1L418.5 182.7L416.7 182.4L414.6 183.3L413.9 183.6L412.7 185.6L412.4 187L410.4 188Z"/>
<path fill="#a6bddb" d="M416.9 202.4L418.2 201.8L420.1 202.4L422.3 203.1L423.9 205.7L424.7 206.9L422.4 208L421.1 209.3L420.7 206.4L418.5 203.9Z"/>
<path fill="#a6bddb" d="M390.6 188L391.2 190.3L392 192.5L392.8 194.8L392.4 195.5L393.8 195.8L395.4 196L396 197.3L396.9 196.8L398.6 197.8L400.2 198L400.7 199.1L401.2 199.3L403.2 199.8L405.2 199.3L407.3 200.1L408.5 200.1L408.6 198.8L410.1 196.8L411 195.8L410.6 193.5L409.7 193.8L409.2 192L409.9 191L408.7 188L408.6 187.8L407.1 186.8L405 186.7L403 186.7L400.9 186.7L400.5 186.3L398.6 184.8L396.1 185.4L393.5 186L391 186.5Z"/>
<path fill="#74a9cf" d="M403.2 182.7L404.9 181.9L406.8 182L408.7 182.1L410.6 182.4L412.3 183L413.9 183.6L412.7 185.6L412.4 187L410.4 188L408.7 188L408.6 187.8L407.1 186.8L405.4 185.3L403.9 184.8L403.2 184.6L402.2 183.3L402.7 182.6Z"/>
<path fill="#a6bddb" d="M403.2 182.7L404.9 181.9L406.8 182L408.7 182.1L410.6 182.4L412.3 183L413.9 183.6L414.6 183.3L416.7 182.4L415.3 179.7L414.4 179.1L411.9 178.5L410.2 177.7L408.7 178.3L407.1 178.1L405.4 178L403.5 178.6L401.6 179.2L402.1 182.6Z"/>
<path fill="#a6bddb" d="M408.7 178.3L410.2 177.7L411.9 178.5L414.4 179.1L415.1 178.5L414.3 176.8L414.8 174.4L412.8 173.6L410.4 173.8L407.9 174L405.5 174.1L405.1 177.2L406.9 177.8Z"/>
<path fill="#a6bddb" d="M413.9 171.8L415.2 170.3L416.5 169.6L418.7 167.2L419.2 165.4L416.1 163.7L415.6 161.4L413.6 159.1L414.4 156.9L412.2 154.6L411.1 153.5L411.3 152.4L411.4 152.3L408.6 150.4L406.1 150.4L405.9 151.8L404.2 152.9L402.1 153.2L400.1 153.5L397.5 152.3L398.3 152.9L400.1 153.5L401.9 154.2L403.8 156.9L404.9 159.6L403.6 162.2L402.1 164.9L401.6 167.2L401.1 169.6L400.6 172L403.6 173.9L405.9 173.8L408.2 173.6L410.5 173.5L412.8 173.4Z"/>
<path fill="#a6bddb" d="M404.9 159.6L403.8 156.9L401.9 154.2L400.1 153.5L398.3 152.9L397.5 152.3L396.3 152.9L395 153.5L393.3 153.5L393.4 154.9L391.3 156.9L389.8 158.5L388.3 160.3L387.6 162.6L386.4 163.7L384.7 164.9L384.7 167.2L385.3 169.6L386.3 170.8L385.6 173.2L384.8 174.4L384.2 175.6L383.6 175.6L383.2 176.8L384.7 179.2L386.4 181.6L387.3 182.6L387.8 183.8L388 184.6L390.9 184.8L393.5 182.8L395.6 181.6L397.7 180.4L399.7 179.2L399.4 176.8L399.1 174.4L398.7 172L399.9 169.6L401 167.2L402.1 164.9L403.6 162.2Z"/>
<path fill="#a6bddb" d="M370.5 178L372.4 178.4L374.3 178.8L376.3 179.2L379 178L381.7 176.8L383.6 175.6L384.2 175.6L384.8 174.4L385.6 173.2L386.3 170.8L385.3 169.6L384.7 167.2L384.7 164.9L386.4 163.7L387.6 162.6L388.3 160.3L389.8 158.5L391.3 156.9L393.4 154.9L393.3 153.5L395 153.5L396.3 152.9L397.5 152.3L400.1 153.5L402.1 153.2L404.2 152.9L405.9 151.8L406.1 150.4L408.6 150.4L411.4 152.3L411.8 151.3L413 151L414.2 150.7L414.9 149.1L412.5 148.6L410.1 148.1L407.7 147.5L405.3 147L403.2 147.4L401 147.8L398.8 148.2L396.7 148.6L394.5 149L392.3 149.4L390.1 149.8L387.8 150.2L385.8 152.4L383.8 154.6L381.6 156.9L379.5 159.1L377.2 161.4L374.9 163.7L372.6 166.1L370.2 168.4L370.3 171.6L370.4 174.8Z"/>
<path fill="#a6bddb" d="M378.3 137.6L380.5 137.6L382.6 137.6L384.8 137.6L387 137.6L389.2 137.6L391.4 137.6L393.6 137.6L395.8 137.6L397.9 137.6L400.1 137.6L402.3 137.6L404.5 137.6L406.7 137.6L408.9 137.6L408 135.2L407.1 132.8L406.2 130.5L405.3 128.3L403.2 128.3L401.2 128.3L399.2 128.3L397.2 128.3L395.2 128.3L393.2 128.3L391.2 128.3L389.2 128.3L387.1 128.3L385.1 128.3L383.1 128.3L381.1 128.3L379.1 128.3L377.1 128.3L377.4 130.5L377.7 132.8L378 135.2Z"/>
<path fill="#d0d1e6" d="M379.7 185.5L382.1 185.8L384.3 186.5L385.8 186L387.3 185.6L387.2 183.8L386.9 182.6L385.3 180.4L383.2 178L380.7 178.8L378.1 179.7L378 181.9L377.9 184.1Z"/>
<path fill="#d0d1e6" d="M377 189.5L376.8 192.3L376.2 192.8L375 193.3L374.9 195.3L374.7 195.9L374.9 195.9L375.8 197L375.2 197.5L376 198.3L375.8 199.1L376.5 199.8L377.1 200.1L379.5 200.4L378.8 201.6L378.4 203.9L380.5 203.4L382.3 204.1L383.3 204.1L384.4 204.1L386.4 204.1L387.8 203.6L389.4 204.1L388.9 202.1L390.1 201.3L390.8 200.8L388.3 199.3L387.2 197.3L387.9 196.8L389.7 196L391.4 195.3L392.4 195.5L392.8 194.8L392 192.5L391.2 190.3L390.6 188L391 186.5L388.8 186.5L386.5 186.5L384.3 186.5L382.1 185.8L379.7 185.5L377.4 185.3L374.6 187.8Z"/>
<path fill="#d0d1e6" d="M369.7 194.3L371.5 194.1L372.9 194.1L374.5 194.9L374.7 195.9L374.9 195.3L375 193.3L376.2 192.8L376.8 192.3L377 189.5L374.6 187.8L372.7 188.4L370.8 189L369.9 191.4L368.9 193.8Z"/>
<path fill="#a6bddb" d="M368 195L369.4 196L371.4 197.9L373 198.3L374.6 199.1L374.5 197.5L375.2 197.5L375.8 197L374.9 195.9L374.7 195.9L374.5 194.9L372.9 194.1L371.5 194.1L369.7 194.3L368.7 194L367.9 194.8Z"/>
<path fill="#a6bddb" d="M374.6 199.1L375.8 199.1L376 198.3L375.2 197.5L374.5 197.5Z"/>
<path fill="#a6bddb" d="M359.3 214.7L360.1 215.7L363 216.5L364.4 216.2L365.9 216.7L366.8 217L368.4 217.2L369.6 217.2L370.3 217.2L373.5 216.5L376 215.4L378.6 214.4L378.6 213.7L379 212.8L377.3 212.1L377.4 210L377 208.5L375.5 207.5L375.7 206.4L376.8 204.6L378.2 204.1L378.4 203.9L378.8 201.6L379.5 200.4L377.1 200.1L376.5 199.8L375.8 199.1L374.6 199.1L373 198.3L371.4 197.9L369.4 196L368 195L366.9 194L365 196.5L362 197.8L359 197.8L356.6 199.1L354.2 200.3L351.9 201.6L354.3 204.8L356.8 208L357.8 210.5L358.8 213.1Z"/>
<path fill="#a6bddb" d="M380.3 215.2L383.5 215.2L383.6 217.6L383.7 220L380.5 220L380.4 217.6Z"/>
<path fill="#d0d1e6" d="M359.3 214.7L360.1 215.7L363 216.5L364.4 216.2L365.9 216.7L366.8 217L368.4 217.2L369.6 217.2L371.4 218.3L369.9 221.5L368.3 224.7L366.7 228L365.1 231.2L362.8 231.6L360.5 231.9L358.2 232.3L356 232.8L353.7 233.2L351.4 233.7L350.9 233.9L349.2 232.3L347 230.7L346.9 229.7L348 228.6L347.3 227.3L348 226L347 224.2L348.3 222.9L348.6 220.8L349.9 219.3L349.1 218.4L347.4 218.2L345.7 218L344.3 218.6L342.1 215.7L344.9 215.2L347.7 214.8L350.5 214.4L353.3 214L356 213.5L358.8 213.1Z"/>
<path fill="#d0d1e6" d="M347 230.7L346.9 229.7L348 228.6L347.3 227.3L348 226L347 224.2L348.3 222.9L348.6 220.8L349.9 219.3L349.1 218.4L347.4 218.2L345.7 218L344.3 218.6L342.5 219.7L340.8 220.8L341 224.3L341.2 227.8L341.4 231.2L344.2 231.5L347 231.8Z"/>
<path fill="#f1eef6" d="M378.6 213.7L379 212.8L377.3 212.1L377.4 210L377 208.5L379.2 208.2L380.2 206.9L381.5 208.5L382.5 207.2L383.7 207.5L384.5 206.4L385.5 205.9L387.9 205.2L389.6 206.4L391 206.7L390.5 207.5L391 208.5L391.3 208.9L390 209.3L388.8 210.5L392.1 213.1L394.3 215L396.5 217L399.9 220.5L403.2 224L402.5 226.9L401.7 229.9L399.1 231.4L396.5 232.8L394 233.2L391.5 233.5L389 233.8L387.7 229.9L385.2 229.1L382.6 228.2L380.1 227.3L380 223.7L379.9 220.1L381.7 220.1L383.5 220.1L384.4 217L381.7 213.1L378.6 214.1Z"/>
<path fill="#d0d1e6" d="M375.5 207.5L375.7 206.4L376.8 204.6L378.2 204.1L378.4 203.9L380.5 203.4L382.3 204.1L382.6 205.2L384.4 205.7L384.5 206.4L383.7 207.5L382.5 207.2L381.5 208.5L380.2 206.9L379.2 208.2L377 208.5Z"/>
<path fill="#a6bddb" d="M387.2 197.3L387.9 196.8L389.7 196L391.4 195.3L392.4 195.5L393.8 195.8L395.4 196L396 197.3L396.9 196.8L398.6 197.8L400.2 198L400.7 199.1L398.9 200.6L397.3 201.3L395.3 201L393.2 200.3L392.7 201.3L390.8 200.8L388.3 199.3Z"/>
<path fill="#a6bddb" d="M382.3 204.1L382.6 205.2L384.4 205.7L385.5 205.9L387.9 205.2L389.6 206.4L391 206.7L392.7 206.9L393.7 206.4L395.7 206.2L396.7 205.4L396.4 204.1L397.7 202.9L397.3 201.3L395.3 201L393.2 200.3L392.7 201.3L390.8 200.8L390.1 201.3L388.9 202.1L389.4 204.1L387.8 203.6L386.4 204.1L384.4 204.1L383.3 204.1Z"/>
<path fill="#d0d1e6" d="M397.3 201.3L398.9 200.6L400.7 199.1L401.2 199.3L403.2 199.8L405.2 199.3L407.3 200.1L408.5 200.1L407.7 201.8L405.5 201.6L403.5 202.4L401.2 203.4L399.2 203.5L397.7 202.9Z"/>
<path fill="#a6bddb" d="M395.7 206.2L396.7 205.4L396.4 204.1L397.7 202.9L399.2 203.5L401.2 203.4L403.5 202.4L405.5 201.6L407.7 201.8L409.4 202.9L407.8 204.1L406.4 206.9L404.7 207.7L403.2 207.5L401.8 208.2L398.9 208.1L397 206.7Z"/>
<path fill="#a6bddb" d="M391 206.7L392.7 206.9L393.7 206.4L395.7 206.2L397 206.7L395.2 207.5L394.9 208.5L394.3 209.4L392.9 209.3L391 209.3L391.3 208.9L391 208.5L390.5 207.5Z"/>
<path fill="#a6bddb" d="M391 209.3L392.9 209.3L394.3 209.4L394.9 208.5L395.2 207.5L397 206.7L398.9 208.1L401.8 208.2L403 210L402.3 210.8L400.2 210.3L397 210L395.6 210.5L395.7 211.8L397.3 213.4L399.6 215.4L401.8 217.1L400.8 217.5L398.6 216.5L396.4 215.4L394.3 214.4L390.9 211.3L390.9 210Z"/>
<path fill="#d0d1e6" d="M395.6 210.5L397 210L400.2 210.3L402.3 210.8L403.3 212.6L403.8 214.1L403 214.4L402 214.9L401.8 217.1L399.6 215.4L397.3 213.4L395.7 211.8Z"/>
<path fill="#d0d1e6" d="M401.8 208.2L403.2 207.5L404.7 207.7L406.2 208.7L407.4 210L409.6 211.6L410.1 212.6L409.7 214.4L410.1 216.2L410 217.5L408.2 217.7L406.3 218.5L405.1 216.7L404 215.4L403 214.4L403.8 214.1L403.3 212.6L402.3 210.8L403 210Z"/>
<path fill="#d0d1e6" d="M401.8 217.1L402 214.9L403 214.4L404 215.4L405.1 216.7L404.3 216.7L403.8 218.5L402.5 218.3Z"/>
<path fill="#d0d1e6" d="M405.1 216.7L406.3 218.5L408.2 217.7L408.2 216.5L406.9 215.2L405.9 215.7Z"/>
<path fill="#f1eef6" d="M403.8 218.5L404.3 216.7L405.1 216.7L406.3 218.5L406.3 220.6L407.5 221.9L406.8 223.4L405.6 224.2L403.4 223.4L403.2 221.1L403 218.8Z"/>
<path fill="#f1eef6" d="M406.3 218.5L408.2 217.7L410 217.5L411.3 219.6L411.3 220.1L409.5 220.6L407.5 221.9L406.3 220.6Z"/>
<path fill="#f1eef6" d="M405.6 224.2L406.8 223.4L407.5 221.9L409.5 220.6L411.3 220.1L413.6 219.6L416.4 220.1L418.4 219L419.1 220.1L418.1 221.5L417.1 222.7L418 225.6L418.8 228.6L420.2 231.9L421.6 235.2L421.3 237.2L418.6 237.2L415.8 237.2L413.1 237.2L410.7 235.2L408.4 233.1L407.1 230.3L405.8 227.5L404.5 224.7Z"/>
<path fill="#d0d1e6" d="M410.1 212.6L410.9 213.6L413.4 213.9L415.9 214.1L418 213.6L420.2 213.1L422.5 213.7L424.7 215.7L421.9 218.3L419.7 218L418.4 219L416.4 220.1L413.6 219.6L411.3 220.1L411.3 219.6L410 217.5L410.1 216.2L409.7 214.4Z"/>
<path fill="#d0d1e6" d="M406.4 206.9L407.8 204.1L409.4 202.9L411.7 203L414.3 202.7L416.9 202.4L418.5 203.9L420.7 206.4L421.1 209.3L422.4 209.8L424.3 210L425.2 211.8L422.5 213.7L420.2 213.1L418 213.6L415.9 214.1L413.4 213.9L410.9 213.6L410.1 212.6L409.6 211.6L407.4 210L406.2 208.7L404.7 207.7Z"/>
<path fill="#d0d1e6" d="M349 185.2L348.5 186L347.7 186.3L347.3 186.7L348.2 187.5L349.4 187.3L350.4 187.7L350.9 187.8L352.3 189L351.7 191.5L351.1 194L348.6 194.3L346.1 194.6L343.6 195L341.1 195.3L341.3 192.3L341.5 189.4L341.7 186.5L343.7 185.6L345.7 184.7L347.7 183.8Z"/>
<path fill="#a6bddb" d="M318.3 166.1L320.8 166.1L323.4 166.1L326 166.1L328.6 166.1L331.2 166.1L333.8 166.1L336.3 166.1L338.9 166.1L341.5 166.1L341.8 163L342.1 159.9L342.4 156.9L339.9 156.9L337.4 156.9L335 156.9L332.5 156.9L330 156.9L327.5 156.9L325.1 156.9L322.6 156.9L320.1 156.9L319.5 159.9L318.9 163Z"/>
<path fill="#a6bddb" d="M615.9 348.7L615.6 352.6L615.3 356.5L614.9 360.3L614.5 364.2L614 368.1L613.5 371.9L612.9 375.8L612.3 379.6L611.6 383.5L611 387.4L610.2 391.2L609.4 395.1L608.5 399L607.5 402.8L606.4 406.7L605.2 410.6L603.9 414.4L602.5 418.3L601.1 422.2L599.5 426L597.9 429.9L596.1 433.7L594.3 437.5L592.4 441.3L590.4 445.2L593.4 445.2L596.4 445.2L599.4 445.2L602.4 445.2L605.4 445.2L608.4 445.2L611.4 445.2L614.4 445.2L617.4 445.2L620.4 445.2L623.4 445.2L626.4 445.2L629.4 445.2L632.4 445.2L635.4 445.2L638.4 445.2L641.4 445.2L644.4 445.2L647.4 445.2L650.4 445.2L653.4 445.2L656.4 445.2L659.4 445.2L662.4 445.2L665.4 445.2L668.4 445.2L671.4 445.2L674.4 445.2L677.4 445.2L680.4 445.2L683.4 445.2L686.1 441.5L688.8 437.7L691.3 434L693.7 430.3L696 426.5L698.1 422.8L700.1 419L702 415.3L703.8 411.5L705.5 407.7L707.1 404L708.5 400.2L709.8 396.5L711 392.7L712 388.9L712.9 385.2L713.8 381.4L714.7 377.7L715.5 373.9L716.3 370.1L717 366.4L717.7 362.6L718.2 358.9L718.7 355.1L719.1 351.3L716 351.6L712.8 351.8L709.6 352L706.5 352.3L703.3 352.5L700.2 352.7L697 353L693.8 353.2L690.7 353.4L688.7 353.2L686.8 352.9L683.4 352.7L680.1 352.5L676.7 352.3L673.3 352.1L670 351.9L666.6 351.7L663.2 351.5L659.8 351.3L656.5 351.1L653.1 350.9L649.7 350.7L646.3 350.5L643 350.3L639.6 350.1L636.2 349.9L632.8 349.7L629.4 349.5L626.1 349.3L622.7 349.1L619.3 348.9Z"/>
<path fill="#a6bddb" d="M724.6 414L727.6 414L730.5 414L733.5 414L736.5 414L739.5 414L742.5 414L745.5 414L748.5 414L751.5 414L754.4 414L757.4 414L755.4 417.6L753.2 421.1L750.9 424.7L748.5 428.2L746 431.8L743.3 435.3L740.4 438.8L737.5 442.4L734.5 445.9L731.4 449.3L728.2 452.8L725.4 452.8L722.7 452.8L719.9 452.8L717.1 452.8L714.4 452.8L711.6 452.8L708.8 452.8L706.1 452.8L703.3 452.8L700.5 452.8L697.8 452.8L700.7 449.3L703.5 445.9L706.3 442.4L709 438.8L711.6 435.3L714 431.8L716.4 428.2L718.6 424.7L720.7 421.1L722.7 417.6Z"/>
<path fill="#f1eef6" d="M688 334.6L687.9 338.1L687.7 341.5L687.5 345L687.2 348.4L686.9 351.9L689.1 352.9L691.3 354L694.2 354.3L697.1 354.7L700 355.1L702.9 355.4L705.8 355.8L708.8 356.2L711.7 356.6L712.7 354L713.8 351.3L714.8 348.7L717.5 348.3L720.2 347.9L723 347.4L722.8 344.4L722.7 341.3L722.5 338.3L719.2 337.4L716 336.4L712.7 335.5L709.4 334.6L706.2 333.6L702.9 332.7L699.7 331.8L696.8 332.1L693.9 332.4L691 332.7L688.1 333.1Z"/>
<path fill="#2b8cbe" d="M720.5 344.3L722.4 343.9L724.4 343.5L727 345.6L729.6 347.7L732.2 349.8L734.7 351.9L737.2 354L734.4 357.9L731.6 355.7L728.7 353.5L725.9 351.3L722.9 349.1L720 346.9Z"/>
<path fill="#74a9cf" d="M742.5 364.4L744.8 364.4L747.1 364.4L747.3 367.4L747.4 370.5L747.5 373.5L745 374.2L742.6 374.8L742.4 372.2L742.3 369.6L742 367Z"/>
<path fill="#d0d1e6" d="M765.7 368.3L768.4 368.3L771.1 368.3L773.7 368.3L773 371.4L772.3 374.4L771.5 377.5L768.8 377.5L766.2 377.5L763.5 377.5L764.3 374.4L765 371.4Z"/>
<path fill="url(#hatch)" stroke="#cfcfcf" d="M733.5 379.5L735.7 381L737.9 382.4L740.1 383.9L742.3 385.3L739.3 387.9L737.1 386.2L735 384.4L732.8 382.7Z"/>
<path fill="#a6bddb" d="M-2.7 279.5L0.3 279.5L3.2 279.5L6.2 279.5L9.1 279.5L12.1 279.5L12.9 276.1L13.7 272.6L14.5 269.1L11.6 269.1L8.6 269.1L5.7 269.1L2.8 269.1L-0.2 269.1L-1 272.6L-1.9 276.1Z"/>
<path fill="#d0d1e6" d="M615.8 322.4L616.2 323.7L619 324.4L622.4 323.9L624.7 324.4L627 323.9L627.7 321.8L629.2 320L629.3 316.9L630.2 316.6L632.6 316.6L633.9 316.9L634.6 316.7L636.4 315.8L638.2 314.8L635.2 311.5L632.1 308.3L629.2 310.4L626.2 312.6L623.3 314.8L621 317L618.8 319.1L616.6 321.3Z"/>
<path fill="#f1eef6" d="M615.8 322.4L616.2 323.7L619 324.4L622.4 323.9L624.7 324.4L627 323.9L627.7 321.8L629.2 320L629.3 316.9L630.2 316.6L632.6 316.6L633.9 316.9L634.6 316.7L636.5 317.1L638.3 317.4L638.5 321.1L638.6 324.8L638.6 328.5L638.5 332.2L638.4 335.9L638.3 339.6L635.1 339.4L632 339.3L628.8 339.1L625.6 338.9L622.5 338.8L619.3 338.6L616.2 338.5L613 338.3L613.1 335.2L613.2 332L613.2 328.9L613.2 325.8L613.2 322.6Z"/>
<path fill="#f1eef6" d="M580.5 311.7L583.2 311.8L585.9 312L588.6 312.2L591.7 314.8L594.8 317.4L597.9 320L600.9 322.6L604 325.2L605.5 328.7L607 332.2L608.5 335.7L608.7 339.1L608.9 342.5L612 343.3L615.1 344.1L618.2 344.9L621.3 345.8L624.4 346.6L627.5 347.4L628.1 350L628.7 352.6L629.2 355.3L626.1 354.4L623 353.6L619.9 352.8L616.8 352L613.7 351.2L610.6 350.4L607.5 349.5L604.4 348.7L601.6 345.5L598.7 342.2L595.8 338.9L592.9 335.7L590 332.4L587 329.1L584 325.9L580.9 322.6L580.8 319L580.7 315.3Z"/>
<path fill="#f1eef6" d="M629.3 348.2L632.3 348.2L635.3 348.2L638.4 348.2L641.4 348.2L644.4 348.2L647.4 348.2L650.5 348.2L653.3 348.5L656.2 348.7L654.2 351.3L652.3 354L649.3 355L646.3 356L643.5 355.5L640.7 355L637.9 354.5L635.1 354L632.2 353.4L629.4 352.9L629.4 350.6Z"/>
<path fill="#f1eef6" d="M635.8 343.5L639 343.5L642.1 343.5L645.3 343.5L648.5 343.5L648.6 340.3L648.8 337L648.9 333.8L649 330.6L649 327.3L652.4 323.4L649.5 323.5L646.6 323.7L644 323.7L641.4 323.8L638.8 323.9L636.2 323.9L636.3 327.2L636.3 330.5L636.2 333.7L636.1 337L636 340.2Z"/>
<path fill="#f1eef6" d="M652.2 338.3L654.9 338.3L657.7 338.3L660.5 338.3L663.2 338.3L666 338.3L665 334.9L663.9 331.5L662.8 328.1L661.6 324.7L660.4 321.3L658.1 321.3L655.8 321.3L655.2 324.7L654.5 328.1L653.8 331.5L653 334.9Z"/>
<path fill="#f1eef6" d="M664 329.1L667 329.6L670 330.1L673 330.6L676 331.1L679.1 331.6L682.1 332.1L685.1 332.6L688.1 333.1L688 334.6L687.9 338.1L687.7 341.5L687.5 345L687.2 348.4L686.9 351.9L683.9 351.7L680.8 351.5L677.8 351.3L675 348.7L672.2 346.1L669.4 343.5L666.6 340.9L663.7 338.3L663.8 335.2L663.9 332.2Z"/>
<path fill="#f1eef6" d="M631 308.3L634.2 309.6L637.4 310.9L640.7 312.2L643.9 313.5L646.8 313.8L649.7 314.1L652.6 314.5L655.5 314.8L655.3 311.1L655.1 307.5L654.8 303.8L654.4 300.2L654 296.5L653.6 292.9L653.1 289.2L652.5 285.5L651.9 281.9L651.2 278.2L647.9 278.2L644.7 278.2L641.4 278.2L638.1 278.2L634.8 278.2L635.5 281.9L636.1 285.5L636.6 289.2L637.1 292.9L637.5 296.5L635.9 299.4L634.3 302.4L632.6 305.3Z"/>
</g>
<path fill="none" stroke="#7f7f7f" stroke-width="0.5" stroke-linejoin="round" d="M70.3 160.1L73 159.3L75.8 158.6L77.7 158.2L79.6 157.8L80.7 158.9L83.9 158.5L84.3 156.9L84.1 155.5L83.1 155L82.1 154.4L81.2 153.9L84.1 152.6L88 151.6L91.8 150.6L95.6 149.6L98.7 149L101.8 148.4L104.8 147.8L107.9 147.2L109.3 147.7L110.6 148.2L112 148.7L113.4 149.1L114.9 149.3L116.5 149.4L118.1 149.6L119.8 149.7L121.6 149.8L123.4 149.9L125.2 150L126.8 150.5L128.3 151L129.9 151L131.5 151.1L132.9 151.3L134.3 151.5L135.7 151.8L138.1 151.5L140.4 151.3L142.9 151L145.3 150.7L147.7 150.1L150 149.5L152.3 148.9L152.6 150.1L152.9 151.3L157.1 149.8L158.4 150.4L159.7 151L161 151.5L162.8 151.9L164.7 152.3L166.5 152.6L167.8 153.1L169 153.5L170.3 154L172.3 154.2L174.4 154.4L176.4 154.6L178.3 154.4L180.2 154.2L182.1 154L184.2 154.2L186.2 154.4L188.3 154.6L190.3 154.7L192.3 154.9L194.4 155L196.4 155.1L199 154L200.9 153.7L202.8 153.5L206.3 150.2L207.5 147L210.1 145.9L210.8 147L211.5 148.1L210.4 151.3L211.6 152.4L212.9 153.5L213.6 154.9L214.3 156.2L218.8 153.5L223.4 150.7L225.6 151.1L226.3 152.4L223.1 155.8L219.5 158.5L217.9 158.3L216.3 158.2L214.7 158L210.5 160.3L206.6 163.3L204.3 164.1L201.9 164.9L199.9 165.7L197.9 166.5L194.8 168.5L191.6 170.5L189.6 173.3L187.5 176L187.8 178L188.2 179.9L190.4 180.2L192.6 180.4L194.7 181.6L196.3 182.6L198 183.6L199.7 184.6L202.1 184.8L204.6 185.1L203.3 187.7L202.1 190.3L202.6 192.4L203.1 194.5L204.8 194.3L206.5 194L208 191.1L209.5 188.3L210.4 185.8L212.7 184.6L215.1 183.3L216.9 181.3L218.6 179.2L218.2 176.8L218.9 173.2L221.8 169.8L223.7 167.2L225.3 167.5L227 167.7L228.6 167.9L230.4 168.8L232.3 169.6L233.6 170.4L235 171.2L234.5 173.2L234 175.1L235.2 177.5L237.6 176.8L240 176L244.5 172.4L244.4 174.6L244.4 176.8L245.2 179.2L246 181.6L247.9 184.1L249.8 185.3L251.8 186.5L252.6 189.4L253.5 192.3L249.8 194.3L246.4 195.8L243 197.3L240.4 197.3L237.7 197.3L235 197.3L232.5 197.4L230 197.5L227.5 198.7L225.1 199.8L221.1 202.4L218 205.4L220.4 204.4L224.3 202.1L226.7 201.1L229 200.1L231 200.2L233 200.3L233.2 201.3L231 203.1L230.7 205.4L230.6 207.5L233 208L235.4 208.5L237.4 208.7L239.4 205.4L240.1 208L237 210L234.2 210.8L231.4 211.6L228.8 213.1L226.1 214.6L225.5 213.4L227.7 211.6L229.9 209.8L226.7 210L224.3 211L220.8 212.3L218.7 213.2L216.7 214.1L215 215.9L215 216.6L213.9 217.5L215.6 218.8L214.3 219.6L212.1 219.8L208.8 220.3L206.2 221.9L205.7 223.4L202.9 226.3L202.2 227.3L199.1 231.2L199 233.5L199 235.8L196.4 237.5L192.8 239.5L190.3 240.8L187.8 242.2L184.8 244.3L183.9 246.5L182.9 248.7L183.3 251.1L183.7 253.4L183.6 257L183.5 260.5L181.5 262.2L180 260.2L179.3 258L178.6 255.8L178.7 251.9L176.8 249.5L173.9 250.3L172 249.4L170.1 248.5L168.4 248.2L165.4 248.7L165 251.6L162 251.9L159 250.6L157 250.4L155.1 250.3L152.6 251.3L149.4 253.4L146.3 255.5L145.8 257.8L145.4 260.1L144.2 263.9L143.2 266.7L142.3 269.6L142.9 273L143.9 275.4L145 277.7L147.7 279.5L148.5 280.5L150.7 279.9L152.9 279.3L155.4 277.7L157.9 276.1L158.5 273L160.8 272.4L163 271.7L166.4 271.4L166.7 272.7L164.9 275.1L163.7 277.3L162.4 279.5L162.3 282.1L161.3 284.2L160.2 286.3L163.4 286.6L166.3 286.3L169.2 286.1L171.1 287.4L173 288.7L172.4 291.3L171.8 293.9L171.4 296.5L171 299.1L172.4 301.7L174.1 304.3L176.8 303.9L179.4 303.4L181.6 303.5L183.8 303.6L185.3 305.4L183.8 309L183 306.2L180.3 304.6L178.1 306.4L178.5 308.8L176.2 308L174.3 307.3L172.4 306.7L170.8 305.6L168.4 303.8L166 302L166.4 299.1L164.7 296.6L163.1 294.2L160.4 293.4L158.7 292.7L156.9 292.1L154.6 291L152.3 290L150.6 288L148.9 286.1L146.9 285.5L144.9 286.2L142.8 286.8L140.4 285.8L137.9 284.8L135.5 283.8L133.1 282.5L130.6 281.1L128.5 279.5L126.3 278L123.7 274.6L124.7 274.1L124.8 271.6L125 269.1L123.3 267.3L121.9 264.9L120.6 262.6L117.8 260L116.8 257.5L115.9 255L115.1 252.5L114.4 250L113.5 246.4L111.9 245.6L110.3 244.8L109.9 248.2L110.7 250.8L111.6 253.4L112.8 257.3L114 260L114.5 262.3L115 264.7L115.3 268L113.4 264.7L111.1 263.1L112 260L110 258.4L108 256.8L106.5 255.3L109 253.4L106.7 249.8L106.5 247.3L106.3 244.8L105.9 242.9L105.9 242.5L104.3 239.6L102.3 238.7L100.4 237.9L100.9 235.2L99.7 232.3L99.8 229.2L99 228.6L99 225.5L99.1 222.4L100.4 220.3L101.8 218.3L102.3 216.2L104.1 214L105.9 211.8L107.3 209.6L108.7 207.5L109.6 205.4L110.6 201.8L113.3 202.4L115.3 200.6L115 200.3L115.2 199.6L114.8 197.8L113 196.5L111.8 195.9L110.6 195.3L110.9 192.8L111.4 190.3L110.5 187.8L110.8 186L110.2 184.7L109.5 183.3L109.2 180.9L108.8 178.5L107.6 177.2L105.9 176L105.2 175.2L104.4 174.4L103.3 173.2L100.7 172.9L97.7 173.2L96.6 172.1L95.4 171L92.4 172.1L89.4 173.2L86.8 173.7L84.2 174.3L81.5 174.8L85.2 172L89.8 170.3L86 171.7L82.1 173.2L77.6 175.6L73.3 177.4L69 179.2L64.6 181L60.3 182.8L56.7 184L53.2 185.1L50.7 185.6L48.3 186L46 186.4L43.8 186.8L48.1 185.3L51.8 184.1L55.5 182.8L59.6 181.3L63.7 179.7L69.1 176.5L67.5 176.3L65.9 176L63.5 176.3L61 176.5L63.1 173.6L62.2 172.8L61.4 172L60.2 171.7L63.9 168.9L69.4 166.5L72.9 165.7L76.4 164.9L79.4 162.6L77.2 162.6L75 162.6L73.3 162.6L71.6 162.6L70.9 161.3ZM113.1 202.1L111.5 201.3L109.8 200.6L108.9 199.1L107.9 197.5L107.4 195.8L109.8 196.3L111.3 197L112.7 197.8L113.6 200.1ZM105.2 190.3L105.1 188.5L104.9 187.3L106.6 187.8L105.5 190L104.4 192.3ZM76.6 178.9L73.5 180L70.5 181.1L71.6 179.2L73.9 178.5L76.2 177.7ZM57.5 164.7L59.4 165.1L61.3 165.6L62.3 165.2L61.4 164.7L60.5 164.2ZM58 172.2L58.1 173.2L56.1 173.3L54.2 173.4L55.9 172.4ZM242.1 203.9L244.9 200.3L247.1 198.3L250.3 194.5L253.2 193.8L251.6 196.8L251.5 199.1L253.4 199.4L255.3 199.8L255.2 202.1L255.9 204.1L253.3 206.4L252.4 204.9L250.6 205.2L248.8 205.4L249.1 203.9L246.5 203.9L244 203.9ZM233.8 198L236.2 199.1L238.7 200.1L237.9 199.3L235.5 198.2ZM231.1 206.4L233.5 206.7L235.9 206.9L234.6 208L231.7 207.2ZM171.3 270.7L173.6 268.6L175.9 268L178.2 267.5L181.6 267.5L183.7 268.7L185.8 269.8L188 270.9L190 271.8L192 272.7L195.2 275.1L191.9 275.9L189.4 275.9L186.9 275.9L188.3 274.1L185.6 271.7L183.4 271.3L181.2 270.9L178.4 269.9L175.6 270.4L173.3 270.7ZM194 279.8L197.1 276.1L198 275.9L200.5 276.1L202.5 276.4L204.5 276.7L205.8 277.4L207.9 279.3L206.2 279.8L203.9 280.3L201.3 281.9L200 280.8L197.5 280.6L194.1 280.3L197.7 279.3L198 278.2L196 279ZM184.9 279.8L188.1 279.5L189.8 280.8L187.4 281.6ZM210.3 279.8L212.1 279.9L213.9 280.1L213.4 280.8L210.2 280.8ZM221 299.6L223.3 299.6L222.9 301.5L220.9 301.5ZM188 262L188.3 264.7L188 264.9L186.9 263.6ZM190.6 258.4L189.8 257.6L187.5 258.1L186.6 258.4L189.4 258.6ZM192.2 262.6L191.2 261.5L191.8 263.6ZM192.6 266.5L193.4 267.3L194 267.8L193.2 266.7ZM282.1 173.6L279.9 172.7L277.6 171.7L275.4 170.8L274.4 168.6L273.4 166.5L272.5 164.9L271.6 163.3L271.3 161.2L271.1 159.1L270.8 157.1L274.1 154.7L277.5 152.4L276 151.3L274.6 150.2L273.2 149.1L273.5 147L273.3 144.2L272.8 142.5L272.3 140.7L272 138.7L270 138.5L268 138.3L266 138.1L264 137.8L262 137.6L260.8 137.3L259.5 137L258.3 136.6L257.2 135.5L256.3 134.3L255.4 133.1L257.7 132.5L260.1 131.9L262.4 131.3L264.7 130.6L267 130L269.4 129.4L271.8 128.9L274.2 128.3L276.2 127.9L278.3 127.5L280.3 127.1L282.3 126.7L284.2 126.3L286.2 126.2L288.2 126L290.1 125.9L292.1 125.7L294 125.6L296 125.4L297.9 125.3L299.8 125.1L301.7 125L303.6 124.9L305.5 124.8L307.3 124.7L309.2 124.6L311 124.5L312.9 124.5L314.7 124.4L316.6 124.3L318.4 124.2L320.2 124.3L322 124.4L323.7 124.4L325.5 124.5L327.3 124.6L329.1 124.7L330.6 125.1L332.1 125.6L333.7 126.1L335.3 126.7L337 126.8L338.7 126.9L340.4 127L342.1 127.1L343.8 127.2L345.5 127.3L343.5 128L341.4 128.6L339.3 129.3L337.2 130L336 131.8L334.8 133.7L333.6 135.7L333.9 137.6L334.3 139.7L332 141.2L329.7 142.8L328.7 144.9L327.7 147L326.7 149.1L324.9 150.2L323 151.3L321.1 152.4L318.6 152.7L316.2 153L313.8 153.3L311.3 153.7L308.9 154L306.8 155.5L304.6 156.9L302.5 158.5L300 159.3L297.5 160.1L295 161.3L292.5 162.6L289.6 166.1L287.6 168.4L285.4 170.8ZM246.6 167L244.7 167.8L242.7 168.6L241 168.1L239.2 167.6L237.5 167.1L235.7 166.5L234.7 165.2L233.6 163.9L232.6 162.6L230.9 162L229.2 161.5L227.5 161L229.6 160.7L231.8 160.5L234 160.3L237.1 158L238.3 154.6L236.6 154.1L234.8 153.5L233.8 151.9L232.9 150.2L231.2 150.2L229.6 150.2L227.9 150.2L226.2 149.9L224.6 149.5L222.9 149.1L221.3 149.1L219.6 149.1L218 149.1L217.9 146.3L220.6 144.5L223.4 142.8L225.1 142.7L226.7 142.6L228.4 142.6L230.4 142.5L232.4 142.5L234.4 142.4L236.5 142.4L238.1 142.2L239.8 142.1L240.4 143.4L241 144.7L242.4 145.5L243.8 146.3L245.2 147.2L246.7 148.1L248.1 148.5L249.4 148.9L250.8 149.4L251.2 151.4L251.7 153.5L253.3 154.6L255 155.8L256.6 156.9L256.5 157.6L254 158.9L251.4 160.3L248.5 162.6L246.2 165.4ZM209.7 162.6L211.9 162L214 161.5L216.1 161L217.1 162L218.2 163.1L219.3 164.2L216.7 165.4L214.2 166.5L212.3 166.1L210.4 165.6L208.1 164.9ZM170.1 147L175.2 144.7L177.8 144.2L180.4 143.8L183 143.4L184.3 143.7L185.6 144L186.9 144.2L189.2 144.1L191.5 144L193.7 143.8L192.9 147L193.6 148.4L194.3 149.8L191.7 150.5L189.1 151.2L186.5 152L184.2 152.2L181.9 152.4L180.5 152L179.2 151.7L177.9 151.3L176.8 150.8L175.6 150.3L174.5 149.8L172.8 149.5L171.2 149.2L169.6 148.9ZM159.7 146.1L162.6 144.4L165.5 142.8L170.1 141.1L172 141.2L173.8 141.2L175.7 141.3L177.6 141.3L178.7 142L179.8 142.8L177.4 143.5L175 144.2L172.5 144.9L168.5 147L166.1 147.2L163.6 147.4L161.2 147.6L160.5 146.9ZM183.5 138.1L186.3 137.3L189.2 136.6L191.5 136.5L193.8 136.4L196.1 136.2L198.3 136.1L199.2 136.7L200.2 137.4L201.1 138.1L196.8 139.7L194.6 139.9L192.5 140.1L190.3 140.3L188.1 140.5L186.6 140.3L185.1 140.1L183.6 139.9L182.1 139.7ZM199.1 144.9L200 145.5L201 146.1L203 146.2L204.9 146.3L208.5 144.2L210 141.9L208.1 141.9L206.3 141.9L204.5 141.9L202 142.8L199.5 143.6ZM209.7 145.5L211.6 145.6L213.6 145.7L215.8 145L218.1 144.2L220 142.1L218.7 141.9L217.3 141.7L215.9 141.5L213.9 142.1L211.8 142.8ZM237.9 140.7L235.8 140.7L233.7 140.7L231.6 140.7L229.5 140.7L227.4 140.7L225.3 140.7L223.7 140.5L222.1 140.3L220.5 140.1L221.1 138.1L223.2 137.7L225.3 137.3L227.3 137L229.4 136.6L231.2 136.6L233.1 136.6L234.9 136.6L236.7 136.6L238.5 136.6L239.5 137.6L240.4 138.7ZM213.5 138.7L212.2 138.4L211 138.1L209.8 137.8L209.7 136.6L211.9 136.4L214.2 136.1L215.1 136.5L216.1 137ZM218.2 140.1L216.3 140.1L214.5 140.1L212.7 140.1L216 138.5L217.5 138.5L219.1 138.5ZM186.9 136.6L184.7 136.9L182.4 137.1L180.2 137.4L177.9 137.6L177.1 136.6L179.3 136.3L181.5 136L183.7 135.6L185.9 135.3L188 135.1L190.2 134.9ZM242.7 137L245.5 135.7L248.2 134.4L250.9 133.1L253.5 132.5L256.1 131.9L258.6 131.3L261.2 130.6L263.8 129.9L266.3 129.2L268.8 128.5L271.3 127.9L273.7 127.3L275.5 126.9L277.2 126.4L279 126L277.4 125.9L275.7 125.7L274.1 125.6L272.5 125.4L270.9 125.3L269.3 125.1L267.7 125L265.7 125L263.8 125L261.8 125L259.8 125L257.9 125.1L255.9 125.1L253.9 125.1L251.9 125.3L249.8 125.5L247.7 125.7L245.6 125.9L243.5 126.1L241.4 126.3L239.3 126.9L237.1 127.5L235 128.1L236.3 128.6L237.6 129L238.9 129.5L239.8 130L240.7 130.4L241.6 130.9L239.5 131.5L237.3 132.1L235.1 132.8L232.6 133.7L230 134.7L231.5 135.1L233.1 135.6L234.6 136.1L235.8 136.4L236.9 136.7L238.1 137L239.7 137L241.2 137ZM234.7 128.3L233.5 128.1L232.4 128L231.2 127.8L228.3 128.6L225.4 129.5L224.1 132.2L225.2 132.5L226.3 132.8L227.3 133.1L229.7 132.6L232.1 132L234.4 131.5L235.8 129.2ZM214.3 134.1L213.2 133.5L212 132.8L210.9 132.2L208.8 132.7L206.7 133.1L207.5 133.7L208.3 134.2L209.1 134.7L210.9 134.5L212.6 134.3ZM207.7 137L206.5 136.7L205.4 136.4L205.4 137.6ZM185.3 305.4L186.4 307L187.9 303.3L189.7 300.7L191.4 299.1L192.8 298.6L194.9 298.3L197.6 296L198.7 295.3L199.5 297.3L198.3 298.6L199 299.4L200.2 298.3L202 297.6L202.6 296L202.9 298.1L206 300.4L209.2 300.2L211.5 300.8L213.8 301.5L215.7 300.2L218.2 300L220.7 299.9L219.3 301.2L221.5 302L222.8 304.3L225.1 305.6L227.3 307.5L228.4 309.6L229.1 310.1L231.3 312.2L233.6 312.2L235.9 312.3L238.6 313L240.9 313.5L242.5 315L244.1 316.9L245.4 318.7L246.5 322.6L247.7 325.2L247.2 327.8L249.2 328.5L251.1 329.1L251.1 331.5L254 331L256.9 330.5L258.9 332.4L260.9 334.4L263.5 334.8L266.2 335.2L268.5 335.2L270.8 335.3L274.3 337.5L277.8 340.6L279.7 341.3L281.7 341.9L281.9 343L282.3 345.9L282.7 348.9L282.1 351L281.5 353.2L278.1 356.6L276.5 359.2L274.8 361.8L274.4 364.4L273.9 367L273.9 370.5L273.8 374.1L272.9 377.5L272 380.8L271.2 383.1L270.4 385.3L268.3 387.6L265.6 387.9L262.8 388.7L260.8 389.6L258.9 390.5L257.1 392.2L255.3 393.9L254.4 395.5L254.6 397.7L254.8 399.9L253 403.6L252.2 405.9L251.5 408.3L250 410.1L248.5 411.9L246.3 415.8L244.4 418.7L242.6 418.8L240.7 419L238.9 418.5L237 417.9L235.4 416.4L235.8 418.2L239 421.3L240.4 422.6L240 424.8L239.6 427.1L237.1 428.2L234.7 429.4L232.4 429.4L230 429.4L230.5 431.6L231 433.8L228.2 434.3L225.5 434.8L227.5 437.9L229.7 439L227.8 439.8L227 439.8L227.6 442.5L228.2 445.2L226.4 446.3L224.6 447.5L224.7 449L227.8 450.8L229.1 452.3L228.1 454.1L227.1 455.9L226.2 458.1L226.3 461.9L228.5 463.8L226.4 464.2L224.6 466.4L224.4 467.7L221.4 466.2L218.5 464.2L214.9 460.4L212.6 457.3L210.3 454.1L209.3 451.8L208.3 449.5L209.4 446.4L208.7 443.5L208 440.5L207.4 436.9L206.7 434.6L206.1 432.2L206.8 431.7L205.8 428.7L204.9 425.7L205.2 423.9L205.7 420.5L205.8 417.3L206.1 414L205.5 410.7L204.9 407.5L205.1 405.9L204.8 402.1L204.6 398.3L204.6 395.4L204.5 392.4L204.5 389.5L204.4 386.1L204.2 382.7L203.8 379.4L203.3 376.1L200.2 372.8L197.2 371.1L194.2 369.4L191.3 366.6L188.5 363.9L187.4 361.5L186.3 359.2L184.5 355.9L182.7 352.6L182.4 351.3L180.7 348.5L179.1 345.6L177.4 342.9L175.7 340.1L177.7 337L178.5 334.4L176.5 333.6L176.9 330.2L177.5 328L178.2 325.8L180.8 324.4L181.3 323.1L183.3 320.4L185.3 317.7L185.1 314.3L184.8 310.9L183.8 309ZM228.7 464.4L229.8 466.2L232.9 467.9L235.1 468.7L237.2 469.5L234.9 470.4L233 470.4L231.1 470.4L229.2 470.6L227.4 470.9L225.1 470L222.8 469.1L218.1 465.4L221.7 466.9L223.7 467L225.7 467.2L226.2 464.7ZM438.4 246.1L439 245.3L439.4 244L439.7 242.2L439.9 241.4L440.5 239.3L441.3 237.4L440.9 235.2L440.8 234.1L441.2 232.3L439.2 232.3L437.6 231.8L435.5 233.5L434 233.8L432.1 232.5L429 231.8L428.8 233.3L427 233.3L423.9 232L422.1 231.2L421.6 228.9L419.6 227.9L421 227.6L419.9 225.3L418.6 224.7L418.7 223.4L419 222.9L419.6 222.4L422.8 222.4L424.6 222L426.3 221.5L424.5 220.3L427 220.3L430.1 219.7L432.4 218.5L434.6 218.4L436.8 218.3L438.8 219L439.6 220.1L441.4 220.5L443.1 220.8L445 220.8L446.9 220.8L448.6 220.8L450.6 219.6L450.7 219.3L450.6 217.9L448.7 215.7L446.4 214.6L445.7 214.1L442.5 212.3L441.3 211.3L440.1 210.8L438.7 209.8L441.1 208L441.7 206.2L442.9 204.9L440.9 205.2L439.6 205.4L438.3 206.2L436.7 206.7L435.2 207.2L435.1 209L438.3 209.5L436.2 210.5L433.9 211.8L432.4 211.6L431.9 210L430 209.6L431.9 208.2L432.1 207.5L430.5 207.7L427.5 206.7L426 206.7L424.3 210L424.2 211L422.5 212.6L422.5 213.7L421.3 215.2L420.7 217L421.9 218.3L424.2 220.3L422.2 220.8L421.1 220.9L420 221.9L418.7 223.3L419.4 221.9L418.1 221.5L417.8 221.2L414.6 221.1L413.8 223.4L411.7 222.1L411.5 221.9L411 223.4L411.8 225.1L412.8 226L414.4 228.1L414.6 229.4L412.8 228.6L412.7 229.9L413.1 232.7L411.6 232.8L409.8 231.8L409.4 229.7L408.3 229.2L409.5 228L408.2 227.9L407.4 226.3L406 224.7L405.6 224.2L405.5 223.7L404.1 222.4L404 220.1L403.8 218.5L403.1 218L402.2 217.2L401.8 217.1L400.9 216.6L399 215.5L397.2 214.4L394.6 212.8L392.7 209.8L391.1 210.3L391.3 208.9L388.3 209.5L388.8 210.8L388.5 212.1L389.2 213L391.1 214.1L392.8 217L394.5 218.3L396.9 218.5L398.7 220.6L401 221.8L402.3 223.2L402 224L399.5 222.3L398.3 223.2L399.5 226L398.3 227.6L396.6 228.6L396.6 228.1L397.2 226.3L396.1 223.4L394.3 221.8L393.1 221.4L390.4 220.3L388.7 218.9L386.3 217.2L384.9 215.7L384.5 214.4L383.3 212.8L381.4 212.1L379.6 213.4L378.6 213.7L378.1 213.9L375.3 215.4L374.2 214.9L372.6 214.6L371.1 214.4L369.4 216.8L369.6 217.2L369.9 217.5L367.6 219.8L365.6 220.6L364.8 221.6L362.3 224.9L363.4 226.7L361.9 227.7L360.8 229.7L358.2 232L357.6 231.8L355.5 231.9L353.5 232L351.4 233.6L350.9 233.8L349.4 232.5L349.2 231.8L348 230.7L347 230.7L345.9 231.2L343.6 231.2L343.9 228.8L342.7 226.8L342.7 226.6L342.9 225.1L344.4 221.9L344.6 220.5L344.3 218.6L344.5 217.7L343.5 215.9L345.5 214.6L346.6 213.7L348.9 213.9L351.1 214.1L353.1 214.3L355.1 214.5L356.7 214.6L359.3 214.7L359.7 214.4L360.5 211.6L360.5 208.7L360.5 207.6L358.5 205.2L356.9 204.1L354 203.4L353.3 202L355.9 200.8L358.9 201.3L359.8 201.1L359.1 198.6L359.8 198.7L360.6 199.4L363.2 199.2L365.2 198L366.2 196.8L366.7 195.4L368 195L368.7 194.8L369.7 194.3L370.1 194.1L370.9 193L371.8 191.8L372.3 190.4L373.7 189.3L374.7 189.1L377 189.5L378.6 188.8L379.6 188.9L379.9 188.2L380.5 187.8L380.2 186.5L379.7 185.5L379.1 184.1L378.5 182.8L378.5 180.9L379.2 180.2L381.6 178.9L382.9 178.6L382.9 179.3L382.5 180.6L382.5 182.5L382.1 183.8L381.2 184.1L381.7 185.3L382.1 185.8L382.6 186.9L384.3 187.3L384.2 187.9L385.2 187.8L386.4 187.3L388.1 186.5L389.8 187.5L390.6 188L393.1 187.3L394.9 186.4L396.8 185.9L399.3 186.3L399.1 186.8L400.9 186.7L401.4 186.2L401.3 185.4L402.5 185.4L403.2 184.6L403.4 183.6L403.2 182.7L402.9 181.6L403.6 179.4L405.5 178.6L406.5 180.2L408.6 180.4L409 179.2L408.7 178.3L408.8 177L406.8 176.5L406.5 175.6L407.5 174.8L408.8 174.5L411.1 174.1L413.9 174.5L414.8 174.4L415.6 173.6L417.9 173.3L416.3 172.7L415.5 171.5L413.9 171.8L412.3 172.1L410.6 172.4L409 172.8L407.2 173.2L405.4 173.6L403.7 172.2L402.1 171.2L402 169.6L401.8 167.7L401.6 165.8L403.9 164.1L405.8 162.8L407.7 161.4L404.9 159.6L403.2 159.8L401.5 160.1L399.9 162.1L399 164.2L396.7 165.6L395.4 166.5L394.1 167.5L394.5 169.1L394.4 171.5L397.2 172.7L398 174.4L395.6 176.3L394.1 178L394 181.3L392.7 182.5L390.3 182.8L390.2 184.3L387.9 184.3L387.7 183.8L387.2 182.7L386.7 181.4L385.6 179.7L385.4 178.7L383.9 177L383.6 175.6L383.3 175.1L382.5 173.4L381.9 175.6L381.6 175.4L379.8 176.5L378 177.6L376.2 178L373.4 176.3L372.6 174.6L372.7 172.2L371.9 170.8L372 168.6L374 167.3L375.5 166.2L376.7 165.8L378.3 164.9L380.4 164L381.5 162.8L383.2 161.7L384.7 159.4L386.2 157.3L387.6 156.2L388.4 154.2L390.7 152.9L393 151.1L394.5 151L395.7 150.6L397 150.2L399.3 149.6L400.6 149.1L401.9 148.7L403.5 148.2L405.1 147.7L406.7 147.8L408.3 147.8L409.7 148.3L412 148.8L414.3 149.4L412.5 150.7L414.2 150.7L416.2 151.2L418.1 151.8L419.8 151.9L421.5 152L423.8 152.6L426.2 153.3L428.6 154.2L431 155.1L433.5 156.4L433.8 158.5L431.4 158.9L429.6 158.8L427.8 158.6L426.1 158.5L424.2 158.1L422.4 157.8L420.5 157.2L418.7 156.6L420.8 158L422.5 160.3L424.3 162.6L425.9 163.2L427.6 163.7L429.4 163.7L429.8 162.3L432 162.3L434.2 162.3L432.9 160.7L434.9 158.9L437.1 159L439.3 159.1L438.1 158.2L437.9 156.4L437.6 154.6L435.9 153.2L438.1 154.2L440.4 155.3L442.7 156.9L444.8 155.5L446.2 154.9L447.7 154.3L449.1 153.7L451.3 153.9L453.4 154L454.5 152.6L456.7 153L459 153.3L461.1 152.4L462.9 151.1L463.8 150.7L465.9 151L468 151.3L469.8 151.5L471.5 151.6L473.3 151.8L476 153.5L476.4 151.3L473.5 148.1L473.5 146.1L473.4 144.2L473.2 142.8L477.1 144.9L481.7 148.1L483.5 150.8L485.3 153.5L489.2 155.8L488.9 158L490.2 157.4L491.6 156.9L488.6 153.5L487.3 150.2L486.7 147L488 146L489.3 145.1L492.4 145.9L495.2 147L498.1 148.1L494.4 145.4L490.6 142.8L492.2 142.2L493.7 141.7L495.3 141.7L496.9 141.7L498.4 141.7L497.7 139.3L499 139.1L500.4 138.9L501.7 138.7L503.4 138.4L505 138.2L506.7 137.9L508.3 137.6L509.9 137.4L511.5 137.1L513.2 136.9L514.8 136.6L516 135.9L517.1 135.1L518.3 134.3L520 134.7L521.8 135.1L524.1 135.7L526.4 136.3L528.8 136.6L531.3 136.9L533.8 137.2L539.2 139.7L540.1 142.4L542.3 142.4L544.5 142.5L546.7 142.6L548.8 143L550.9 143.4L553 143.8L554.9 143.7L556.9 143.5L558.8 143.4L560.8 143.3L562.7 143.1L564.7 143L567.5 143.9L570.3 144.9L573.9 146.5L577.5 148.1L579.2 147.7L580.8 147.4L582.4 147.1L584.1 146.8L585.4 146.1L586.7 145.5L588 144.9L590.1 145L592.2 145.1L594.3 145.2L596.4 145.4L598.5 145.5L601.4 146L604.2 146.5L607.1 147L609.5 147.3L612 147.5L614.4 147.8L616.8 148.1L618.7 148.2L620.5 148.3L622.4 148.5L625.3 149.4L628.2 150.2L631.1 151.1L633.1 151L635.1 150.8L637.1 150.7L639 150.6L640.9 150.4L642.8 150.3L644.8 150.2L648.9 152.4L649.4 151.6L649.9 150.9L651.7 150.8L653.6 150.7L655.4 150.7L658.6 151.3L661.9 152L665.2 152.6L669.3 155.3L673.4 158L677.4 160.7L677 161.7L676.5 162.6L675 162.1L681.6 165.6L685.6 167.7L683.4 167.5L681.2 167.2L680.1 167.8L679.1 168.3L678 168.9L677.5 169.9L677 170.9L676.5 172L674.3 172.2L672.2 172.4L670 172.7L668.7 173.1L667.3 173.5L665.9 173.9L666.6 175.6L669.3 179.2L674.6 182.6L672.4 182.8L677.4 185.8L677.1 187.8L676.7 189.8L675.1 190L673.5 190.3L674.2 192.9L674.7 195.6L672.1 193.6L669.6 191.5L665.3 187.8L663.6 185.3L661.9 182.8L659.8 179.2L659.9 177.6L660 176L660 174.4L658.5 170.8L659.8 169.6L656.8 168.8L653.7 168L650.6 167.2L652.6 169.6L650 169.4L647.5 169.1L647.9 171L648.2 172.9L648.5 174.8L646.3 174.6L644.1 174.4L641.9 174.2L639.8 174.4L637.7 174.6L635.5 174.8L633.2 174.8L630.9 174.8L628.6 174.7L627.5 175.7L626.4 176.8L626.1 179.2L625.8 181.7L626.8 185.3L625.2 185.7L623.6 186L627 187.2L630.4 188.3L631.9 187.8L633.4 187.3L636.7 188.9L640 190.5L641.8 194L643.9 197.2L645.9 200.5L646.1 203.2L646.2 205.9L646 209.5L645.8 213.1L644.3 214.1L642.8 215.2L641.3 216.2L638.7 215.4L637.6 216.7L637.4 217.5L636.3 218.8L637.3 220.8L635.8 222.4L634.3 224L634.9 225.5L637.7 227.1L640 229.3L641.6 231.6L643.2 233.8L643.5 236.2L641 237.2L638 237L636.9 235.9L637.1 233.8L636 231.8L635.4 230.1L635 229.3L632.8 228.6L630.9 228.6L631.2 227.1L631.3 226.8L629.8 224.7L627.5 223.8L627.4 223.4L624.8 224.2L622.9 226.3L621.6 225.5L621.3 223.4L621.8 221.6L619.6 221.4L618.1 223.4L617.3 223.7L616 224.9L614.6 226L617.1 228.1L619.1 229.3L620.5 231L622.4 229.2L625.9 229.9L627.2 231.5L625.4 232.6L623.6 233.7L622.9 237.2L625.6 239.1L628.3 242.7L631.4 245.1L632.1 247.2L630.7 248.7L633.2 249.8L633.7 252.1L631.8 254.7L631.5 256.8L630.8 260L629.6 262L628.3 264L625.8 267L623.4 268.6L620.7 269.6L619.1 269.9L615.9 270.9L612.8 272.2L612.5 275L611.1 273L609.5 271.8L607 271.6L605.2 273L604.4 273.5L603.2 275.9L603 279L605.3 282.1L608.2 284.8L609.7 285.9L610.9 288L612 290L612.7 291.8L613.6 295.2L613.3 296.8L611 299.4L608.8 300.8L607.8 302.8L605 305.1L603.7 305.4L604.2 303L602.7 300.6L602.1 300.2L600.5 300.2L598.9 297.4L597.8 296L596.8 294.9L594 294.2L592.9 292.6L591.7 293.4L591.9 295.1L591.6 297.1L591.2 299.1L590.6 300.4L591.6 303.8L592.9 305.9L594.4 309L596.1 309.8L598 311.7L598.5 311.9L600.4 314L601.1 317.9L602.3 321.3L603.5 324.2L602.4 324.4L601.4 323.9L598.7 322.1L597.7 321.3L596.5 320L594.8 317.4L594 313.7L593.5 311L593.1 310.6L591.9 308.3L589 307L588.9 304.3L589.4 301.7L588.8 297.8L588.8 295.3L588.2 293.2L587.5 291L585.9 287.4L585.4 284.8L583.8 283.5L582.1 284L579.7 286.6L577.8 286.1L578 282.1L576.3 278.2L573.4 275.4L571.8 273.8L570.8 271.8L570.1 269.6L568.2 268.8L567.4 269.9L566.2 270.7L565.1 270.9L564.2 271.2L562.2 271.4L560.7 271.4L559.7 273L559.3 274.8L556.8 276.7L554.6 279.1L552.4 281.6L550.5 284.5L550.6 285.3L548.1 285.5L547.5 286.6L546.3 287.9L546.5 290.8L546.8 293.6L546 296.6L546.1 298.8L546.3 300.9L545 300.9L544.7 303.6L542.6 304.9L541.3 306.7L539.9 305.6L538.1 301.9L536.7 298.5L535.5 296.4L534.4 294.3L532.9 290.8L531.4 287.4L529.9 283.5L529 280.8L528.2 278.2L527.9 274.6L527.4 272.6L526.8 269.6L525.9 270.9L523.5 273.8L520.2 271.4L518.7 269.7L520.8 268L518.5 268.3L517.2 266.5L516.5 266.2L514.8 265.2L513.3 263L512.3 261.5L510.1 261.8L507.9 262L505.3 262.2L502.8 262.3L501.2 262L498.9 261.8L495.7 261.3L492.5 260.9L490.5 257.3L488.7 256.8L487 258.1L484.8 258.4L481.4 257.3L478.6 254.8L475.8 252.3L474.1 249.5L472.6 249.5L470.6 249.6L469.3 249.6L469.4 251.1L470.6 253.3L472.3 255.3L473.9 257.3L475 258.8L476.1 261L477.1 263.2L477 262.6L477.7 259.6L478.7 261.8L478.9 263.6L479 264.5L482.1 264.2L485.2 263.9L487 261.9L488.4 260.5L489 258.9L489.4 261L489.4 262.3L490.1 263.9L492.5 265L494.9 266.2L497.9 269.1L496.4 273L495.4 274.3L494.2 278.2L491.6 280.3L488.9 281.9L486.2 283.5L484 284L481.9 284.5L479.7 286.3L477.4 288.2L475.2 290L473.4 291L471.6 292.1L468.8 293.2L466 294.4L464.3 294.6L462.5 294.8L462 293.1L461.1 289.2L460.4 286.8L460.4 285L459.9 283.7L458.6 281.6L457.2 279.5L454.8 276.1L453.1 273.9L451.4 271.7L449.7 267.8L448.5 264.9L446.5 262.6L444.7 260L442.6 256.4L440.9 254.7L440.4 253.4L440.5 251.2L440.6 250.8L440.5 250.7L440.4 250.8L439.3 248.5L438.5 246.4ZM460.8 209L462.3 208L463.8 206.9L466.4 206.1L468.9 205.2L471.5 205.9L472.5 209.5L470.7 210.1L468.9 210.8L467.5 212.1L470.2 215.2L473.4 217.2L474.6 219.8L477.2 220.8L475.6 223.4L477.9 226L478.5 228.1L479 230.2L477.3 231.5L475.2 231.8L473.1 232L469.5 229.9L467.7 227.6L468.1 225L469.7 222.4L467.7 221.1L465.3 218.8L462.3 215.7L461.8 213.1L460 211.6ZM60.8 152.6L61.8 153.1L62.8 153.5L63.8 154L63.9 155.3L64 156.6L65.8 156.9L67.7 157.1L68.3 158L69 159L64.9 160.3L61.3 161.5L57.6 162.8L56.5 162.1L55.5 161.4L54.1 160.9L52.7 160.3L50.6 160.5L48.6 160.7L52.6 158L56.6 155.3ZM351.6 197.7L352.6 197.9L354.7 196.9L356 196.3L358.1 196.4L360.4 195.9L363.4 195.9L365.8 194.9L364.8 194L365.5 193L366.4 191.5L366.3 190.5L364 190.4L363.6 189L363.3 188.8L362.8 187.5L361.8 186.5L360.7 186.2L360.2 185.3L359.9 183.8L359.2 183.3L358 182.7L358 182.1L357.7 181.7L359.1 180L359.6 178.9L357.3 178.7L355.4 178.9L357.4 178L357.3 176.4L355.5 176.5L353.7 176.5L352.7 178L352.2 179.7L352 180.9L351.2 181.1L352 184.6L353.6 183.6L354.2 184.2L353.1 185.7L355.3 185.7L356.6 185.6L356 186.5L357.2 187.8L357 189.3L355.5 189.4L354 189.5L354.2 190.8L354.9 191.5L353.7 192.5L352.5 193.1L353.1 193.8L354.7 193.9L356.6 194.1L357.6 194L356 194.8L354 195.3L353.4 196.3ZM348.9 184.4L351.1 184.8L352.3 186.3L351.5 187.5L351.1 189.4L351.2 191.5L350.5 192.3L349.2 192.5L346.6 193.3L343.6 194.1L342.6 193L342.4 192.5L343.5 191.3L344.4 190.3L345.3 189.6L343.3 189L343.6 187.3L346.3 187.2L346 186L347 184.9ZM324.3 163.4L322.7 164.2L324.8 164.5L327 164.8L329.1 165.1L331.6 164.4L334.1 163.7L336.5 163L339.4 161.2L338 158.2L335.4 158L333.6 158.3L331.8 158.7L330.1 158.8L328.3 158.9L326.3 158.6L324.3 158.2L322.3 159.3L320.3 160.3L322.3 160.9L324.4 161.4L322.6 161.7L320.8 161.9L322.5 162.3L324.2 162.8ZM382.6 215.7L383.1 218L382.4 219.9L381.1 219L381.2 216.7ZM382.4 220.2L383.8 222.1L383.5 225.6L380.9 226.3L380.9 224.1L380.8 221.9L380.3 220.8ZM389.6 229.2L391.7 228.1L394.1 228L396.4 227.9L395.5 229.9L395.6 232.2L393.8 231.2L391.9 230.5L390.1 229.7ZM414 234.9L416.2 235.4L418.1 235.5L420.1 235.7L420 236.5L416.7 236.5L414 235.7ZM433.2 236.5L434.6 235.5L436.3 235.1L438 234.6L436.9 236.5L434.9 237.5L433.5 237.1ZM383.9 183.6L385.9 182.6L387 182.8L387 184.6L386.1 185.3L384.5 184.8ZM381.8 184.1L383.1 183.8L383.8 185.1L382.6 185.3ZM379.1 132.2L381 133L383 133.7L384.6 134.6L386.3 135.5L388 136.4L389.1 134.7L390.7 134L392.3 133.4L393.8 132.8L392.2 132.1L390.6 131.5L389 130.9L387.4 130.5L385.9 130L384.1 130.2L382.4 130.3L380.6 130.4L378.8 130.6ZM389.6 130.4L391.2 130L392.7 129.7L394.3 129.3L396.1 129.4L397.9 129.5L399.7 129.6L401.5 129.7L399.8 130.2L398.1 130.7L396.3 131.3L394.6 131.1L392.9 130.8L391.3 130.6ZM394.4 134.7L396 134.5L397.7 134.3L399.4 134.1L396.8 133L395.4 133.1L394 133.3ZM427.2 130L428.6 129.9L430.1 129.7L431.7 129.7L433.3 129.6L434.9 129.6L436.5 129.6L434.8 130.2L433.3 130.2L431.9 130.2L430.4 130.2L428.8 130.1ZM447.7 147.2L449.6 147.8L451.6 148.3L453.5 148.9L455.5 148.8L457.5 148.7L453.8 146.3L454.1 144.7L454.3 143L455.4 141.5L456.4 140.1L458 139.6L459.5 139.1L461 138.6L462.5 138.1L463.9 137.6L465.1 136.7L466.3 135.9L464.7 136.1L463.2 136.4L461.6 136.6L460.1 137L458.5 137.4L457 137.7L455.4 138.1L453.8 138.5L453 139.5L452.1 140.6L451.2 141.7L450.2 142.8L449.2 143.8L447.9 145.9ZM501.4 131.8L503.8 132.3L506.3 132.8L508.7 133.2L511.1 133.7L512.7 133.5L514.2 133.2L515.7 133L517.3 132.8L514.5 131.8L511.8 130.9L509.2 130L506.5 129.2L503.9 128.3L502.4 128.5L501 128.7L499.5 128.9L498 129.2ZM574.1 138.7L575.8 138.5L577.5 138.4L579.2 138.2L580.9 138.1L583.4 138.3L586 138.5L588.5 138.8L591.1 139L593.7 139.3L594.9 138.7L592.2 138.3L589.5 137.9L586.8 137.6L584.1 137.2L582.2 137.2L580.3 137.2L578.4 137.2L576.5 137.2L575.7 137.7L574.9 138.2ZM654.6 147.6L655.6 146.8L658.1 148.3ZM70.4 146.8L71.8 147.2L73.2 147.6L70.5 148L67.8 148.3ZM654.7 208L654.7 206.2L657.6 207.7L654.7 204.1L655.2 201.1L652.7 200.1L650.2 199.1L648.4 196.5L646.5 194L643.9 190.3L639.2 187L640.2 189L641.5 191.5L644.8 195.3L647 197.8L649.2 200.3L651.8 204.1L653.3 206.4ZM658.4 219.8L660.3 218.8L658.5 217L661.4 217.6L664.4 218.3L665.2 215.7L667 214.9L664.6 212.6L664.5 212.2L662.2 212.8L658.9 211L655.6 209.3L655.3 210L657.5 213.9L656.5 215.2L656.7 217.5ZM659.1 220.2L661.6 219.8L663.2 222.1L665.4 224.5L666.3 227.9L666 229.4L667 231.8L667.4 233.8L668.4 234.6L667.9 236.2L666.6 235.7L665.3 236.2L665.3 237.5L664 237.5L661.8 237.5L661.5 238.3L660.5 239.6L660.1 240.5L657.7 238.5L655.4 237.2L652.9 238L651.3 239.3L648.7 239.1L649.4 237.5L651.2 235.2L652.7 235.2L654.7 235L656.7 234.9L657.6 234.6L658.2 232.3L657.7 230.7L658.4 229.9L658.5 231.5L660.7 230.7L661.5 228.9L661.7 227.3L660.5 223.7L659.7 221.9ZM653 240.9L654.8 242.5L656.9 241.2L657.3 239.6L655.1 238L653 238.8ZM646.9 240.4L648 239.3L649.8 240.1L651.9 241.4L652.3 243.6L652.6 245.9L651.4 246.9L650 246.1L648.8 243L647.2 242.2ZM635.5 261.8L636.8 262.6L636.7 265.2L636.6 267.8L635.9 270.7L634 268.3L633.2 265.7L634.5 262.6ZM609.4 277.7L611.3 275.6L614.6 276.4L613.9 279L611.8 280.3L609.6 279.5ZM546.7 310.1L546.5 306.4L546.6 304.3L546.7 302.3L547.4 303L549.6 305.6L551.1 308.3L550.8 311.1L548.5 312.4L547.1 311.4ZM438.4 246.1L435.8 246.6L434.2 246.2L433 245.6L430 245.7L428.9 246.4L426.9 246.8L424.8 247.2L422.9 246L420.7 245.7L418.4 245.3L415.8 244.2L413.5 242.7L412.3 242.2L410.1 241.9L407.2 244L406.1 247.9L405 248.7L401.6 247.2L398.3 246.1L396.4 243.2L394.1 242.6L391.9 241.9L389.3 241.9L388.3 241.3L386.8 239.8L385 239.3L386.4 237.1L387.1 235.9L386.1 234.2L386.8 231.1L385 231.8L384.2 230.5L381.5 231.4L379.8 231.5L377.9 231.5L375.9 231.7L374 231.9L371.8 231.9L369.6 231.9L367.4 232.2L365.1 232.5L363 234.1L361.6 234.6L360.2 235.7L358.2 236.2L356.7 235.9L354.3 235.9L351.5 234.1L350.4 234.4L350 235.2L349.6 235.9L348 239.1L346.4 240.1L344.4 241L342.7 243.5L341.4 245.6L341.1 247.9L341.8 248.5L340.8 250.8L340.4 251.1L338.3 253.4L336.3 254.7L334.2 255L333.6 255.6L333.5 257L330.5 259.7L328.9 262.8L327.2 266L326 268.2L324.8 270.4L324.4 273.5L326.1 275.6L325.6 277.2L326.2 279.5L326.6 280.6L326 283.3L325.4 285.9L324.2 288.4L323 289.5L324.1 290L324.6 291.8L324.5 292.6L324.7 295.5L327.2 296.9L326.3 297.8L328.6 299.4L331.5 303L332.4 304.2L332.5 305.6L333.5 308L336.5 309.8L338.1 311.4L340.2 313.1L342.3 314.8L345.7 316.5L349.2 315L351.5 314.6L353.8 314.1L355.8 314.5L358.4 315.4L360.4 314.4L362.5 313.4L365.7 311.9L366.8 311.7L368.5 311.3L369.2 311.2L370.8 311L373.3 311.4L374.5 312.7L376.8 316.6L379.1 316.4L381.4 316.1L382.8 315.8L385.3 317.4L385.8 320.3L385.6 321.8L385.5 323L384.5 325.2L384.8 326.8L383 329.7L384.9 333.1L386.7 335.6L388.6 338.2L390.3 340.4L391.1 342.3L391.3 343.5L392.3 347.2L393.3 350.8L393.8 353L394.2 355.3L394.1 357.7L393.9 360.1L392.7 362.2L391.6 364.4L390.7 367.5L390.2 370.2L389.7 372.9L391.4 376.1L392.5 378.8L393.5 381.4L394.6 384.5L395.7 387.6L396 391L396.4 394.4L396.9 397.4L398.2 400L399.6 402.5L400.4 405L401.2 407.5L402.8 410.9L402.5 413.5L403.3 416.4L403.2 417.6L405 418.2L406.5 418.8L408.7 417.8L411 416.9L414.3 416.9L416.6 416.7L418.9 416.5L421.6 415.8L424.1 414L426.8 411.4L429.2 408.6L431.7 405.8L434.2 403L435.4 400.5L436.5 398L436 395.5L438.1 393.9L440.5 392.2L442.8 390.5L442.6 390.3L442.9 387.8L443.1 385.3L442.5 382.5L442 379.7L443.9 378.3L445.8 376.9L446.9 374.6L449.9 372.5L453 370.4L455.5 367L455.7 363.7L456 360.5L455.9 357.8L455.8 355.1L455.1 351.9L454.3 348.7L453.4 345.6L452.3 343.5L453 341.2L453.3 340L454.3 338.4L455.4 336.2L457.3 333.8L458.8 332.2L461.1 328.8L464.5 325.2L467.5 322.5L470.2 320L473.6 316.1L474.7 313.9L475.8 311.7L476.9 309.6L477.5 307L479 303L481 300.7L480.5 297L478.2 297.6L475.8 298.3L472.6 299.1L469.4 299.8L466.3 300.6L464.2 299.3L462.2 297.9L461.9 297.6L461 295.7L461.7 294.7L460.7 293.9L458.7 291.9L456.7 290L454.8 288.5L453 287.1L451.8 284.6L450.6 282.1L450.7 280.8L449 278.8L447.3 276.7L447.6 273L446.3 270.4L444.8 267.9L443.3 265.4L441.8 262.7L440.2 260L438.7 258L438.4 256.7L436.8 253.2L435.1 249.6L435.5 250.3L437.8 254.2L439.3 255.4L439.7 253.4L439.9 252.1L440.4 250.8L439.3 248.5L438.5 246.4ZM476 359L476.7 362.1L477.5 365.2L478.2 368.3L476.9 370.9L476.1 373.1L475.2 375.2L474 379L472.7 382.7L471.4 385.9L470.1 389.2L469.3 391.2L468.5 393.3L466.3 394L464.2 394.7L462.7 391.8L461.3 388.8L461.1 386.4L460.8 384L463.3 380.8L463.7 377.8L464.1 374.8L466.4 371.8L468.6 368.8L471.5 366.5L472.7 364.4L474 362.3ZM690 355.8L688.6 357.9L687.8 360.7L686.6 363.6L686.1 367L684.8 370.3L683.4 373.5L680.3 373.5L677.3 371.7L675.4 369.6L673.5 367.5L672.5 366.2L674 363.9L676.4 360L674.6 359.2L672.3 359.7L670.1 358.9L666.8 357.6L666.2 357.3L663.1 359.7L662.7 360.4L661 362.3L659.7 364.5L658.5 366.7L655.8 366.7L654.5 364.4L652.9 364.1L650.4 365.7L647.1 368.3L644.4 370.7L641.4 372.5L640.8 374.8L637.8 378.5L635.8 379.3L633.7 380.1L631.5 380.8L629.7 381.2L627.8 381.6L625.3 382.7L623.1 383.7L620.9 384.8L619 387.9L618 391.8L617.1 394L616.2 396.1L617.3 399.6L617.7 403L617.6 406.2L617.6 408.8L617.6 411.4L615.9 415.1L614 417.6L616.7 418.4L619.3 419.2L621.4 418.5L623.4 417.7L626.3 417L629.3 416.2L631 416.3L632.7 416.4L635.8 414L639.8 412.2L642.2 411.7L644.6 411.1L647 410.6L649.3 410.4L651.6 410.1L654.4 411.4L656.9 411.7L658.5 414.8L658.8 418.5L662.6 415.3L665.5 412.7L663.2 416.6L660.6 419.8L664.4 418.7L662.5 420.8L665.2 421.6L665 424.2L664.7 426.8L666.4 428L668.1 428.5L669.8 429.1L674.1 426.8L674.6 428.4L675.5 430L679.6 427.1L682 426.5L685.6 425.7L688.2 421.8L690.8 419L693.4 416.2L695.8 413.8L698.4 411.4L701.2 407.5L702.9 405.1L704.6 402.6L704.8 399.4L705.8 395.7L706.8 393.1L705.4 392.6L703.3 390.3L702.8 387.9L700.4 385.8L700.4 382.9L698.8 380.6L696 378.1L694.9 374.8L695 372L694.5 368.3L693.3 365.2L691.7 365.2L691.6 361.3L690.9 357.9ZM669.5 434.1L671.9 434.2L674.3 434.4L676.8 434.6L674.6 437.9L672 440.5L669 441.6L668.2 437.9ZM739.4 417.7L740.2 419.2L741.2 421.3L740.2 423.9L742.4 423.9L741.9 426.3L744.3 426.3L746.7 426.3L742.8 429.9L740.4 430.7L739.6 431.5L734.8 435.4L731.9 435.7L734 433.5L733.6 430.4L736.9 428.4L739.1 425L739.3 422.5L739.3 420ZM729.2 433.5L730.5 435.4L730.2 436.7L726.9 438.7L723.1 441.6L718.3 443.6L714.1 447.5L711.5 448.4L708.9 449.3L706.7 448.2L705.9 446.7L709.1 444.6L712.3 442.6L715.7 441.3L719.2 440L722.3 438.5L726.9 434.8ZM664.8 331.5L667.4 328.9L669.7 329.5L672 330.2L672.2 332.3L672.4 334.4L675.3 336.5L677.1 334.2L678.9 332L681.2 332L684.3 333.3L687.3 334.6L689.4 335.4L691.4 336.2L693.9 337.1L696 337.8L698.8 341.4L700.3 343.5L703.2 343.8L701.3 345.3L702.2 348.5L704.3 350.8L706.3 352.9L708.4 354.7L706.1 355L703.6 353.8L701.1 352.6L698.7 348.7L695.3 347.7L692.9 349.5L691.5 351.6L689.2 351.6L686.9 351.6L685.7 350L683.6 349.8L681.4 349.5L680.4 347.4L680.1 344.2L679.7 340.9L676.3 339.6L672.9 338.3L669.5 338.3L668 335.4L670.8 334.1L668.3 332.9L665.8 331.8ZM704.5 342.2L706.5 341.6L708.5 340.9L712.1 338.8L713.9 339.1L711.9 342.2L708.3 344.3L704.9 343.5ZM710.6 334.9L713.3 336.5L715.5 339.9L714.7 340.1L712.8 337.2L710.4 335.4ZM719 341.4L721.8 344.8L721.3 345.9L719.2 343.2ZM615.8 322.4L617.3 323.4L619.4 321.8L621.4 320.7L623.4 319.5L625.6 316.4L627.6 314.8L629 313.7L630.3 312.2L631.7 309.8L633.9 311.1L635.1 312.7L637.7 314.3L635.5 316.4L634.6 316.7L634 319.5L635.6 322.4L637.2 325.2L634 327.8L633.5 330.5L632.3 331.2L631.3 334.4L631.5 337L630.3 338.3L627.1 337.2L625.3 336.7L623.4 336.2L620.5 335.7L617 335.4L616.9 332.5L614.4 329.1L615.1 327.8L614.4 325.2ZM582.4 313.2L585 313.7L587.5 314.3L590.4 317.9L592.3 320L594.2 322.1L597 323.4L599.1 325L601.2 326.5L602.4 330.2L604 331.8L607.3 335.7L607.1 339.3L606.8 343L603.8 343.2L601.4 340.6L598.7 337.8L595.8 334.4L595.1 332.3L594.4 330.3L591.3 326.5L590.1 323.4L588.3 321.1L586.5 318.7L584.5 316ZM605.1 345.6L607 343.2L608.8 343.8L612 344.3L614.5 345.1L617 345.9L619.6 345.1L622.3 345.9L624.2 346.9L626.1 347.9L626.4 350.6L624.6 350L622.8 349.5L620.5 349.4L618.2 349.3L615.9 348.9L613.6 348.6L611.4 348.2L608 347.2L605.3 345.6ZM626.3 349L628.7 349.8L627.7 350.8L626.4 349.8ZM629.6 349.8L631.3 349.5L630.7 351.1L629.6 350.8ZM631.4 350.3L634 349.6L636.6 349L635.8 350.8L633.8 351.1L631.8 351.3ZM638.4 350L640.8 349.8L643.1 349.5L645.5 349.3L644.5 350.8L641.6 350.8L638.8 350.8ZM636.3 352.9L638.3 353.3L640.4 353.7L639.6 354.7L636.5 353.4ZM646.5 354.7L649 352.4L651.5 350L653.5 349.9L655.6 349.8L653.7 351.1L651.3 352.5L648.8 354L646.7 355ZM637.9 342.5L640.5 342.5L640.5 338.9L640.5 335.4L642.1 335.2L642.1 337.8L641.9 340.4L643.9 340L645.9 339.6L644.2 335.7L642.7 332.8L645.1 331.6L647.6 330.5L645.5 330.2L643.4 329.9L640 326.5L642 324.7L644.3 325.4L646.7 326.1L649 326.8L651.7 323.9L649.9 325.2L647.1 325.3L644.3 325.4L641.6 325.5L639.7 325.5L639.1 327.8L638 331.1L636.9 334.4L638.2 337L638.1 339.7ZM657.2 322.1L658.2 325.2L659.8 323.9L659.6 326.5L658 327.1L659.1 329.9L657.3 328.6L656.8 325.2ZM658 335.4L660.3 335.4L662.7 335.4L664.4 336.7L661.4 337L658.4 337ZM653.4 335.9L656.2 336.2L655.2 337.8L653.4 337.2ZM636.9 279.5L638.2 279.3L640.5 279.5L641.2 283.5L640.3 286.6L641.2 289.2L643 290.8L644.9 291.5L647.4 294.9L646.4 294.4L644.4 292.6L642 291.5L639.7 292.1L638.7 290.8L639.2 289.7L636.6 286.1L637.3 284.8L636.9 282.1ZM643.9 309.8L645.8 307L647.5 305.4L649.5 304.6L651.4 304.3L651.2 302.3L653.3 305.6L654.2 308.8L653.5 311.4L652 309.6L651.7 313.2L649.1 312.2L648.7 309L647 307.5L645.4 308.3ZM647.7 295.2L650.6 296.5L651.3 299.1L649.7 298.6L648.4 297.8ZM648.4 297.8L649.7 298.6L650.4 301.2L649.5 301.7L648.1 299.4ZM642.4 297L644.8 297.8L644.3 300.2L643 300.4ZM643.8 299.4L646.3 299.6L646.2 301.9L646 304.1L644.4 303.3ZM647.1 298.3L647.6 300.7L646.4 303L646.7 300.7ZM647.2 301.5L649 301.5L648.7 302.8L647.3 302.8ZM638.2 292.9L640.5 292.6L641.2 294.9L640.4 296L639.2 294.7ZM632.4 305.9L634.7 302.1L637 298.3L637.4 299.4L635.3 302.9L633.1 306.4ZM720.9 344.8L724.2 346.9L725.1 348.7L723.6 348.2L721 345.9ZM726.2 349.5L728.2 350.8L730.1 352.1L732.2 353.7L729.2 353.4L726.5 350.8ZM731.7 349.8L733.8 352.1L733.4 353.2L732 351.3ZM733.9 354.5L735.6 355.5L734.7 356ZM743.4 366L744.8 367L744.6 368.8L743.5 368.6ZM745.7 370.1L746.8 371.4L746 373L745.4 371.7ZM766.4 373.3L769.4 373.3L768.8 375.4L766.2 375.1ZM770.7 370.4L773.4 369.6L772.9 372L770.4 371.7ZM734.4 380.6L736.9 383.2L738.4 384.6L739.8 386.1L738.7 386.9L737.3 385.4L735.8 384L734.1 381.6ZM9.3 275.9L11.6 276.4L9.8 278.5L9.1 277.4ZM8.6 273L10 273.5L9 274.1ZM5.3 271.4L6.6 272L5.6 272.2ZM2.3 269.9L3.4 270.1L2.6 270.7ZM308.7 287.9L309.8 288.2L309.1 288.9ZM305.6 283.2L306.3 283.5L305.8 283.7ZM307.2 284.4L308.1 284.5L307.6 284.8ZM310.7 285.8L311.2 285.5L311 286.2ZM462 357.6L462.7 357.9L462.2 358.9ZM492.8 380.1L493.9 380.3L493.1 381.4ZM487.8 382.4L489.2 382.7L488.4 383.7ZM378 326.8L378.6 327.1L378.1 327.8Z"/>
<path fill="none" stroke="#d2d2d2" stroke-width="0.8" d="M282.1 173.6L279.9 172.7L277.6 171.7L275.4 170.8L274.4 168.6L273.4 166.5L272.5 164.9L271.6 163.3L271.3 161.2L271.1 159.1L270.8 157.1L274.1 154.7L277.5 152.4L276 151.3L274.6 150.2L273.2 149.1L273.5 147L273.3 144.2L272.8 142.5L272.3 140.7L272 138.7L270 138.5L268 138.3L266 138.1L264 137.8L262 137.6L260.8 137.3L259.5 137L258.3 136.6L257.2 135.5L256.3 134.3L255.4 133.1L257.7 132.5L260.1 131.9L262.4 131.3L264.7 130.6L267 130L269.4 129.4L271.8 128.9L274.2 128.3L276.2 127.9L278.3 127.5L280.3 127.1L282.3 126.7L284.2 126.3L286.2 126.2L288.2 126L290.1 125.9L292.1 125.7L294 125.6L296 125.4L297.9 125.3L299.8 125.1L301.7 125L303.6 124.9L305.5 124.8L307.3 124.7L309.2 124.6L311 124.5L312.9 124.5L314.7 124.4L316.6 124.3L318.4 124.2L320.2 124.3L322 124.4L323.7 124.4L325.5 124.5L327.3 124.6L329.1 124.7L330.6 125.1L332.1 125.6L333.7 126.1L335.3 126.7L337 126.8L338.7 126.9L340.4 127L342.1 127.1L343.8 127.2L345.5 127.3L343.5 128L341.4 128.6L339.3 129.3L337.2 130L336 131.8L334.8 133.7L333.6 135.7L333.9 137.6L334.3 139.7L332 141.2L329.7 142.8L328.7 144.9L327.7 147L326.7 149.1L324.9 150.2L323 151.3L321.1 152.4L318.6 152.7L316.2 153L313.8 153.3L311.3 153.7L308.9 154L306.8 155.5L304.6 156.9L302.5 158.5L300 159.3L297.5 160.1L295 161.3L292.5 162.6L289.6 166.1L287.6 168.4L285.4 170.8Z"/>
<circle cx="222.7" cy="285.4" r="0.55" fill="#f1eef6" stroke="#7f7f7f" stroke-width="0.4"/>
<circle cx="223" cy="287.6" r="0.45" fill="#d0d1e6" stroke="#7f7f7f" stroke-width="0.4"/>
<circle cx="223.6" cy="289.6" r="0.5" fill="#f1eef6" stroke="#7f7f7f" stroke-width="0.4"/>
<circle cx="223.6" cy="291.5" r="0.45" fill="#d0d1e6" stroke="#7f7f7f" stroke-width="0.4"/>
<circle cx="222.9" cy="293.2" r="0.4" fill="#d0d1e6" stroke="#7f7f7f" stroke-width="0.4"/>
<circle cx="226.7" cy="293.5" r="0.45" fill="#f1eef6" stroke="#7f7f7f" stroke-width="0.4"/>
<circle cx="221.6" cy="296.2" r="0.4" fill="#d0d1e6" stroke="#7f7f7f" stroke-width="0.4"/>
<circle cx="222.3" cy="283.2" r="0.4" fill="#d0d1e6" stroke="#7f7f7f" stroke-width="0.4"/>
<circle cx="220.2" cy="282.7" r="0.4" fill="#d0d1e6" stroke="#7f7f7f" stroke-width="0.4"/>
<circle cx="503.5" cy="455.9" r="0.9" fill="url(#hatch)" stroke="#7f7f7f" stroke-width="0.4"/>
<circle cx="532.3" cy="316.9" r="0.35" fill="#f1eef6" stroke="#7f7f7f" stroke-width="0.4"/>
<circle cx="490.8" cy="339.9" r="0.4" fill="#f1eef6" stroke="#7f7f7f" stroke-width="0.4"/>
<circle cx="-30.4" cy="363.6" r="0.6" fill="#d0d1e6" stroke="#7f7f7f" stroke-width="0.4"/>
<circle cx="672.4" cy="308.3" r="0.4" fill="#f1eef6" stroke="#7f7f7f" stroke-width="0.4"/>
<circle cx="727" cy="309.8" r="0.4" fill="#f1eef6" stroke="#7f7f7f" stroke-width="0.4"/>
<circle cx="694.3" cy="292.9" r="0.45" fill="#f1eef6" stroke="#7f7f7f" stroke-width="0.4"/>
<circle cx="761.7" cy="324.2" r="0.35" fill="#f1eef6" stroke="#7f7f7f" stroke-width="0.4"/>
<circle cx="757.3" cy="309.3" r="0.35" fill="#f1eef6" stroke="#7f7f7f" stroke-width="0.4"/>
<circle cx="0.1" cy="322.9" r="0.4" fill="#f1eef6" stroke="#7f7f7f" stroke-width="0.4"/>
<circle cx="774.9" cy="350" r="0.3" fill="#f1eef6" stroke="#7f7f7f" stroke-width="0.4"/>
<circle cx="750.5" cy="329.1" r="0.3" fill="#f1eef6" stroke="#7f7f7f" stroke-width="0.4"/>
<g font-family="Liberation Sans, sans-serif" font-size="13.4" fill="#5b5b5b" text-anchor="middle">
<text x="239.5" y="510.4">No data</text>
<rect x="215.5" y="516.7" width="48" height="11.6" rx="0.8" fill="url(#hatchL)" stroke="#c4c4c4" stroke-width="0.7"/>
<line x1="239.5" y1="513.5" x2="239.5" y2="516.7" stroke="#999" stroke-width="0.6"/>
<rect x="283.2" y="516.7" width="58.5" height="11.6" fill="#f1eef6" stroke="#999" stroke-width="0.5"/>
<rect x="341.7" y="516.7" width="58.5" height="11.6" fill="#d0d1e6" stroke="#999" stroke-width="0.5"/>
<rect x="400.2" y="516.7" width="58.5" height="11.6" fill="#a6bddb" stroke="#999" stroke-width="0.5"/>
<rect x="458.7" y="516.7" width="58.5" height="11.6" fill="#74a9cf" stroke="#999" stroke-width="0.5"/>
<rect x="517.2" y="516.7" width="58.5" height="11.6" fill="#2b8cbe" stroke="#999" stroke-width="0.5"/>
<path d="M575.7 516.7H630.2L634.1 522.5L630.2 528.3H575.7Z" fill="#045a8d" stroke="#999" stroke-width="0.5"/>
<line x1="283.2" y1="513.5" x2="283.2" y2="528.3" stroke="#999" stroke-width="0.6"/>
<text x="283.2" y="510.4">0</text>
<line x1="341.7" y1="513.5" x2="341.7" y2="528.3" stroke="#999" stroke-width="0.6"/>
<text x="341.7" y="510.4">5</text>
<line x1="400.2" y1="513.5" x2="400.2" y2="528.3" stroke="#999" stroke-width="0.6"/>
<text x="400.2" y="510.4">10</text>
<line x1="458.7" y1="513.5" x2="458.7" y2="528.3" stroke="#999" stroke-width="0.6"/>
<text x="458.7" y="510.4">15</text>
<line x1="517.2" y1="513.5" x2="517.2" y2="528.3" stroke="#999" stroke-width="0.6"/>
<text x="517.2" y="510.4">20</text>
<line x1="575.7" y1="513.5" x2="575.7" y2="528.3" stroke="#999" stroke-width="0.6"/>
<text x="575.7" y="510.4">25</text>
</g>
</svg>
<div class="t foot" id="f1a" style="top:549px;left:16.5px;font-weight:bold;transform:scaleX(0.91)">Data source:</div>
<div class="t foot" id="f1b" style="top:549px;left:91.9px;transform:scaleX(1.013)">World Health Organization (2024)</div>
<div class="t foot" id="f2a" style="top:569px;left:16.5px;font-weight:bold;transform:scaleX(0.94)">Note:</div>
<div class="t foot" id="f2b" style="top:569px;left:50.8px;transform:scaleX(0.989)">To allow for comparisons between countries and over time, this metric is age-standardized.</div>
<div class="t foot" id="f3" style="top:549px;left:623.3px;transform:scaleX(0.993)">OurWorldinData.org/suicide | CC BY</div>
</body></html>
